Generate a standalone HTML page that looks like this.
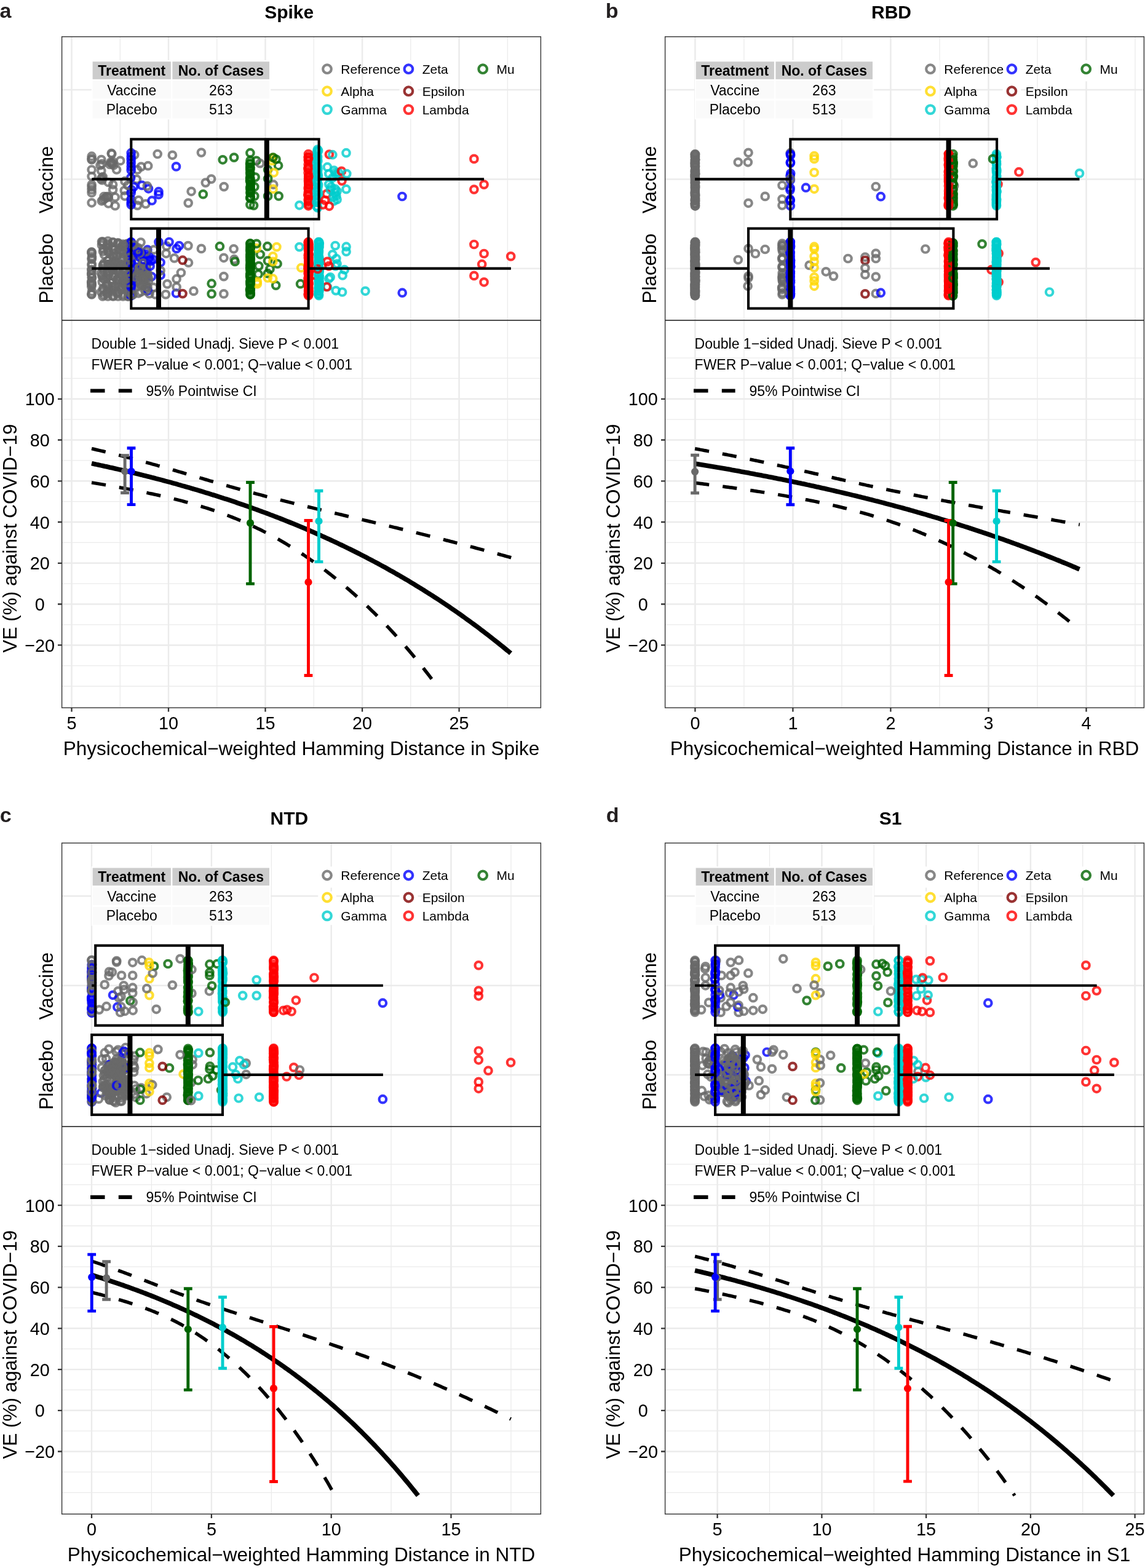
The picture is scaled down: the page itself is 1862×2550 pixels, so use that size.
<!DOCTYPE html>
<html lang="en">
<head>
<meta charset="utf-8">
<title>Sieve analysis: VE by physicochemical-weighted Hamming distance</title>
<style>
html,body{margin:0;padding:0;background:#fff}
body{width:1862px;height:2550px;overflow:hidden}
svg{display:block;font-family:'Liberation Sans', Arial, Helvetica, sans-serif}
</style>
</head>
<body>
<svg width="1862" height="2550" viewBox="0 0 1862 2550">
<rect width="1862" height="2550" fill="#fff"/>
<g transform="translate(0,0)">
<rect x="100.6" y="59.7" width="778.8" height="1091.3" fill="#fff"/>
<g stroke="#ebebeb" fill="none"><path d="M195.3 59.7V1151" stroke-width="1.3"/><path d="M352.8 59.7V1151" stroke-width="1.3"/><path d="M510.3 59.7V1151" stroke-width="1.3"/><path d="M667.8 59.7V1151" stroke-width="1.3"/><path d="M825.4 59.7V1151" stroke-width="1.3"/><path d="M116.5 59.7V1151" stroke-width="2.45"/><path d="M274 59.7V1151" stroke-width="2.45"/><path d="M431.5 59.7V1151" stroke-width="2.45"/><path d="M589.1 59.7V1151" stroke-width="2.45"/><path d="M746.6 59.7V1151" stroke-width="2.45"/><path d="M100.6 146H879.4" stroke-width="2.45"/><path d="M100.6 291.4H879.4" stroke-width="2.45"/><path d="M100.6 436.6H879.4" stroke-width="2.45"/><path d="M100.6 1116H879.4" stroke-width="1.3"/><path d="M100.6 1082.6H879.4" stroke-width="1.3"/><path d="M100.6 1049.2H879.4" stroke-width="2.45"/><path d="M100.6 1015.9H879.4" stroke-width="1.3"/><path d="M100.6 982.5H879.4" stroke-width="2.45"/><path d="M100.6 949.1H879.4" stroke-width="1.3"/><path d="M100.6 915.8H879.4" stroke-width="2.45"/><path d="M100.6 882.4H879.4" stroke-width="1.3"/><path d="M100.6 849H879.4" stroke-width="2.45"/><path d="M100.6 815.6H879.4" stroke-width="1.3"/><path d="M100.6 782.3H879.4" stroke-width="2.45"/><path d="M100.6 748.9H879.4" stroke-width="1.3"/><path d="M100.6 715.5H879.4" stroke-width="2.45"/><path d="M100.6 682.2H879.4" stroke-width="1.3"/><path d="M100.6 648.8H879.4" stroke-width="2.45"/><path d="M100.6 615.4H879.4" stroke-width="1.3"/><path d="M100.6 582.1H879.4" stroke-width="1.3"/></g>
<rect x="148.8" y="97.9" width="291.4" height="96.3" fill="#fff"/><rect x="150.6" y="100.2" width="127.3" height="28.7" fill="#ccc"/><rect x="280.4" y="100.2" width="157.6" height="28.7" fill="#ccc"/><rect x="150.6" y="131.4" width="127.3" height="29" fill="#fafafa"/><rect x="280.4" y="131.4" width="157.6" height="29" fill="#fafafa"/><rect x="150.6" y="163.6" width="127.3" height="29" fill="#fafafa"/><rect x="280.4" y="163.6" width="157.6" height="29" fill="#fafafa"/><g font-size="23" fill="#000" text-anchor="middle"><text x="214.2" y="123.2" font-weight="bold">Treatment</text><text x="359.3" y="123.2" font-weight="bold">No. of Cases</text><text x="214.2" y="154.7">Vaccine</text><text x="359.3" y="154.7">263</text><text x="214.2" y="185.7">Placebo</text><text x="359.3" y="185.7">513</text></g>
<rect x="517.2" y="98" width="29.8" height="34.3" fill="#fff"/><rect x="649.6" y="98" width="29.8" height="34.3" fill="#fff"/><rect x="770.3" y="98" width="29.8" height="34.3" fill="#fff"/><rect x="517.2" y="138.3" width="29.8" height="54.7" fill="#fff"/><rect x="649.6" y="138.3" width="29.8" height="54.7" fill="#fff"/><g fill="none" stroke-width="4.2" stroke-opacity="0.8"><circle cx="532" cy="112.2" r="6.8" stroke="#696969"/><circle cx="532" cy="148.2" r="6.8" stroke="#ffd700"/><circle cx="532" cy="178.1" r="6.8" stroke="#00cdcd"/><circle cx="664.4" cy="112.2" r="6.8" stroke="#0000ff"/><circle cx="664.4" cy="148.2" r="6.8" stroke="#800000"/><circle cx="664.4" cy="178.1" r="6.8" stroke="#ff0000"/><circle cx="785.2" cy="112.2" r="6.8" stroke="#006400"/></g><g font-size="21" fill="#000"><text x="554.3" y="119.6">Reference</text><text x="554.3" y="155.6">Alpha</text><text x="554.3" y="185.5">Gamma</text><text x="686.7" y="119.6">Zeta</text><text x="686.7" y="155.6">Epsilon</text><text x="686.7" y="185.5">Lambda</text><text x="807.5" y="119.6">Mu</text></g>
<g fill="none" stroke-width="4.2" stroke-opacity="0.8"><circle cx="501.3" cy="462.9" r="5.75" stroke="#ff0000"/><circle cx="177" cy="468.4" r="5.75" stroke="#696969"/><circle cx="502" cy="397.2" r="5.75" stroke="#ff0000"/><circle cx="501.5" cy="407.2" r="5.75" stroke="#ff0000"/><circle cx="243" cy="477.6" r="5.75" stroke="#696969"/><circle cx="548.1" cy="429" r="5.75" stroke="#00cdcd"/><circle cx="240.7" cy="269.7" r="5.75" stroke="#696969"/><circle cx="149.1" cy="276" r="5.75" stroke="#696969"/><circle cx="246.5" cy="449.8" r="5.75" stroke="#0000ff"/><circle cx="192" cy="395" r="5.75" stroke="#696969"/><circle cx="223.5" cy="455.5" r="5.75" stroke="#696969"/><circle cx="501.8" cy="271.2" r="5.75" stroke="#ff0000"/><circle cx="406.6" cy="288.4" r="5.75" stroke="#006400"/><circle cx="502" cy="460.6" r="5.75" stroke="#ff0000"/><circle cx="229" cy="394.1" r="5.75" stroke="#696969"/><circle cx="444.7" cy="300.2" r="5.75" stroke="#696969"/><circle cx="236.9" cy="331.6" r="5.75" stroke="#696969"/><circle cx="183.4" cy="394" r="5.75" stroke="#696969"/><circle cx="213.5" cy="403.4" r="5.75" stroke="#0000ff"/><circle cx="190.4" cy="436" r="5.75" stroke="#696969"/><circle cx="501.5" cy="293.4" r="5.75" stroke="#ff0000"/><circle cx="423.2" cy="413.8" r="5.75" stroke="#006400"/><circle cx="518.5" cy="458.3" r="5.75" stroke="#00cdcd"/><circle cx="218.3" cy="402.1" r="5.75" stroke="#696969"/><circle cx="223.5" cy="334.1" r="5.75" stroke="#696969"/><circle cx="518" cy="437.5" r="5.75" stroke="#00cdcd"/><circle cx="225.1" cy="439.8" r="5.75" stroke="#696969"/><circle cx="213.4" cy="464.5" r="5.75" stroke="#0000ff"/><circle cx="444.1" cy="307.4" r="5.75" stroke="#ffd700"/><circle cx="516.9" cy="305.5" r="5.75" stroke="#00cdcd"/><circle cx="534.8" cy="453.2" r="5.75" stroke="#00cdcd"/><circle cx="239.9" cy="406.2" r="5.75" stroke="#0000ff"/><circle cx="538.4" cy="303.8" r="5.75" stroke="#00cdcd"/><circle cx="416.9" cy="261.4" r="5.75" stroke="#006400"/><circle cx="502.1" cy="453.6" r="5.75" stroke="#ff0000"/><circle cx="213.6" cy="447.5" r="5.75" stroke="#0000ff"/><circle cx="406.9" cy="396" r="5.75" stroke="#006400"/><circle cx="192" cy="428.7" r="5.75" stroke="#696969"/><circle cx="208.3" cy="415.2" r="5.75" stroke="#696969"/><circle cx="519.1" cy="437.4" r="5.75" stroke="#00cdcd"/><circle cx="501.2" cy="454" r="5.75" stroke="#ff0000"/><circle cx="261.1" cy="447.4" r="5.75" stroke="#0000ff"/><circle cx="148.7" cy="445.4" r="5.75" stroke="#696969"/><circle cx="183" cy="433.4" r="5.75" stroke="#696969"/><circle cx="189.6" cy="276" r="5.75" stroke="#696969"/><circle cx="213.5" cy="444.9" r="5.75" stroke="#0000ff"/><circle cx="176.7" cy="410.7" r="5.75" stroke="#696969"/><circle cx="200.4" cy="438.1" r="5.75" stroke="#696969"/><circle cx="280.4" cy="252.3" r="5.75" stroke="#696969"/><circle cx="192" cy="482" r="5.75" stroke="#696969"/><circle cx="543.3" cy="277.2" r="5.75" stroke="#00cdcd"/><circle cx="176.2" cy="423.5" r="5.75" stroke="#696969"/><circle cx="546.9" cy="284.4" r="5.75" stroke="#00cdcd"/><circle cx="190.1" cy="455.5" r="5.75" stroke="#696969"/><circle cx="407.4" cy="467.6" r="5.75" stroke="#006400"/><circle cx="501.5" cy="334.8" r="5.75" stroke="#ff0000"/><circle cx="213.4" cy="421.7" r="5.75" stroke="#0000ff"/><circle cx="206" cy="464.6" r="5.75" stroke="#696969"/><circle cx="518.8" cy="427.9" r="5.75" stroke="#00cdcd"/><circle cx="489.8" cy="435.5" r="5.75" stroke="#ffd700"/><circle cx="249.6" cy="467.4" r="5.75" stroke="#696969"/><circle cx="149.1" cy="286.8" r="5.75" stroke="#696969"/><circle cx="516.2" cy="293.1" r="5.75" stroke="#00cdcd"/><circle cx="170.3" cy="323.2" r="5.75" stroke="#696969"/><circle cx="305.9" cy="399.6" r="5.75" stroke="#696969"/><circle cx="175" cy="396.6" r="5.75" stroke="#696969"/><circle cx="518.7" cy="401.8" r="5.75" stroke="#00cdcd"/><circle cx="183" cy="473.4" r="5.75" stroke="#696969"/><circle cx="488.6" cy="461.7" r="5.75" stroke="#006400"/><circle cx="501.8" cy="287.6" r="5.75" stroke="#ff0000"/><circle cx="545.7" cy="280.8" r="5.75" stroke="#00cdcd"/><circle cx="406.8" cy="446.5" r="5.75" stroke="#006400"/><circle cx="518.3" cy="439.4" r="5.75" stroke="#00cdcd"/><circle cx="502" cy="447.9" r="5.75" stroke="#ff0000"/><circle cx="214.7" cy="438.1" r="5.75" stroke="#696969"/><circle cx="165.4" cy="326.8" r="5.75" stroke="#696969"/><circle cx="406.9" cy="291" r="5.75" stroke="#006400"/><circle cx="556" cy="294.1" r="5.75" stroke="#ff0000"/><circle cx="149.2" cy="429.5" r="5.75" stroke="#696969"/><circle cx="221" cy="445.4" r="5.75" stroke="#696969"/><circle cx="189.5" cy="416.2" r="5.75" stroke="#696969"/><circle cx="182.2" cy="458.8" r="5.75" stroke="#696969"/><circle cx="406.9" cy="274.8" r="5.75" stroke="#006400"/><circle cx="515" cy="309.8" r="5.75" stroke="#00cdcd"/><circle cx="169.5" cy="454.2" r="5.75" stroke="#696969"/><circle cx="183.6" cy="308.6" r="5.75" stroke="#696969"/><circle cx="517.8" cy="413.9" r="5.75" stroke="#00cdcd"/><circle cx="486.9" cy="333.8" r="5.75" stroke="#00cdcd"/><circle cx="407.2" cy="303.8" r="5.75" stroke="#006400"/><circle cx="163" cy="268.7" r="5.75" stroke="#696969"/><circle cx="518.2" cy="473.4" r="5.75" stroke="#00cdcd"/><circle cx="184" cy="417.5" r="5.75" stroke="#696969"/><circle cx="501.1" cy="435.1" r="5.75" stroke="#ff0000"/><circle cx="167.3" cy="452" r="5.75" stroke="#696969"/><circle cx="269.5" cy="478.9" r="5.75" stroke="#696969"/><circle cx="519.1" cy="422.6" r="5.75" stroke="#00cdcd"/><circle cx="182.2" cy="454.6" r="5.75" stroke="#696969"/><circle cx="501" cy="274.7" r="5.75" stroke="#ff0000"/><circle cx="249" cy="422" r="5.75" stroke="#0000ff"/><circle cx="283.5" cy="419.9" r="5.75" stroke="#696969"/><circle cx="306.2" cy="330.1" r="5.75" stroke="#696969"/><circle cx="213.2" cy="480.6" r="5.75" stroke="#0000ff"/><circle cx="443.5" cy="256.6" r="5.75" stroke="#ffd700"/><circle cx="226" cy="415" r="5.75" stroke="#696969"/><circle cx="516.5" cy="329" r="5.75" stroke="#00cdcd"/><circle cx="519.3" cy="449.8" r="5.75" stroke="#00cdcd"/><circle cx="200" cy="409.1" r="5.75" stroke="#696969"/><circle cx="222.3" cy="291.7" r="5.75" stroke="#696969"/><circle cx="407" cy="266" r="5.75" stroke="#006400"/><circle cx="176.2" cy="430.2" r="5.75" stroke="#696969"/><circle cx="517.9" cy="431.7" r="5.75" stroke="#00cdcd"/><circle cx="232.4" cy="433.3" r="5.75" stroke="#696969"/><circle cx="213.5" cy="471.9" r="5.75" stroke="#0000ff"/><circle cx="501.2" cy="255.2" r="5.75" stroke="#ff0000"/><circle cx="250.2" cy="406.2" r="5.75" stroke="#696969"/><circle cx="517.9" cy="417.8" r="5.75" stroke="#00cdcd"/><circle cx="406.7" cy="407.9" r="5.75" stroke="#006400"/><circle cx="486.9" cy="401.6" r="5.75" stroke="#00cdcd"/><circle cx="420.1" cy="446" r="5.75" stroke="#006400"/><circle cx="516.5" cy="338" r="5.75" stroke="#00cdcd"/><circle cx="407.3" cy="419" r="5.75" stroke="#006400"/><circle cx="407.5" cy="296.7" r="5.75" stroke="#006400"/><circle cx="261.1" cy="426.8" r="5.75" stroke="#0000ff"/><circle cx="214.4" cy="461.4" r="5.75" stroke="#696969"/><circle cx="407.4" cy="428.8" r="5.75" stroke="#006400"/><circle cx="184.8" cy="268.7" r="5.75" stroke="#696969"/><circle cx="560.2" cy="438.7" r="5.75" stroke="#00cdcd"/><circle cx="517" cy="275.6" r="5.75" stroke="#00cdcd"/><circle cx="258" cy="316.5" r="5.75" stroke="#0000ff"/><circle cx="502.1" cy="444.5" r="5.75" stroke="#ff0000"/><circle cx="501.6" cy="255.5" r="5.75" stroke="#ff0000"/><circle cx="517.9" cy="425.2" r="5.75" stroke="#00cdcd"/><circle cx="517.7" cy="245" r="5.75" stroke="#00cdcd"/><circle cx="545.1" cy="307.4" r="5.75" stroke="#00cdcd"/><circle cx="214.4" cy="449.2" r="5.75" stroke="#696969"/><circle cx="218.7" cy="251.7" r="5.75" stroke="#696969"/><circle cx="270.8" cy="400.2" r="5.75" stroke="#696969"/><circle cx="223.5" cy="423.2" r="5.75" stroke="#0000ff"/><circle cx="407.4" cy="299.4" r="5.75" stroke="#006400"/><circle cx="200" cy="482" r="5.75" stroke="#696969"/><circle cx="184" cy="394" r="5.75" stroke="#696969"/><circle cx="344.1" cy="461.2" r="5.75" stroke="#006400"/><circle cx="501.6" cy="290.5" r="5.75" stroke="#ff0000"/><circle cx="148.8" cy="466.1" r="5.75" stroke="#696969"/><circle cx="406.7" cy="280.4" r="5.75" stroke="#006400"/><circle cx="149.1" cy="431.6" r="5.75" stroke="#696969"/><circle cx="223.5" cy="276" r="5.75" stroke="#696969"/><circle cx="176.3" cy="296.5" r="5.75" stroke="#696969"/><circle cx="518.6" cy="393.6" r="5.75" stroke="#00cdcd"/><circle cx="535.4" cy="251.1" r="5.75" stroke="#ff0000"/><circle cx="519.1" cy="395.4" r="5.75" stroke="#00cdcd"/><circle cx="213.2" cy="265.1" r="5.75" stroke="#0000ff"/><circle cx="516" cy="245.9" r="5.75" stroke="#00cdcd"/><circle cx="407.5" cy="402.5" r="5.75" stroke="#006400"/><circle cx="406.9" cy="440.6" r="5.75" stroke="#006400"/><circle cx="515" cy="335.5" r="5.75" stroke="#00cdcd"/><circle cx="531.2" cy="315.3" r="5.75" stroke="#ff0000"/><circle cx="770.9" cy="397.5" r="5.75" stroke="#ff0000"/><circle cx="546.2" cy="472.6" r="5.75" stroke="#00cdcd"/><circle cx="191" cy="477.4" r="5.75" stroke="#696969"/><circle cx="435.4" cy="444.7" r="5.75" stroke="#006400"/><circle cx="240.4" cy="445.1" r="5.75" stroke="#696969"/><circle cx="501.9" cy="286.3" r="5.75" stroke="#ff0000"/><circle cx="201.3" cy="458.5" r="5.75" stroke="#696969"/><circle cx="519.2" cy="458.5" r="5.75" stroke="#00cdcd"/><circle cx="518" cy="405.9" r="5.75" stroke="#00cdcd"/><circle cx="185.2" cy="449.6" r="5.75" stroke="#696969"/><circle cx="149.4" cy="451.7" r="5.75" stroke="#696969"/><circle cx="435.6" cy="276" r="5.75" stroke="#006400"/><circle cx="167.5" cy="408.8" r="5.75" stroke="#696969"/><circle cx="516.7" cy="281.9" r="5.75" stroke="#00cdcd"/><circle cx="226.4" cy="445.9" r="5.75" stroke="#696969"/><circle cx="231.1" cy="423.8" r="5.75" stroke="#696969"/><circle cx="226.2" cy="448.6" r="5.75" stroke="#696969"/><circle cx="537.2" cy="308.6" r="5.75" stroke="#00cdcd"/><circle cx="443.8" cy="416.9" r="5.75" stroke="#ffd700"/><circle cx="502.1" cy="420.4" r="5.75" stroke="#ff0000"/><circle cx="236.9" cy="413.5" r="5.75" stroke="#0000ff"/><circle cx="407.2" cy="471.2" r="5.75" stroke="#006400"/><circle cx="206.4" cy="450.2" r="5.75" stroke="#696969"/><circle cx="311.1" cy="311.3" r="5.75" stroke="#696969"/><circle cx="501.5" cy="473.2" r="5.75" stroke="#ff0000"/><circle cx="452.6" cy="269.3" r="5.75" stroke="#006400"/><circle cx="187.2" cy="320.7" r="5.75" stroke="#696969"/><circle cx="195.7" cy="261.4" r="5.75" stroke="#696969"/><circle cx="435.4" cy="452" r="5.75" stroke="#ffd700"/><circle cx="445.3" cy="280.8" r="5.75" stroke="#ffd700"/><circle cx="182.4" cy="266.3" r="5.75" stroke="#696969"/><circle cx="406.5" cy="294.1" r="5.75" stroke="#006400"/><circle cx="453.2" cy="318.9" r="5.75" stroke="#006400"/><circle cx="206.1" cy="413.3" r="5.75" stroke="#696969"/><circle cx="275" cy="393.5" r="5.75" stroke="#0000ff"/><circle cx="234.4" cy="417.1" r="5.75" stroke="#0000ff"/><circle cx="501.1" cy="394.2" r="5.75" stroke="#ff0000"/><circle cx="407.4" cy="421.7" r="5.75" stroke="#006400"/><circle cx="517.8" cy="478" r="5.75" stroke="#00cdcd"/><circle cx="406.5" cy="266.7" r="5.75" stroke="#006400"/><circle cx="213.2" cy="407.8" r="5.75" stroke="#0000ff"/><circle cx="190.1" cy="416.1" r="5.75" stroke="#696969"/><circle cx="167.8" cy="325" r="5.75" stroke="#696969"/><circle cx="184.4" cy="411.5" r="5.75" stroke="#696969"/><circle cx="451.1" cy="429" r="5.75" stroke="#006400"/><circle cx="501.7" cy="432.8" r="5.75" stroke="#ff0000"/><circle cx="406.6" cy="435.2" r="5.75" stroke="#006400"/><circle cx="185.1" cy="427.1" r="5.75" stroke="#696969"/><circle cx="501.2" cy="260.3" r="5.75" stroke="#ff0000"/><circle cx="363.9" cy="449.6" r="5.75" stroke="#696969"/><circle cx="242.9" cy="418.3" r="5.75" stroke="#0000ff"/><circle cx="149.1" cy="308.6" r="5.75" stroke="#696969"/><circle cx="209.1" cy="419" r="5.75" stroke="#696969"/><circle cx="230.2" cy="464.4" r="5.75" stroke="#696969"/><circle cx="208" cy="396" r="5.75" stroke="#696969"/><circle cx="175.8" cy="448.1" r="5.75" stroke="#696969"/><circle cx="407" cy="479" r="5.75" stroke="#006400"/><circle cx="149.4" cy="451.2" r="5.75" stroke="#696969"/><circle cx="502" cy="261.3" r="5.75" stroke="#ff0000"/><circle cx="501.2" cy="316.2" r="5.75" stroke="#ff0000"/><circle cx="213" cy="450.3" r="5.75" stroke="#0000ff"/><circle cx="407.5" cy="430.6" r="5.75" stroke="#006400"/><circle cx="406.8" cy="414.2" r="5.75" stroke="#006400"/><circle cx="172.7" cy="320.7" r="5.75" stroke="#696969"/><circle cx="227.8" cy="461.4" r="5.75" stroke="#696969"/><circle cx="442.3" cy="261.4" r="5.75" stroke="#ffd700"/><circle cx="214.3" cy="422.4" r="5.75" stroke="#696969"/><circle cx="168.3" cy="405.1" r="5.75" stroke="#696969"/><circle cx="233.2" cy="459.9" r="5.75" stroke="#696969"/><circle cx="532.4" cy="466.5" r="5.75" stroke="#00cdcd"/><circle cx="203" cy="318.9" r="5.75" stroke="#696969"/><circle cx="191.1" cy="440.7" r="5.75" stroke="#696969"/><circle cx="198.4" cy="407.1" r="5.75" stroke="#696969"/><circle cx="167.2" cy="287.5" r="5.75" stroke="#696969"/><circle cx="407.2" cy="404" r="5.75" stroke="#006400"/><circle cx="197.6" cy="424.1" r="5.75" stroke="#696969"/><circle cx="515" cy="323.7" r="5.75" stroke="#00cdcd"/><circle cx="501.7" cy="398.2" r="5.75" stroke="#ff0000"/><circle cx="501.6" cy="307.9" r="5.75" stroke="#ff0000"/><circle cx="208" cy="482" r="5.75" stroke="#696969"/><circle cx="149.1" cy="421.6" r="5.75" stroke="#696969"/><circle cx="206.5" cy="430.5" r="5.75" stroke="#696969"/><circle cx="557.1" cy="447.9" r="5.75" stroke="#00cdcd"/><circle cx="197.9" cy="451.6" r="5.75" stroke="#696969"/><circle cx="233.9" cy="449.9" r="5.75" stroke="#696969"/><circle cx="518.2" cy="451.7" r="5.75" stroke="#00cdcd"/><circle cx="542.1" cy="320.7" r="5.75" stroke="#00cdcd"/><circle cx="517.3" cy="286" r="5.75" stroke="#00cdcd"/><circle cx="544.5" cy="313.5" r="5.75" stroke="#00cdcd"/><circle cx="175.1" cy="404.3" r="5.75" stroke="#696969"/><circle cx="225.7" cy="448.2" r="5.75" stroke="#696969"/><circle cx="515.6" cy="329" r="5.75" stroke="#00cdcd"/><circle cx="306.5" cy="427.2" r="5.75" stroke="#696969"/><circle cx="164.5" cy="444.1" r="5.75" stroke="#696969"/><circle cx="515.9" cy="260.6" r="5.75" stroke="#00cdcd"/><circle cx="229.2" cy="474.6" r="5.75" stroke="#696969"/><circle cx="518.3" cy="457.8" r="5.75" stroke="#00cdcd"/><circle cx="167" cy="393" r="5.75" stroke="#696969"/><circle cx="148.8" cy="445.5" r="5.75" stroke="#696969"/><circle cx="444.1" cy="256" r="5.75" stroke="#006400"/><circle cx="213.2" cy="393.6" r="5.75" stroke="#0000ff"/><circle cx="787.1" cy="412.5" r="5.75" stroke="#ff0000"/><circle cx="518" cy="453.7" r="5.75" stroke="#00cdcd"/><circle cx="406.9" cy="282.9" r="5.75" stroke="#006400"/><circle cx="406.7" cy="275.4" r="5.75" stroke="#006400"/><circle cx="149.4" cy="420" r="5.75" stroke="#696969"/><circle cx="149.1" cy="329.8" r="5.75" stroke="#696969"/><circle cx="501.8" cy="300.7" r="5.75" stroke="#ff0000"/><circle cx="448.7" cy="464.1" r="5.75" stroke="#006400"/><circle cx="213.2" cy="445.9" r="5.75" stroke="#0000ff"/><circle cx="407.2" cy="406.5" r="5.75" stroke="#006400"/><circle cx="417.2" cy="403.6" r="5.75" stroke="#ffd700"/><circle cx="435.6" cy="290.5" r="5.75" stroke="#006400"/><circle cx="501.8" cy="427.8" r="5.75" stroke="#ff0000"/><circle cx="550.5" cy="280.8" r="5.75" stroke="#00cdcd"/><circle cx="185.2" cy="405.6" r="5.75" stroke="#696969"/><circle cx="517.8" cy="300.7" r="5.75" stroke="#00cdcd"/><circle cx="413.8" cy="318.9" r="5.75" stroke="#006400"/><circle cx="240.5" cy="472.8" r="5.75" stroke="#0000ff"/><circle cx="515.1" cy="285.2" r="5.75" stroke="#00cdcd"/><circle cx="502.1" cy="430.3" r="5.75" stroke="#ff0000"/><circle cx="261.1" cy="440.1" r="5.75" stroke="#696969"/><circle cx="787.1" cy="300.1" r="5.75" stroke="#ff0000"/><circle cx="515" cy="297.6" r="5.75" stroke="#00cdcd"/><circle cx="540.8" cy="289.3" r="5.75" stroke="#00cdcd"/><circle cx="501.6" cy="478.8" r="5.75" stroke="#ff0000"/><circle cx="519.3" cy="396.5" r="5.75" stroke="#00cdcd"/><circle cx="364.2" cy="303.6" r="5.75" stroke="#696969"/><circle cx="540.8" cy="413.8" r="5.75" stroke="#00cdcd"/><circle cx="545.2" cy="399.5" r="5.75" stroke="#00cdcd"/><circle cx="149.1" cy="410" r="5.75" stroke="#696969"/><circle cx="501.4" cy="431.9" r="5.75" stroke="#ff0000"/><circle cx="219.9" cy="437.2" r="5.75" stroke="#696969"/><circle cx="407.2" cy="313.6" r="5.75" stroke="#006400"/><circle cx="198.5" cy="466" r="5.75" stroke="#696969"/><circle cx="200.3" cy="479.7" r="5.75" stroke="#696969"/><circle cx="213" cy="410.3" r="5.75" stroke="#0000ff"/><circle cx="201.8" cy="412.6" r="5.75" stroke="#696969"/><circle cx="501.4" cy="397.9" r="5.75" stroke="#ff0000"/><circle cx="241.5" cy="306.8" r="5.75" stroke="#0000ff"/><circle cx="515.7" cy="278.8" r="5.75" stroke="#00cdcd"/><circle cx="501.4" cy="437.1" r="5.75" stroke="#ff0000"/><circle cx="501.8" cy="328.2" r="5.75" stroke="#ff0000"/><circle cx="190.6" cy="429.9" r="5.75" stroke="#696969"/><circle cx="501.8" cy="423.8" r="5.75" stroke="#ff0000"/><circle cx="175.8" cy="408.2" r="5.75" stroke="#696969"/><circle cx="174.5" cy="319.5" r="5.75" stroke="#696969"/><circle cx="407.4" cy="309.9" r="5.75" stroke="#006400"/><circle cx="502" cy="299.6" r="5.75" stroke="#ff0000"/><circle cx="357.4" cy="400.7" r="5.75" stroke="#006400"/><circle cx="174.6" cy="475" r="5.75" stroke="#696969"/><circle cx="168.2" cy="431" r="5.75" stroke="#696969"/><circle cx="543.3" cy="326.8" r="5.75" stroke="#00cdcd"/><circle cx="198.6" cy="400.6" r="5.75" stroke="#696969"/><circle cx="291.3" cy="399.6" r="5.75" stroke="#0000ff"/><circle cx="517.8" cy="414.7" r="5.75" stroke="#00cdcd"/><circle cx="187.2" cy="334.7" r="5.75" stroke="#696969"/><circle cx="406.6" cy="431.2" r="5.75" stroke="#006400"/><circle cx="449.9" cy="401.6" r="5.75" stroke="#ffd700"/><circle cx="213.8" cy="308.6" r="5.75" stroke="#0000ff"/><circle cx="165.8" cy="448.4" r="5.75" stroke="#696969"/><circle cx="519" cy="401.6" r="5.75" stroke="#00cdcd"/><circle cx="435.4" cy="424.2" r="5.75" stroke="#006400"/><circle cx="501.8" cy="442.8" r="5.75" stroke="#ff0000"/><circle cx="418.4" cy="458.1" r="5.75" stroke="#ffd700"/><circle cx="241.7" cy="422" r="5.75" stroke="#0000ff"/><circle cx="166" cy="289.3" r="5.75" stroke="#696969"/><circle cx="165.5" cy="398.6" r="5.75" stroke="#696969"/><circle cx="502" cy="461.9" r="5.75" stroke="#ff0000"/><circle cx="406.6" cy="449.3" r="5.75" stroke="#006400"/><circle cx="238" cy="446.9" r="5.75" stroke="#696969"/><circle cx="167.7" cy="436.2" r="5.75" stroke="#696969"/><circle cx="518.5" cy="407.8" r="5.75" stroke="#00cdcd"/><circle cx="518.3" cy="478.4" r="5.75" stroke="#00cdcd"/><circle cx="209.1" cy="466.6" r="5.75" stroke="#696969"/><circle cx="517.9" cy="429.6" r="5.75" stroke="#00cdcd"/><circle cx="546.9" cy="420.5" r="5.75" stroke="#00cdcd"/><circle cx="212.6" cy="289.3" r="5.75" stroke="#0000ff"/><circle cx="406.7" cy="418.5" r="5.75" stroke="#006400"/><circle cx="178.7" cy="267.5" r="5.75" stroke="#696969"/><circle cx="213.2" cy="271.1" r="5.75" stroke="#0000ff"/><circle cx="287.1" cy="404.4" r="5.75" stroke="#0000ff"/><circle cx="256.2" cy="250.5" r="5.75" stroke="#696969"/><circle cx="516.9" cy="262.1" r="5.75" stroke="#00cdcd"/><circle cx="198.6" cy="430.7" r="5.75" stroke="#696969"/><circle cx="169.2" cy="479.9" r="5.75" stroke="#696969"/><circle cx="231.6" cy="443.2" r="5.75" stroke="#696969"/><circle cx="194.1" cy="409.6" r="5.75" stroke="#696969"/><circle cx="407.3" cy="463.3" r="5.75" stroke="#006400"/><circle cx="501.2" cy="267.2" r="5.75" stroke="#ff0000"/><circle cx="515.5" cy="310" r="5.75" stroke="#00cdcd"/><circle cx="175.5" cy="482" r="5.75" stroke="#696969"/><circle cx="518.2" cy="468.9" r="5.75" stroke="#00cdcd"/><circle cx="224.2" cy="457.4" r="5.75" stroke="#696969"/><circle cx="200" cy="397" r="5.75" stroke="#696969"/><circle cx="344.1" cy="477.9" r="5.75" stroke="#006400"/><circle cx="327.4" cy="248.1" r="5.75" stroke="#696969"/><circle cx="183" cy="466.7" r="5.75" stroke="#696969"/><circle cx="149.2" cy="412.3" r="5.75" stroke="#696969"/><circle cx="516" cy="336.3" r="5.75" stroke="#00cdcd"/><circle cx="380.6" cy="256.1" r="5.75" stroke="#006400"/><circle cx="294.4" cy="443.5" r="5.75" stroke="#696969"/><circle cx="406.9" cy="332.9" r="5.75" stroke="#006400"/><circle cx="184" cy="482" r="5.75" stroke="#696969"/><circle cx="217.8" cy="464.1" r="5.75" stroke="#696969"/><circle cx="501.3" cy="414.9" r="5.75" stroke="#ff0000"/><circle cx="380.9" cy="421.7" r="5.75" stroke="#696969"/><circle cx="518.9" cy="441.9" r="5.75" stroke="#00cdcd"/><circle cx="534.8" cy="282.6" r="5.75" stroke="#00cdcd"/><circle cx="518.4" cy="403.5" r="5.75" stroke="#00cdcd"/><circle cx="176.5" cy="443.6" r="5.75" stroke="#696969"/><circle cx="149.1" cy="259.6" r="5.75" stroke="#696969"/><circle cx="258" cy="311.7" r="5.75" stroke="#0000ff"/><circle cx="501.3" cy="465.4" r="5.75" stroke="#ff0000"/><circle cx="230.8" cy="301.4" r="5.75" stroke="#0000ff"/><circle cx="212.8" cy="480.6" r="5.75" stroke="#0000ff"/><circle cx="183.4" cy="439.4" r="5.75" stroke="#696969"/><circle cx="287.1" cy="453.7" r="5.75" stroke="#696969"/><circle cx="219.5" cy="452.4" r="5.75" stroke="#696969"/><circle cx="546.9" cy="318.3" r="5.75" stroke="#00cdcd"/><circle cx="420.8" cy="432.6" r="5.75" stroke="#006400"/><circle cx="184.8" cy="416.4" r="5.75" stroke="#696969"/><circle cx="407.2" cy="479" r="5.75" stroke="#006400"/><circle cx="164.8" cy="277.8" r="5.75" stroke="#696969"/><circle cx="654.2" cy="476.2" r="5.75" stroke="#0000ff"/><circle cx="501.3" cy="312.4" r="5.75" stroke="#ff0000"/><circle cx="406.9" cy="261.4" r="5.75" stroke="#006400"/><circle cx="518.1" cy="417.7" r="5.75" stroke="#00cdcd"/><circle cx="148.7" cy="459.7" r="5.75" stroke="#696969"/><circle cx="501" cy="317.1" r="5.75" stroke="#ff0000"/><circle cx="213" cy="438.4" r="5.75" stroke="#0000ff"/><circle cx="563.1" cy="409.2" r="5.75" stroke="#00cdcd"/><circle cx="407.3" cy="469.9" r="5.75" stroke="#006400"/><circle cx="406.7" cy="423.8" r="5.75" stroke="#006400"/><circle cx="531.2" cy="466.5" r="5.75" stroke="#ff0000"/><circle cx="148.8" cy="438.6" r="5.75" stroke="#696969"/><circle cx="501.5" cy="326.9" r="5.75" stroke="#ff0000"/><circle cx="166" cy="266.3" r="5.75" stroke="#696969"/><circle cx="519.1" cy="419.4" r="5.75" stroke="#00cdcd"/><circle cx="225.9" cy="439.2" r="5.75" stroke="#696969"/><circle cx="518.2" cy="474.2" r="5.75" stroke="#00cdcd"/><circle cx="563" cy="248.7" r="5.75" stroke="#00cdcd"/><circle cx="407.2" cy="427.3" r="5.75" stroke="#006400"/><circle cx="787.1" cy="458.8" r="5.75" stroke="#ff0000"/><circle cx="382.1" cy="425.4" r="5.75" stroke="#006400"/><circle cx="149.1" cy="254.2" r="5.75" stroke="#696969"/><circle cx="175" cy="441.8" r="5.75" stroke="#696969"/><circle cx="193.3" cy="450.4" r="5.75" stroke="#696969"/><circle cx="515.2" cy="322.1" r="5.75" stroke="#00cdcd"/><circle cx="229.6" cy="271.1" r="5.75" stroke="#696969"/><circle cx="435.6" cy="318.9" r="5.75" stroke="#006400"/><circle cx="511.8" cy="447.2" r="5.75" stroke="#ff0000"/><circle cx="501.2" cy="324.2" r="5.75" stroke="#ff0000"/><circle cx="830.7" cy="416.9" r="5.75" stroke="#ff0000"/><circle cx="501.2" cy="458.1" r="5.75" stroke="#ff0000"/><circle cx="206.1" cy="399.2" r="5.75" stroke="#696969"/><circle cx="193" cy="403.5" r="5.75" stroke="#696969"/><circle cx="206.2" cy="396.8" r="5.75" stroke="#696969"/><circle cx="518" cy="400" r="5.75" stroke="#00cdcd"/><circle cx="181.2" cy="265.1" r="5.75" stroke="#696969"/><circle cx="501.4" cy="437.8" r="5.75" stroke="#ff0000"/><circle cx="191.2" cy="454.7" r="5.75" stroke="#696969"/><circle cx="174.4" cy="477.7" r="5.75" stroke="#696969"/><circle cx="183.8" cy="481.1" r="5.75" stroke="#696969"/><circle cx="407.4" cy="411.5" r="5.75" stroke="#006400"/><circle cx="502" cy="412.8" r="5.75" stroke="#ff0000"/><circle cx="407.1" cy="452.5" r="5.75" stroke="#006400"/><circle cx="406.9" cy="447" r="5.75" stroke="#006400"/><circle cx="149.2" cy="463.3" r="5.75" stroke="#696969"/><circle cx="501.8" cy="332.5" r="5.75" stroke="#ff0000"/><circle cx="501.3" cy="443.5" r="5.75" stroke="#ff0000"/><circle cx="213.3" cy="401.1" r="5.75" stroke="#0000ff"/><circle cx="199.1" cy="468.4" r="5.75" stroke="#696969"/><circle cx="202.3" cy="309.8" r="5.75" stroke="#696969"/><circle cx="518.1" cy="393.6" r="5.75" stroke="#00cdcd"/><circle cx="406.7" cy="294.3" r="5.75" stroke="#006400"/><circle cx="213.5" cy="412.4" r="5.75" stroke="#0000ff"/><circle cx="149.5" cy="474.1" r="5.75" stroke="#696969"/><circle cx="210.2" cy="431.3" r="5.75" stroke="#696969"/><circle cx="237.6" cy="409.1" r="5.75" stroke="#696969"/><circle cx="213.2" cy="332.9" r="5.75" stroke="#0000ff"/><circle cx="407.1" cy="403.1" r="5.75" stroke="#006400"/><circle cx="501.8" cy="470.6" r="5.75" stroke="#ff0000"/><circle cx="149.1" cy="300.2" r="5.75" stroke="#696969"/><circle cx="149.5" cy="417.3" r="5.75" stroke="#696969"/><circle cx="169.6" cy="414.3" r="5.75" stroke="#696969"/><circle cx="563.1" cy="401.2" r="5.75" stroke="#00cdcd"/><circle cx="517.6" cy="318.3" r="5.75" stroke="#00cdcd"/><circle cx="545.7" cy="432.6" r="5.75" stroke="#00cdcd"/><circle cx="182.7" cy="470.8" r="5.75" stroke="#696969"/><circle cx="149.2" cy="439.6" r="5.75" stroke="#696969"/><circle cx="501.8" cy="477.9" r="5.75" stroke="#ff0000"/><circle cx="770.9" cy="308.1" r="5.75" stroke="#ff0000"/><circle cx="228.1" cy="437.3" r="5.75" stroke="#696969"/><circle cx="192.8" cy="465.2" r="5.75" stroke="#696969"/><circle cx="206.1" cy="466.8" r="5.75" stroke="#696969"/><circle cx="202.4" cy="438.2" r="5.75" stroke="#696969"/><circle cx="518.8" cy="444.5" r="5.75" stroke="#00cdcd"/><circle cx="213.2" cy="324.4" r="5.75" stroke="#0000ff"/><circle cx="148.7" cy="458.1" r="5.75" stroke="#696969"/><circle cx="168.5" cy="440.4" r="5.75" stroke="#696969"/><circle cx="501.8" cy="405.7" r="5.75" stroke="#ff0000"/><circle cx="182.2" cy="428.7" r="5.75" stroke="#696969"/><circle cx="169.1" cy="319.5" r="5.75" stroke="#696969"/><circle cx="148.8" cy="478.2" r="5.75" stroke="#696969"/><circle cx="238.4" cy="432.6" r="5.75" stroke="#696969"/><circle cx="213.2" cy="248.7" r="5.75" stroke="#0000ff"/><circle cx="518.2" cy="462.5" r="5.75" stroke="#00cdcd"/><circle cx="233.1" cy="463.7" r="5.75" stroke="#696969"/><circle cx="185.7" cy="434.6" r="5.75" stroke="#696969"/><circle cx="517.8" cy="424.1" r="5.75" stroke="#00cdcd"/><circle cx="518.4" cy="434" r="5.75" stroke="#00cdcd"/><circle cx="327.4" cy="404.4" r="5.75" stroke="#696969"/><circle cx="224.6" cy="403.1" r="5.75" stroke="#696969"/><circle cx="515.5" cy="311" r="5.75" stroke="#00cdcd"/><circle cx="654" cy="319.5" r="5.75" stroke="#0000ff"/><circle cx="532.4" cy="271.7" r="5.75" stroke="#00cdcd"/><circle cx="412.6" cy="334.1" r="5.75" stroke="#006400"/><circle cx="217.5" cy="303.8" r="5.75" stroke="#0000ff"/><circle cx="517.8" cy="313.2" r="5.75" stroke="#00cdcd"/><circle cx="502" cy="428.8" r="5.75" stroke="#ff0000"/><circle cx="501.9" cy="475.1" r="5.75" stroke="#ff0000"/><circle cx="537.2" cy="450.8" r="5.75" stroke="#00cdcd"/><circle cx="516.6" cy="255.5" r="5.75" stroke="#00cdcd"/><circle cx="501.3" cy="445.2" r="5.75" stroke="#ff0000"/><circle cx="176.3" cy="331" r="5.75" stroke="#696969"/><circle cx="238" cy="437.1" r="5.75" stroke="#696969"/><circle cx="501.9" cy="402.2" r="5.75" stroke="#ff0000"/><circle cx="532.4" cy="425.4" r="5.75" stroke="#ff0000"/><circle cx="516.2" cy="255" r="5.75" stroke="#00cdcd"/><circle cx="363.9" cy="419.3" r="5.75" stroke="#696969"/><circle cx="240.1" cy="467.6" r="5.75" stroke="#696969"/><circle cx="517.2" cy="285.8" r="5.75" stroke="#00cdcd"/><circle cx="516.6" cy="270.3" r="5.75" stroke="#00cdcd"/><circle cx="555.4" cy="278.4" r="5.75" stroke="#ff0000"/><circle cx="213.7" cy="456.2" r="5.75" stroke="#0000ff"/><circle cx="200.1" cy="449.6" r="5.75" stroke="#696969"/><circle cx="207.3" cy="427.3" r="5.75" stroke="#696969"/><circle cx="501.6" cy="295.7" r="5.75" stroke="#ff0000"/><circle cx="501.2" cy="273.5" r="5.75" stroke="#ff0000"/><circle cx="418.4" cy="461.7" r="5.75" stroke="#ffd700"/><circle cx="191.4" cy="395.3" r="5.75" stroke="#696969"/><circle cx="343.6" cy="291.1" r="5.75" stroke="#696969"/><circle cx="594.1" cy="473.3" r="5.75" stroke="#00cdcd"/><circle cx="167.3" cy="431.4" r="5.75" stroke="#696969"/><circle cx="183.6" cy="300.2" r="5.75" stroke="#696969"/><circle cx="209.6" cy="475.1" r="5.75" stroke="#696969"/><circle cx="149.1" cy="479" r="5.75" stroke="#696969"/><circle cx="548.1" cy="324.4" r="5.75" stroke="#00cdcd"/><circle cx="197.6" cy="431.4" r="5.75" stroke="#696969"/><circle cx="167.8" cy="468.8" r="5.75" stroke="#696969"/><circle cx="406.9" cy="400.1" r="5.75" stroke="#006400"/><circle cx="770.9" cy="258.4" r="5.75" stroke="#ff0000"/><circle cx="231.6" cy="435.8" r="5.75" stroke="#696969"/><circle cx="297" cy="423.2" r="5.75" stroke="#800000"/><circle cx="241.1" cy="451.5" r="5.75" stroke="#696969"/><circle cx="535.4" cy="335.3" r="5.75" stroke="#ff0000"/><circle cx="164.6" cy="474.9" r="5.75" stroke="#696969"/><circle cx="149.1" cy="313.5" r="5.75" stroke="#696969"/><circle cx="201.6" cy="436.7" r="5.75" stroke="#696969"/><circle cx="232" cy="434.1" r="5.75" stroke="#0000ff"/><circle cx="272" cy="461.9" r="5.75" stroke="#696969"/><circle cx="213.2" cy="313.5" r="5.75" stroke="#0000ff"/><circle cx="237" cy="472.6" r="5.75" stroke="#696969"/><circle cx="519.1" cy="468.9" r="5.75" stroke="#00cdcd"/><circle cx="232.8" cy="437" r="5.75" stroke="#696969"/><circle cx="258" cy="393.5" r="5.75" stroke="#0000ff"/><circle cx="515.5" cy="251" r="5.75" stroke="#00cdcd"/><circle cx="149.3" cy="461.7" r="5.75" stroke="#696969"/><circle cx="181.8" cy="250.5" r="5.75" stroke="#696969"/><circle cx="166" cy="292.9" r="5.75" stroke="#696969"/><circle cx="406.6" cy="472.5" r="5.75" stroke="#006400"/><circle cx="563.8" cy="282.6" r="5.75" stroke="#00cdcd"/><circle cx="518.4" cy="410.3" r="5.75" stroke="#00cdcd"/><circle cx="176.1" cy="471.6" r="5.75" stroke="#696969"/><circle cx="223" cy="446.6" r="5.75" stroke="#696969"/><circle cx="229.6" cy="412.3" r="5.75" stroke="#0000ff"/><circle cx="167" cy="394.6" r="5.75" stroke="#696969"/><circle cx="208.7" cy="482" r="5.75" stroke="#696969"/><circle cx="407" cy="462.5" r="5.75" stroke="#006400"/><circle cx="207.8" cy="301.4" r="5.75" stroke="#696969"/><circle cx="534.8" cy="299.6" r="5.75" stroke="#00cdcd"/><circle cx="501.6" cy="480.6" r="5.75" stroke="#ff0000"/><circle cx="167" cy="482" r="5.75" stroke="#696969"/><circle cx="213" cy="394.4" r="5.75" stroke="#0000ff"/><circle cx="548.1" cy="311.1" r="5.75" stroke="#00cdcd"/><circle cx="192.5" cy="436.2" r="5.75" stroke="#696969"/><circle cx="334.3" cy="297.1" r="5.75" stroke="#696969"/><circle cx="501.2" cy="478.8" r="5.75" stroke="#ff0000"/><circle cx="177.8" cy="429.5" r="5.75" stroke="#696969"/><circle cx="514.9" cy="328.7" r="5.75" stroke="#00cdcd"/><circle cx="184.6" cy="449" r="5.75" stroke="#696969"/><circle cx="227.2" cy="418.3" r="5.75" stroke="#0000ff"/><circle cx="516.4" cy="298.4" r="5.75" stroke="#00cdcd"/><circle cx="415.1" cy="288.1" r="5.75" stroke="#006400"/><circle cx="213.2" cy="329.2" r="5.75" stroke="#0000ff"/><circle cx="501.5" cy="250.6" r="5.75" stroke="#ff0000"/><circle cx="176.3" cy="320.7" r="5.75" stroke="#696969"/><circle cx="407" cy="396" r="5.75" stroke="#006400"/><circle cx="174.9" cy="424" r="5.75" stroke="#696969"/><circle cx="213.2" cy="254.2" r="5.75" stroke="#0000ff"/><circle cx="193.1" cy="439.4" r="5.75" stroke="#696969"/><circle cx="519.4" cy="427.1" r="5.75" stroke="#00cdcd"/><circle cx="165.5" cy="393" r="5.75" stroke="#696969"/><circle cx="213.3" cy="463.9" r="5.75" stroke="#0000ff"/><circle cx="237.9" cy="450.4" r="5.75" stroke="#696969"/><circle cx="213.2" cy="259.6" r="5.75" stroke="#0000ff"/><circle cx="177.6" cy="398.8" r="5.75" stroke="#696969"/><circle cx="198.2" cy="471.1" r="5.75" stroke="#696969"/><circle cx="517.8" cy="446.9" r="5.75" stroke="#00cdcd"/><circle cx="232.5" cy="427.8" r="5.75" stroke="#696969"/><circle cx="516.4" cy="258.7" r="5.75" stroke="#00cdcd"/><circle cx="501.7" cy="287.1" r="5.75" stroke="#ff0000"/><circle cx="519.3" cy="463.7" r="5.75" stroke="#00cdcd"/><circle cx="525.1" cy="332.9" r="5.75" stroke="#ff0000"/><circle cx="519" cy="439.3" r="5.75" stroke="#00cdcd"/><circle cx="164.2" cy="291.1" r="5.75" stroke="#696969"/><circle cx="208.5" cy="453.1" r="5.75" stroke="#696969"/><circle cx="407.2" cy="437.4" r="5.75" stroke="#006400"/><circle cx="227.5" cy="411.3" r="5.75" stroke="#696969"/><circle cx="518.6" cy="434.3" r="5.75" stroke="#00cdcd"/><circle cx="213" cy="427.8" r="5.75" stroke="#0000ff"/><circle cx="183.5" cy="402" r="5.75" stroke="#696969"/><circle cx="406.8" cy="272.1" r="5.75" stroke="#006400"/><circle cx="501.6" cy="257.7" r="5.75" stroke="#ff0000"/><circle cx="528.7" cy="325.6" r="5.75" stroke="#ff0000"/><circle cx="221.6" cy="450.7" r="5.75" stroke="#696969"/><circle cx="449" cy="259" r="5.75" stroke="#006400"/><circle cx="191.7" cy="475.8" r="5.75" stroke="#696969"/><circle cx="286.5" cy="270.9" r="5.75" stroke="#0000ff"/><circle cx="212.8" cy="427.1" r="5.75" stroke="#0000ff"/><circle cx="362.2" cy="259.8" r="5.75" stroke="#006400"/><circle cx="515.3" cy="264.7" r="5.75" stroke="#00cdcd"/><circle cx="501.6" cy="393.6" r="5.75" stroke="#ff0000"/><circle cx="501.7" cy="471.4" r="5.75" stroke="#ff0000"/><circle cx="407.3" cy="476.5" r="5.75" stroke="#006400"/><circle cx="516.5" cy="243" r="5.75" stroke="#00cdcd"/><circle cx="224.1" cy="406" r="5.75" stroke="#696969"/><circle cx="185.1" cy="425.3" r="5.75" stroke="#696969"/><circle cx="556.6" cy="475" r="5.75" stroke="#00cdcd"/><circle cx="176.2" cy="439.7" r="5.75" stroke="#696969"/><circle cx="422.9" cy="265.7" r="5.75" stroke="#696969"/><circle cx="190.6" cy="423.5" r="5.75" stroke="#696969"/><circle cx="501.1" cy="281" r="5.75" stroke="#ff0000"/><circle cx="516.2" cy="247.4" r="5.75" stroke="#00cdcd"/><circle cx="245.3" cy="424.4" r="5.75" stroke="#0000ff"/><circle cx="439" cy="437.5" r="5.75" stroke="#006400"/><circle cx="202.3" cy="462.1" r="5.75" stroke="#696969"/><circle cx="286.5" cy="477" r="5.75" stroke="#0000ff"/><circle cx="176.6" cy="431.1" r="5.75" stroke="#696969"/><circle cx="180" cy="263.8" r="5.75" stroke="#696969"/><circle cx="237.3" cy="442.4" r="5.75" stroke="#696969"/><circle cx="224.7" cy="409.8" r="5.75" stroke="#0000ff"/><circle cx="534.8" cy="432.6" r="5.75" stroke="#ff0000"/><circle cx="501.5" cy="318.6" r="5.75" stroke="#ff0000"/><circle cx="217.4" cy="398.4" r="5.75" stroke="#696969"/><circle cx="434.9" cy="400.7" r="5.75" stroke="#006400"/><circle cx="501.6" cy="416.5" r="5.75" stroke="#ff0000"/><circle cx="173.4" cy="452.6" r="5.75" stroke="#696969"/><circle cx="206.3" cy="443.3" r="5.75" stroke="#696969"/><circle cx="225.4" cy="325.6" r="5.75" stroke="#696969"/><circle cx="239.3" cy="302.6" r="5.75" stroke="#696969"/><circle cx="417.2" cy="396.3" r="5.75" stroke="#006400"/><circle cx="501.5" cy="458.3" r="5.75" stroke="#ff0000"/><circle cx="406.8" cy="446.3" r="5.75" stroke="#006400"/><circle cx="201.6" cy="454.3" r="5.75" stroke="#696969"/><circle cx="407.1" cy="459.8" r="5.75" stroke="#006400"/><circle cx="502" cy="428.6" r="5.75" stroke="#ff0000"/><circle cx="201" cy="398.5" r="5.75" stroke="#696969"/><circle cx="287.1" cy="466.7" r="5.75" stroke="#696969"/><circle cx="214.4" cy="479.3" r="5.75" stroke="#696969"/><circle cx="225.1" cy="477" r="5.75" stroke="#696969"/><circle cx="226.9" cy="435.5" r="5.75" stroke="#696969"/><circle cx="518.6" cy="480.6" r="5.75" stroke="#00cdcd"/><circle cx="407.3" cy="319.7" r="5.75" stroke="#006400"/><circle cx="236.9" cy="461.4" r="5.75" stroke="#696969"/><circle cx="380.1" cy="404.8" r="5.75" stroke="#696969"/><circle cx="407.3" cy="308.1" r="5.75" stroke="#006400"/><circle cx="519" cy="440.7" r="5.75" stroke="#00cdcd"/><circle cx="164.8" cy="259.6" r="5.75" stroke="#696969"/><circle cx="518.3" cy="478.9" r="5.75" stroke="#00cdcd"/><circle cx="166.3" cy="458.6" r="5.75" stroke="#696969"/><circle cx="519.1" cy="464.1" r="5.75" stroke="#00cdcd"/><circle cx="213.1" cy="466.6" r="5.75" stroke="#0000ff"/><circle cx="149.1" cy="303.8" r="5.75" stroke="#696969"/><circle cx="519.4" cy="463.9" r="5.75" stroke="#00cdcd"/><circle cx="502" cy="414.6" r="5.75" stroke="#ff0000"/><circle cx="406.5" cy="470.8" r="5.75" stroke="#006400"/><circle cx="407" cy="313.7" r="5.75" stroke="#006400"/><circle cx="516.1" cy="278.7" r="5.75" stroke="#00cdcd"/><circle cx="518.8" cy="448.3" r="5.75" stroke="#00cdcd"/><circle cx="515.9" cy="316.3" r="5.75" stroke="#00cdcd"/><circle cx="183.4" cy="439" r="5.75" stroke="#696969"/><circle cx="193.4" cy="396.9" r="5.75" stroke="#696969"/><circle cx="443.8" cy="425.4" r="5.75" stroke="#ffd700"/><circle cx="216.2" cy="479.3" r="5.75" stroke="#696969"/><circle cx="407.4" cy="433.5" r="5.75" stroke="#006400"/><circle cx="213.2" cy="276.6" r="5.75" stroke="#0000ff"/><circle cx="244.1" cy="432.8" r="5.75" stroke="#0000ff"/><circle cx="515.7" cy="293.9" r="5.75" stroke="#00cdcd"/><circle cx="207.5" cy="459.7" r="5.75" stroke="#696969"/><circle cx="406.9" cy="248.7" r="5.75" stroke="#006400"/><circle cx="237.3" cy="465.6" r="5.75" stroke="#696969"/><circle cx="443.8" cy="453.2" r="5.75" stroke="#ffd700"/><circle cx="563" cy="307.7" r="5.75" stroke="#00cdcd"/><circle cx="169.2" cy="428" r="5.75" stroke="#696969"/><circle cx="270.1" cy="412.3" r="5.75" stroke="#696969"/><circle cx="181.2" cy="249.3" r="5.75" stroke="#696969"/><circle cx="516" cy="272" r="5.75" stroke="#00cdcd"/><circle cx="252.6" cy="478.9" r="5.75" stroke="#696969"/><circle cx="407.3" cy="456.8" r="5.75" stroke="#006400"/><circle cx="413.8" cy="303.8" r="5.75" stroke="#006400"/><circle cx="297" cy="477.6" r="5.75" stroke="#800000"/><circle cx="174.2" cy="401.9" r="5.75" stroke="#696969"/><circle cx="519.1" cy="453.3" r="5.75" stroke="#00cdcd"/><circle cx="407.5" cy="451.5" r="5.75" stroke="#006400"/><circle cx="247.1" cy="326.2" r="5.75" stroke="#0000ff"/><circle cx="407.1" cy="414" r="5.75" stroke="#006400"/><circle cx="516.6" cy="437.5" r="5.75" stroke="#ff0000"/><circle cx="501.2" cy="305.7" r="5.75" stroke="#ff0000"/><circle cx="501.8" cy="467" r="5.75" stroke="#ff0000"/><circle cx="202.1" cy="428.3" r="5.75" stroke="#696969"/><circle cx="203" cy="294.7" r="5.75" stroke="#696969"/><circle cx="501.8" cy="425.7" r="5.75" stroke="#ff0000"/><circle cx="241.8" cy="455.9" r="5.75" stroke="#696969"/><circle cx="406.7" cy="322" r="5.75" stroke="#006400"/><circle cx="363.9" cy="477.9" r="5.75" stroke="#696969"/><circle cx="186.1" cy="466" r="5.75" stroke="#696969"/><circle cx="540.8" cy="251.7" r="5.75" stroke="#00cdcd"/><circle cx="518.2" cy="468" r="5.75" stroke="#00cdcd"/><circle cx="518.3" cy="409.6" r="5.75" stroke="#00cdcd"/><circle cx="406.7" cy="271.4" r="5.75" stroke="#006400"/><circle cx="167.8" cy="471.6" r="5.75" stroke="#696969"/><circle cx="501.3" cy="419.2" r="5.75" stroke="#ff0000"/><circle cx="174.2" cy="462.9" r="5.75" stroke="#696969"/><circle cx="189.5" cy="474" r="5.75" stroke="#696969"/><circle cx="501.7" cy="405.8" r="5.75" stroke="#ff0000"/><circle cx="518.2" cy="430.5" r="5.75" stroke="#00cdcd"/><circle cx="149.1" cy="258.4" r="5.75" stroke="#696969"/><circle cx="407" cy="322" r="5.75" stroke="#006400"/><circle cx="192.8" cy="451.5" r="5.75" stroke="#696969"/><circle cx="330.3" cy="315.9" r="5.75" stroke="#006400"/><circle cx="406.6" cy="290.2" r="5.75" stroke="#006400"/><circle cx="406.6" cy="305.7" r="5.75" stroke="#006400"/><circle cx="173" cy="464.3" r="5.75" stroke="#696969"/><circle cx="501.2" cy="452.6" r="5.75" stroke="#ff0000"/><circle cx="231.8" cy="454.5" r="5.75" stroke="#696969"/><circle cx="406.8" cy="458.5" r="5.75" stroke="#006400"/><circle cx="518.5" cy="396.9" r="5.75" stroke="#00cdcd"/><circle cx="519.1" cy="472.9" r="5.75" stroke="#00cdcd"/><circle cx="783.7" cy="429.7" r="5.75" stroke="#ff0000"/><circle cx="183.6" cy="263.2" r="5.75" stroke="#696969"/><circle cx="406.8" cy="436.1" r="5.75" stroke="#006400"/><circle cx="194.3" cy="469.4" r="5.75" stroke="#696969"/><circle cx="175.5" cy="392" r="5.75" stroke="#696969"/><circle cx="501.9" cy="402.7" r="5.75" stroke="#ff0000"/><circle cx="210.3" cy="418.8" r="5.75" stroke="#696969"/><circle cx="770.9" cy="448.4" r="5.75" stroke="#ff0000"/><circle cx="314.9" cy="473.4" r="5.75" stroke="#696969"/><circle cx="148.8" cy="410" r="5.75" stroke="#696969"/></g>
<g fill="none" stroke="#000"><path d="M149.2 291.4H213.3 M518.6 291.4H787.1" stroke-width="4.1"/><rect x="213.3" y="226.4" width="305.3" height="130" stroke-width="4.1"/><path d="M433.8 226.4V356.4" stroke-width="8"/></g>
<g fill="none" stroke="#000"><path d="M149.2 436.6H213.3 M501.6 436.6H830.9" stroke-width="4.1"/><rect x="213.3" y="371.6" width="288.3" height="130" stroke-width="4.1"/><path d="M258 371.6V501.6" stroke-width="8"/></g>
<g font-size="23" fill="#000">
<text x="148.6" y="567">Double 1−sided Unadj. Sieve P &lt; 0.001</text>
<text x="148.6" y="600.8">FWER P−value &lt; 0.001; Q−value &lt; 0.001</text>
<text x="237.4" y="643.8">95% Pointwise CI</text>
</g>
<path d="M147 635.5H214.6" stroke="#000" stroke-width="6.2" stroke-dasharray="23.5 22.3" fill="none"/>
<path d="M149.0 729.6L152.0 730.3L155.0 731.0L158.0 731.7L161.0 732.4L164.0 733.1L167.0 733.8L170.0 734.5L173.0 735.2L176.0 735.9L179.0 736.7L182.0 737.4L185.0 738.1L188.0 738.9L191.0 739.6L194.0 740.4L197.0 741.2L200.0 741.9L203.0 742.7L206.0 743.5L209.0 744.2L212.0 745.0L215.0 745.8L218.0 746.6L221.0 747.4L224.0 748.2L227.0 749.0L230.0 749.8L233.0 750.6L236.0 751.5L239.0 752.3L242.0 753.1L245.0 753.9L248.0 754.8L251.0 755.6L254.0 756.4L257.0 757.3L260.0 758.1L263.0 759.0L266.0 759.8L269.0 760.7L272.0 761.6L275.0 762.4L278.0 763.3L281.0 764.2L284.0 765.0L287.0 765.9L290.0 766.8L293.0 767.7L296.0 768.5L299.0 769.4L302.0 770.3L305.0 771.2L308.0 772.1L311.0 772.9L314.0 773.8L317.0 774.7L320.0 775.6L323.0 776.5L326.0 777.4L329.0 778.2L332.0 779.1L335.0 780.0L338.0 780.9L341.0 781.8L344.0 782.6L347.0 783.5L350.0 784.4L353.0 785.3L356.0 786.1L359.0 787.0L362.0 787.9L365.0 788.7L368.0 789.6L371.0 790.4L374.0 791.3L377.0 792.1L380.0 793.0L383.0 793.8L386.0 794.7L389.0 795.5L392.0 796.3L395.0 797.2L398.0 798.0L401.0 798.8L404.0 799.6L407.0 800.4L410.0 801.2L413.0 802.0L416.0 802.8L419.0 803.6L422.0 804.4L425.0 805.2L428.0 806.0L431.0 806.8L434.0 807.6L437.0 808.3L440.0 809.1L443.0 809.9L446.0 810.7L449.0 811.4L452.0 812.2L455.0 812.9L458.0 813.7L461.0 814.4L464.0 815.2L467.0 815.9L470.0 816.7L473.0 817.4L476.0 818.1L479.0 818.9L482.0 819.6L485.0 820.4L488.0 821.1L491.0 821.8L494.0 822.5L497.0 823.3L500.0 824.0L503.0 824.7L506.0 825.4L509.0 826.1L512.0 826.9L515.0 827.6L518.0 828.3L521.0 829.0L524.0 829.7L527.0 830.4L530.0 831.2L533.0 831.9L536.0 832.6L539.0 833.3L542.0 834.0L545.0 834.7L548.0 835.4L551.0 836.1L554.0 836.8L557.0 837.5L560.0 838.3L563.0 839.0L566.0 839.7L569.0 840.4L572.0 841.1L575.0 841.8L578.0 842.5L581.0 843.2L584.0 843.9L587.0 844.6L590.0 845.4L593.0 846.1L596.0 846.8L599.0 847.5L602.0 848.2L605.0 848.9L608.0 849.6L611.0 850.4L614.0 851.1L617.0 851.8L620.0 852.5L623.0 853.2L626.0 854.0L629.0 854.7L632.0 855.4L635.0 856.1L638.0 856.8L641.0 857.6L644.0 858.3L647.0 859.0L650.0 859.8L653.0 860.5L656.0 861.2L659.0 862.0L662.0 862.7L665.0 863.4L668.0 864.2L671.0 864.9L674.0 865.6L677.0 866.4L680.0 867.1L683.0 867.9L686.0 868.6L689.0 869.4L692.0 870.1L695.0 870.9L698.0 871.6L701.0 872.4L704.0 873.1L707.0 873.9L710.0 874.6L713.0 875.4L716.0 876.2L719.0 876.9L722.0 877.7L725.0 878.5L728.0 879.2L731.0 880.0L734.0 880.8L737.0 881.5L740.0 882.3L743.0 883.1L746.0 883.9L749.0 884.7L752.0 885.4L755.0 886.2L758.0 887.0L761.0 887.8L764.0 888.6L767.0 889.4L770.0 890.2L773.0 891.0L776.0 891.8L779.0 892.6L782.0 893.4L785.0 894.2L788.0 895.0L791.0 895.8L794.0 896.6L797.0 897.4L800.0 898.3L803.0 899.1L806.0 899.9L809.0 900.7L812.0 901.5L815.0 902.4L818.0 903.2L821.0 904.0L824.0 904.9L827.0 905.7L830.0 906.5L831.3 906.9" fill="none" stroke="#000" stroke-width="5.5" stroke-dasharray="23.3 22.15"/>
<path d="M149.0 784.9L152.0 785.4L155.0 785.9L158.0 786.4L161.0 786.9L164.0 787.4L167.0 787.9L170.0 788.4L173.0 788.9L176.0 789.4L179.0 790.0L182.0 790.5L185.0 791.0L188.0 791.6L191.0 792.1L194.0 792.6L197.0 793.2L200.0 793.7L203.0 794.3L206.0 794.9L209.0 795.4L212.0 796.0L215.0 796.6L218.0 797.2L221.0 797.8L224.0 798.4L227.0 799.0L230.0 799.6L233.0 800.2L236.0 800.8L239.0 801.4L242.0 802.1L245.0 802.7L248.0 803.3L251.0 804.0L254.0 804.6L257.0 805.3L260.0 806.0L263.0 806.7L266.0 807.4L269.0 808.1L272.0 808.8L275.0 809.5L278.0 810.2L281.0 810.9L284.0 811.7L287.0 812.4L290.0 813.2L293.0 813.9L296.0 814.7L299.0 815.5L302.0 816.3L305.0 817.1L308.0 818.0L311.0 818.8L314.0 819.7L317.0 820.5L320.0 821.4L323.0 822.3L326.0 823.2L329.0 824.1L332.0 825.0L335.0 826.0L338.0 826.9L341.0 827.9L344.0 828.9L347.0 829.9L350.0 830.9L353.0 832.0L356.0 833.0L359.0 834.1L362.0 835.2L365.0 836.3L368.0 837.4L371.0 838.5L374.0 839.7L377.0 840.9L380.0 842.1L383.0 843.3L386.0 844.5L389.0 845.8L392.0 847.0L395.0 848.3L398.0 849.6L401.0 851.0L404.0 852.3L407.0 853.7L410.0 855.1L413.0 856.5L416.0 857.9L419.0 859.4L422.0 860.8L425.0 862.3L428.0 863.9L431.0 865.4L434.0 866.9L437.0 868.5L440.0 870.1L443.0 871.7L446.0 873.4L449.0 875.1L452.0 876.7L455.0 878.4L458.0 880.2L461.0 881.9L464.0 883.7L467.0 885.5L470.0 887.3L473.0 889.1L476.0 891.0L479.0 892.9L482.0 894.8L485.0 896.7L488.0 898.7L491.0 900.6L494.0 902.6L497.0 904.7L500.0 906.7L503.0 908.8L506.0 910.9L509.0 913.0L512.0 915.1L515.0 917.3L518.0 919.4L521.0 921.6L524.0 923.9L527.0 926.1L530.0 928.4L533.0 930.7L536.0 933.0L539.0 935.4L542.0 937.7L545.0 940.1L548.0 942.5L551.0 945.0L554.0 947.4L557.0 949.9L560.0 952.5L563.0 955.0L566.0 957.6L569.0 960.2L572.0 962.8L575.0 965.4L578.0 968.1L581.0 970.8L584.0 973.5L587.0 976.3L590.0 979.1L593.0 981.9L596.0 984.7L599.0 987.6L602.0 990.5L605.0 993.4L608.0 996.3L611.0 999.3L614.0 1002.3L617.0 1005.3L620.0 1008.4L623.0 1011.5L626.0 1014.6L629.0 1017.8L632.0 1020.9L635.0 1024.1L638.0 1027.4L641.0 1030.7L644.0 1034.0L647.0 1037.3L650.0 1040.6L653.0 1044.0L656.0 1047.5L659.0 1050.9L662.0 1054.4L665.0 1057.9L668.0 1061.5L671.0 1065.1L674.0 1068.7L677.0 1072.4L680.0 1076.1L683.0 1079.8L686.0 1083.5L689.0 1087.3L692.0 1091.2L695.0 1095.0L698.0 1098.9L701.0 1102.9L702.0 1104.2" fill="none" stroke="#000" stroke-width="5.5" stroke-dasharray="23.3 22.15"/>
<path d="M149.0 753.6L152.0 754.3L155.0 754.9L158.0 755.6L161.0 756.2L164.0 756.9L167.0 757.5L170.0 758.2L173.0 758.8L176.0 759.5L179.0 760.2L182.0 760.8L185.0 761.5L188.0 762.2L191.0 762.9L194.0 763.6L197.0 764.3L200.0 765.0L203.0 765.7L206.0 766.4L209.0 767.1L212.0 767.8L215.0 768.5L218.0 769.3L221.0 770.0L224.0 770.7L227.0 771.5L230.0 772.2L233.0 773.0L236.0 773.7L239.0 774.5L242.0 775.2L245.0 776.0L248.0 776.8L251.0 777.5L254.0 778.3L257.0 779.1L260.0 779.9L263.0 780.7L266.0 781.5L269.0 782.3L272.0 783.1L275.0 783.9L278.0 784.7L281.0 785.6L284.0 786.4L287.0 787.2L290.0 788.1L293.0 788.9L296.0 789.8L299.0 790.6L302.0 791.5L305.0 792.3L308.0 793.2L311.0 794.1L314.0 795.0L317.0 795.8L320.0 796.7L323.0 797.6L326.0 798.5L329.0 799.4L332.0 800.4L335.0 801.3L338.0 802.2L341.0 803.1L344.0 804.1L347.0 805.0L350.0 805.9L353.0 806.9L356.0 807.9L359.0 808.8L362.0 809.8L365.0 810.8L368.0 811.7L371.0 812.7L374.0 813.7L377.0 814.7L380.0 815.7L383.0 816.7L386.0 817.8L389.0 818.8L392.0 819.8L395.0 820.8L398.0 821.9L401.0 822.9L404.0 824.0L407.0 825.1L410.0 826.1L413.0 827.2L416.0 828.3L419.0 829.4L422.0 830.5L425.0 831.6L428.0 832.7L431.0 833.8L434.0 834.9L437.0 836.0L440.0 837.2L443.0 838.3L446.0 839.5L449.0 840.6L452.0 841.8L455.0 842.9L458.0 844.1L461.0 845.3L464.0 846.5L467.0 847.7L470.0 848.9L473.0 850.1L476.0 851.3L479.0 852.6L482.0 853.8L485.0 855.0L488.0 856.3L491.0 857.5L494.0 858.8L497.0 860.1L500.0 861.4L503.0 862.6L506.0 863.9L509.0 865.2L512.0 866.6L515.0 867.9L518.0 869.2L521.0 870.5L524.0 871.9L527.0 873.2L530.0 874.6L533.0 876.0L536.0 877.3L539.0 878.7L542.0 880.1L545.0 881.5L548.0 882.9L551.0 884.3L554.0 885.8L557.0 887.2L560.0 888.7L563.0 890.1L566.0 891.6L569.0 893.0L572.0 894.5L575.0 896.0L578.0 897.5L581.0 899.0L584.0 900.5L587.0 902.1L590.0 903.6L593.0 905.1L596.0 906.7L599.0 908.3L602.0 909.8L605.0 911.4L608.0 913.0L611.0 914.6L614.0 916.2L617.0 917.8L620.0 919.5L623.0 921.1L626.0 922.7L629.0 924.4L632.0 926.1L635.0 927.8L638.0 929.4L641.0 931.1L644.0 932.9L647.0 934.6L650.0 936.3L653.0 938.1L656.0 939.8L659.0 941.6L662.0 943.3L665.0 945.1L668.0 946.9L671.0 948.7L674.0 950.5L677.0 952.4L680.0 954.2L683.0 956.1L686.0 957.9L689.0 959.8L692.0 961.7L695.0 963.6L698.0 965.5L701.0 967.4L704.0 969.3L707.0 971.3L710.0 973.2L713.0 975.2L716.0 977.2L719.0 979.2L722.0 981.2L725.0 983.2L728.0 985.2L731.0 987.2L734.0 989.3L737.0 991.4L740.0 993.4L743.0 995.5L746.0 997.6L749.0 999.7L752.0 1001.9L755.0 1004.0L758.0 1006.2L761.0 1008.3L764.0 1010.5L767.0 1012.7L770.0 1014.9L773.0 1017.1L776.0 1019.3L779.0 1021.6L782.0 1023.9L785.0 1026.1L788.0 1028.4L791.0 1030.7L794.0 1033.0L797.0 1035.4L800.0 1037.7L803.0 1040.1L806.0 1042.4L809.0 1044.8L812.0 1047.2L815.0 1049.6L818.0 1052.0L821.0 1054.5L824.0 1057.0L827.0 1059.4L830.0 1061.9L830.6 1062.4" fill="none" stroke="#000" stroke-width="7.6"/>
<path d="M203.1 740.6V801.5 M196.2 740.6h13.8 M196.2 801.5h13.8" stroke="#696969" stroke-width="4.9" fill="none"/>
<path d="M213.5 728.7V820.6 M206.6 728.7h13.8 M206.6 820.6h13.8" stroke="#0000ff" stroke-width="4.9" fill="none"/>
<path d="M407 784.5V949.4 M400.1 784.5h13.8 M400.1 949.4h13.8" stroke="#006400" stroke-width="4.9" fill="none"/>
<path d="M501.5 846.5V1098.5 M494.6 846.5h13.8 M494.6 1098.5h13.8" stroke="#ff0000" stroke-width="4.9" fill="none"/>
<path d="M518.5 798.3V913.6 M511.6 798.3h13.8 M511.6 913.6h13.8" stroke="#00cdcd" stroke-width="4.9" fill="none"/>
<circle cx="203.1" cy="766.5" r="6.1" fill="#696969"/>
<circle cx="213.5" cy="766.5" r="6.1" fill="#0000ff"/>
<circle cx="407" cy="850.6" r="6.1" fill="#006400"/>
<circle cx="501.5" cy="946.7" r="6.1" fill="#ff0000"/>
<circle cx="518.5" cy="847.5" r="6.1" fill="#00cdcd"/>
<g fill="none" stroke="#333" stroke-width="1.4">
<rect x="100.6" y="59.7" width="778.8" height="1091.3"/>
<path d="M100.6 520.8H879.4" stroke-width="1.75"/>
<path d="M100.6 1049.2h-6.6 M100.6 982.5h-6.6 M100.6 915.8h-6.6 M100.6 849h-6.6 M100.6 782.3h-6.6 M100.6 715.5h-6.6 M100.6 648.8h-6.6 M116.5 1151v6.6 M274 1151v6.6 M431.5 1151v6.6 M589.1 1151v6.6 M746.6 1151v6.6" stroke-width="2.3"/>
</g>
<g font-size="28.8" fill="#000">
<text transform="translate(64.7,1059.8) scale(1,1.05)" text-anchor="middle">−20</text>
<text transform="translate(64.7,993.1) scale(1,1.05)" text-anchor="middle">0</text>
<text transform="translate(64.7,926.4) scale(1,1.05)" text-anchor="middle">20</text>
<text transform="translate(64.7,859.6) scale(1,1.05)" text-anchor="middle">40</text>
<text transform="translate(64.7,792.9) scale(1,1.05)" text-anchor="middle">60</text>
<text transform="translate(64.7,726.1) scale(1,1.05)" text-anchor="middle">80</text>
<text transform="translate(64.7,659.4) scale(1,1.05)" text-anchor="middle">100</text>
<text transform="translate(116.5,1186.1) scale(1,1.05)" text-anchor="middle">5</text>
<text transform="translate(274,1186.1) scale(1,1.05)" text-anchor="middle">10</text>
<text transform="translate(431.5,1186.1) scale(1,1.05)" text-anchor="middle">15</text>
<text transform="translate(589.1,1186.1) scale(1,1.05)" text-anchor="middle">20</text>
<text transform="translate(746.6,1186.1) scale(1,1.05)" text-anchor="middle">25</text>
</g>
<g font-size="31.5" fill="#000">
<text x="490" y="1228" text-anchor="middle">Physicochemical−weighted Hamming Distance in Spike</text>
<text transform="translate(26.9,875.5) rotate(-90)" text-anchor="middle">VE (%) against COVID−19</text>
</g>
<g font-size="31.5" fill="#000">
<text transform="translate(85.8,292.3) rotate(-90)" text-anchor="middle">Vaccine</text>
<text transform="translate(85.8,436.6) rotate(-90)" text-anchor="middle">Placebo</text>
</g>
<text x="470.2" y="29.9" font-size="30" font-weight="bold" text-anchor="middle" fill="#000">Spike</text>
<text x="-0.6" y="29.1" font-size="34" font-weight="bold" fill="#231f20">a</text>
</g>
<g transform="translate(981,0)">
<rect x="100.6" y="59.7" width="778.8" height="1091.3" fill="#fff"/>
<g stroke="#ebebeb" fill="none"><path d="M228.9 59.7V1151" stroke-width="1.3"/><path d="M387.9 59.7V1151" stroke-width="1.3"/><path d="M547 59.7V1151" stroke-width="1.3"/><path d="M706 59.7V1151" stroke-width="1.3"/><path d="M865 59.7V1151" stroke-width="1.3"/><path d="M149.4 59.7V1151" stroke-width="2.45"/><path d="M308.4 59.7V1151" stroke-width="2.45"/><path d="M467.4 59.7V1151" stroke-width="2.45"/><path d="M626.5 59.7V1151" stroke-width="2.45"/><path d="M785.5 59.7V1151" stroke-width="2.45"/><path d="M100.6 146H879.4" stroke-width="2.45"/><path d="M100.6 291.4H879.4" stroke-width="2.45"/><path d="M100.6 436.6H879.4" stroke-width="2.45"/><path d="M100.6 1116H879.4" stroke-width="1.3"/><path d="M100.6 1082.6H879.4" stroke-width="1.3"/><path d="M100.6 1049.2H879.4" stroke-width="2.45"/><path d="M100.6 1015.9H879.4" stroke-width="1.3"/><path d="M100.6 982.5H879.4" stroke-width="2.45"/><path d="M100.6 949.1H879.4" stroke-width="1.3"/><path d="M100.6 915.8H879.4" stroke-width="2.45"/><path d="M100.6 882.4H879.4" stroke-width="1.3"/><path d="M100.6 849H879.4" stroke-width="2.45"/><path d="M100.6 815.6H879.4" stroke-width="1.3"/><path d="M100.6 782.3H879.4" stroke-width="2.45"/><path d="M100.6 748.9H879.4" stroke-width="1.3"/><path d="M100.6 715.5H879.4" stroke-width="2.45"/><path d="M100.6 682.2H879.4" stroke-width="1.3"/><path d="M100.6 648.8H879.4" stroke-width="2.45"/><path d="M100.6 615.4H879.4" stroke-width="1.3"/><path d="M100.6 582.1H879.4" stroke-width="1.3"/></g>
<rect x="148.8" y="97.9" width="291.4" height="96.3" fill="#fff"/><rect x="150.6" y="100.2" width="127.3" height="28.7" fill="#ccc"/><rect x="280.4" y="100.2" width="157.6" height="28.7" fill="#ccc"/><rect x="150.6" y="131.4" width="127.3" height="29" fill="#fafafa"/><rect x="280.4" y="131.4" width="157.6" height="29" fill="#fafafa"/><rect x="150.6" y="163.6" width="127.3" height="29" fill="#fafafa"/><rect x="280.4" y="163.6" width="157.6" height="29" fill="#fafafa"/><g font-size="23" fill="#000" text-anchor="middle"><text x="214.2" y="123.2" font-weight="bold">Treatment</text><text x="359.3" y="123.2" font-weight="bold">No. of Cases</text><text x="214.2" y="154.7">Vaccine</text><text x="359.3" y="154.7">263</text><text x="214.2" y="185.7">Placebo</text><text x="359.3" y="185.7">513</text></g>
<rect x="517.2" y="98" width="29.8" height="34.3" fill="#fff"/><rect x="649.6" y="98" width="29.8" height="34.3" fill="#fff"/><rect x="770.3" y="98" width="29.8" height="34.3" fill="#fff"/><rect x="517.2" y="138.3" width="29.8" height="54.7" fill="#fff"/><rect x="649.6" y="138.3" width="29.8" height="54.7" fill="#fff"/><g fill="none" stroke-width="4.2" stroke-opacity="0.8"><circle cx="532" cy="112.2" r="6.8" stroke="#696969"/><circle cx="532" cy="148.2" r="6.8" stroke="#ffd700"/><circle cx="532" cy="178.1" r="6.8" stroke="#00cdcd"/><circle cx="664.4" cy="112.2" r="6.8" stroke="#0000ff"/><circle cx="664.4" cy="148.2" r="6.8" stroke="#800000"/><circle cx="664.4" cy="178.1" r="6.8" stroke="#ff0000"/><circle cx="785.2" cy="112.2" r="6.8" stroke="#006400"/></g><g font-size="21" fill="#000"><text x="554.3" y="119.6">Reference</text><text x="554.3" y="155.6">Alpha</text><text x="554.3" y="185.5">Gamma</text><text x="686.7" y="119.6">Zeta</text><text x="686.7" y="155.6">Epsilon</text><text x="686.7" y="185.5">Lambda</text><text x="807.5" y="119.6">Mu</text></g>
<g fill="none" stroke-width="4.2" stroke-opacity="0.8"><circle cx="149.1" cy="404.7" r="5.75" stroke="#696969"/><circle cx="304.3" cy="248.7" r="5.75" stroke="#696969"/><circle cx="149.5" cy="450.6" r="5.75" stroke="#696969"/><circle cx="149.6" cy="406" r="5.75" stroke="#696969"/><circle cx="639.1" cy="426.8" r="5.75" stroke="#00cdcd"/><circle cx="443.3" cy="477.4" r="5.75" stroke="#696969"/><circle cx="569" cy="422.3" r="5.75" stroke="#006400"/><circle cx="561.4" cy="425.5" r="5.75" stroke="#ff0000"/><circle cx="639.6" cy="480.6" r="5.75" stroke="#00cdcd"/><circle cx="149.4" cy="410.6" r="5.75" stroke="#696969"/><circle cx="640" cy="296.6" r="5.75" stroke="#00cdcd"/><circle cx="642" cy="299.6" r="5.75" stroke="#ff0000"/><circle cx="149.3" cy="420.2" r="5.75" stroke="#696969"/><circle cx="149.2" cy="331.3" r="5.75" stroke="#696969"/><circle cx="561.3" cy="285.5" r="5.75" stroke="#ff0000"/><circle cx="219.3" cy="263.8" r="5.75" stroke="#696969"/><circle cx="561.6" cy="464.8" r="5.75" stroke="#ff0000"/><circle cx="568.7" cy="417.9" r="5.75" stroke="#006400"/><circle cx="149.2" cy="462.9" r="5.75" stroke="#696969"/><circle cx="561.3" cy="396.6" r="5.75" stroke="#ff0000"/><circle cx="443.3" cy="303.5" r="5.75" stroke="#696969"/><circle cx="639.4" cy="408.4" r="5.75" stroke="#00cdcd"/><circle cx="335.1" cy="431.4" r="5.75" stroke="#696969"/><circle cx="639.7" cy="466.1" r="5.75" stroke="#00cdcd"/><circle cx="149.2" cy="425.3" r="5.75" stroke="#696969"/><circle cx="149.2" cy="293.4" r="5.75" stroke="#696969"/><circle cx="561.8" cy="439.7" r="5.75" stroke="#ff0000"/><circle cx="568.7" cy="255.4" r="5.75" stroke="#006400"/><circle cx="568.9" cy="250.6" r="5.75" stroke="#006400"/><circle cx="639.7" cy="255.2" r="5.75" stroke="#00cdcd"/><circle cx="149.1" cy="475.9" r="5.75" stroke="#696969"/><circle cx="149.3" cy="425.9" r="5.75" stroke="#696969"/><circle cx="561.2" cy="413.7" r="5.75" stroke="#ff0000"/><circle cx="643.2" cy="458.8" r="5.75" stroke="#ff0000"/><circle cx="639.2" cy="274.5" r="5.75" stroke="#00cdcd"/><circle cx="149.4" cy="270.8" r="5.75" stroke="#696969"/><circle cx="236" cy="330.3" r="5.75" stroke="#696969"/><circle cx="561.6" cy="436.8" r="5.75" stroke="#ff0000"/><circle cx="639.3" cy="316.3" r="5.75" stroke="#00cdcd"/><circle cx="149.4" cy="469.2" r="5.75" stroke="#696969"/><circle cx="569" cy="459.9" r="5.75" stroke="#006400"/><circle cx="291.3" cy="452.6" r="5.75" stroke="#696969"/><circle cx="561.3" cy="415.7" r="5.75" stroke="#ff0000"/><circle cx="149.5" cy="463.2" r="5.75" stroke="#696969"/><circle cx="639.3" cy="471.4" r="5.75" stroke="#00cdcd"/><circle cx="149.6" cy="437.5" r="5.75" stroke="#696969"/><circle cx="149.6" cy="456.3" r="5.75" stroke="#696969"/><circle cx="425.9" cy="418.1" r="5.75" stroke="#696969"/><circle cx="149.2" cy="266.7" r="5.75" stroke="#696969"/><circle cx="149.5" cy="259.2" r="5.75" stroke="#696969"/><circle cx="561.6" cy="450.5" r="5.75" stroke="#ff0000"/><circle cx="639.4" cy="407.5" r="5.75" stroke="#00cdcd"/><circle cx="523.9" cy="405" r="5.75" stroke="#696969"/><circle cx="149.5" cy="459.4" r="5.75" stroke="#696969"/><circle cx="639.8" cy="454.8" r="5.75" stroke="#00cdcd"/><circle cx="304.1" cy="305.8" r="5.75" stroke="#0000ff"/><circle cx="561.7" cy="294" r="5.75" stroke="#ff0000"/><circle cx="569" cy="444.4" r="5.75" stroke="#006400"/><circle cx="149.2" cy="316.9" r="5.75" stroke="#696969"/><circle cx="561.3" cy="279" r="5.75" stroke="#ff0000"/><circle cx="568.3" cy="480.9" r="5.75" stroke="#006400"/><circle cx="561.6" cy="250.6" r="5.75" stroke="#ff0000"/><circle cx="639.4" cy="328.5" r="5.75" stroke="#00cdcd"/><circle cx="639.4" cy="454.8" r="5.75" stroke="#00cdcd"/><circle cx="149.1" cy="445.8" r="5.75" stroke="#696969"/><circle cx="561.5" cy="415.7" r="5.75" stroke="#ff0000"/><circle cx="149.6" cy="445.7" r="5.75" stroke="#696969"/><circle cx="149.3" cy="289.6" r="5.75" stroke="#696969"/><circle cx="640" cy="475.3" r="5.75" stroke="#00cdcd"/><circle cx="568.5" cy="291.4" r="5.75" stroke="#006400"/><circle cx="149.4" cy="459.2" r="5.75" stroke="#696969"/><circle cx="639.5" cy="464.8" r="5.75" stroke="#00cdcd"/><circle cx="639.4" cy="289" r="5.75" stroke="#00cdcd"/><circle cx="290.6" cy="468.1" r="5.75" stroke="#696969"/><circle cx="149.5" cy="435.7" r="5.75" stroke="#696969"/><circle cx="639.3" cy="447.5" r="5.75" stroke="#00cdcd"/><circle cx="149.5" cy="270.8" r="5.75" stroke="#696969"/><circle cx="639.6" cy="425.3" r="5.75" stroke="#00cdcd"/><circle cx="149.4" cy="466.9" r="5.75" stroke="#696969"/><circle cx="149.2" cy="331.3" r="5.75" stroke="#696969"/><circle cx="569.3" cy="286.6" r="5.75" stroke="#006400"/><circle cx="639.9" cy="411.6" r="5.75" stroke="#00cdcd"/><circle cx="149.7" cy="282.2" r="5.75" stroke="#696969"/><circle cx="639.5" cy="250.6" r="5.75" stroke="#00cdcd"/><circle cx="149.1" cy="412.9" r="5.75" stroke="#696969"/><circle cx="343.1" cy="307.3" r="5.75" stroke="#ffd700"/><circle cx="149.6" cy="418.7" r="5.75" stroke="#696969"/><circle cx="639.2" cy="449.2" r="5.75" stroke="#00cdcd"/><circle cx="304" cy="286.1" r="5.75" stroke="#0000ff"/><circle cx="561.4" cy="250.6" r="5.75" stroke="#ff0000"/><circle cx="149.4" cy="480.1" r="5.75" stroke="#696969"/><circle cx="639.1" cy="436.2" r="5.75" stroke="#00cdcd"/><circle cx="561.6" cy="253.3" r="5.75" stroke="#ff0000"/><circle cx="561.9" cy="323.5" r="5.75" stroke="#ff0000"/><circle cx="291.3" cy="455.6" r="5.75" stroke="#696969"/><circle cx="561.9" cy="439.9" r="5.75" stroke="#ff0000"/><circle cx="343.1" cy="404.8" r="5.75" stroke="#ffd700"/><circle cx="568.7" cy="424.7" r="5.75" stroke="#006400"/><circle cx="291" cy="301.5" r="5.75" stroke="#696969"/><circle cx="374.5" cy="449.1" r="5.75" stroke="#696969"/><circle cx="219.3" cy="422.5" r="5.75" stroke="#696969"/><circle cx="149.5" cy="318.4" r="5.75" stroke="#696969"/><circle cx="149.3" cy="462.5" r="5.75" stroke="#696969"/><circle cx="236" cy="404.3" r="5.75" stroke="#696969"/><circle cx="640.1" cy="424.7" r="5.75" stroke="#00cdcd"/><circle cx="568.4" cy="259.4" r="5.75" stroke="#006400"/><circle cx="561.7" cy="315.9" r="5.75" stroke="#ff0000"/><circle cx="639.3" cy="433" r="5.75" stroke="#00cdcd"/><circle cx="725.6" cy="475" r="5.75" stroke="#00cdcd"/><circle cx="639.8" cy="405.2" r="5.75" stroke="#00cdcd"/><circle cx="561.2" cy="257.9" r="5.75" stroke="#ff0000"/><circle cx="343.1" cy="450.8" r="5.75" stroke="#ffd700"/><circle cx="343.1" cy="425.4" r="5.75" stroke="#ffd700"/><circle cx="639.3" cy="435.9" r="5.75" stroke="#00cdcd"/><circle cx="291.1" cy="451.8" r="5.75" stroke="#696969"/><circle cx="639.5" cy="265.4" r="5.75" stroke="#00cdcd"/><circle cx="639" cy="324.2" r="5.75" stroke="#00cdcd"/><circle cx="640" cy="458.5" r="5.75" stroke="#00cdcd"/><circle cx="425.9" cy="423.4" r="5.75" stroke="#800000"/><circle cx="304.6" cy="252.5" r="5.75" stroke="#0000ff"/><circle cx="639.4" cy="304.6" r="5.75" stroke="#00cdcd"/><circle cx="304.4" cy="470.3" r="5.75" stroke="#0000ff"/><circle cx="303.9" cy="309.1" r="5.75" stroke="#0000ff"/><circle cx="643.2" cy="412.1" r="5.75" stroke="#ff0000"/><circle cx="235.3" cy="263.8" r="5.75" stroke="#696969"/><circle cx="290.8" cy="421.4" r="5.75" stroke="#696969"/><circle cx="561.7" cy="477.8" r="5.75" stroke="#ff0000"/><circle cx="568.8" cy="471.7" r="5.75" stroke="#006400"/><circle cx="568.7" cy="467.4" r="5.75" stroke="#006400"/><circle cx="149.6" cy="276.2" r="5.75" stroke="#696969"/><circle cx="568.8" cy="315.8" r="5.75" stroke="#006400"/><circle cx="304.6" cy="477.4" r="5.75" stroke="#0000ff"/><circle cx="639.6" cy="453.6" r="5.75" stroke="#00cdcd"/><circle cx="149.6" cy="393.6" r="5.75" stroke="#696969"/><circle cx="561.7" cy="459.4" r="5.75" stroke="#ff0000"/><circle cx="149.1" cy="408.1" r="5.75" stroke="#696969"/><circle cx="149.6" cy="265.2" r="5.75" stroke="#696969"/><circle cx="568.8" cy="277" r="5.75" stroke="#006400"/><circle cx="561.7" cy="450.4" r="5.75" stroke="#ff0000"/><circle cx="149.2" cy="455.7" r="5.75" stroke="#696969"/><circle cx="343.1" cy="465.3" r="5.75" stroke="#ffd700"/><circle cx="568.5" cy="285.3" r="5.75" stroke="#006400"/><circle cx="149.1" cy="400.6" r="5.75" stroke="#696969"/><circle cx="425.9" cy="477.9" r="5.75" stroke="#800000"/><circle cx="343.1" cy="401.2" r="5.75" stroke="#ffd700"/><circle cx="569" cy="448.6" r="5.75" stroke="#006400"/><circle cx="149.5" cy="436.5" r="5.75" stroke="#696969"/><circle cx="149.7" cy="302.2" r="5.75" stroke="#696969"/><circle cx="561.9" cy="470.1" r="5.75" stroke="#ff0000"/><circle cx="149.4" cy="480.6" r="5.75" stroke="#696969"/><circle cx="149.6" cy="422.2" r="5.75" stroke="#696969"/><circle cx="569.2" cy="463.2" r="5.75" stroke="#006400"/><circle cx="561.3" cy="402.9" r="5.75" stroke="#ff0000"/><circle cx="149.4" cy="453.8" r="5.75" stroke="#696969"/><circle cx="291" cy="479" r="5.75" stroke="#696969"/><circle cx="304.3" cy="444.8" r="5.75" stroke="#0000ff"/><circle cx="304.4" cy="265.1" r="5.75" stroke="#0000ff"/><circle cx="561.3" cy="268.6" r="5.75" stroke="#ff0000"/><circle cx="568.9" cy="307.7" r="5.75" stroke="#006400"/><circle cx="639.6" cy="418.2" r="5.75" stroke="#00cdcd"/><circle cx="568.9" cy="452.4" r="5.75" stroke="#006400"/><circle cx="568.9" cy="437.7" r="5.75" stroke="#006400"/><circle cx="149.1" cy="285.1" r="5.75" stroke="#696969"/><circle cx="639.8" cy="278" r="5.75" stroke="#00cdcd"/><circle cx="149.5" cy="410.8" r="5.75" stroke="#696969"/><circle cx="561.6" cy="280.7" r="5.75" stroke="#ff0000"/><circle cx="568.5" cy="437.1" r="5.75" stroke="#006400"/><circle cx="149.3" cy="400.2" r="5.75" stroke="#696969"/><circle cx="640" cy="255.3" r="5.75" stroke="#00cdcd"/><circle cx="561.6" cy="452.3" r="5.75" stroke="#ff0000"/><circle cx="561.8" cy="421.1" r="5.75" stroke="#ff0000"/><circle cx="639.7" cy="475.6" r="5.75" stroke="#00cdcd"/><circle cx="561.8" cy="307.3" r="5.75" stroke="#ff0000"/><circle cx="568.9" cy="456.2" r="5.75" stroke="#006400"/><circle cx="149.4" cy="472.9" r="5.75" stroke="#696969"/><circle cx="639.4" cy="460.8" r="5.75" stroke="#00cdcd"/><circle cx="149.4" cy="308.9" r="5.75" stroke="#696969"/><circle cx="149.5" cy="306" r="5.75" stroke="#696969"/><circle cx="561.3" cy="404.6" r="5.75" stroke="#ff0000"/><circle cx="639.8" cy="275.4" r="5.75" stroke="#00cdcd"/><circle cx="675.9" cy="279.7" r="5.75" stroke="#ff0000"/><circle cx="561.9" cy="443.4" r="5.75" stroke="#ff0000"/><circle cx="561.7" cy="319.8" r="5.75" stroke="#ff0000"/><circle cx="149.4" cy="413.4" r="5.75" stroke="#696969"/><circle cx="639.2" cy="264.1" r="5.75" stroke="#00cdcd"/><circle cx="561.5" cy="407.5" r="5.75" stroke="#ff0000"/><circle cx="149.1" cy="262.8" r="5.75" stroke="#696969"/><circle cx="639.8" cy="311.9" r="5.75" stroke="#00cdcd"/><circle cx="304" cy="324.2" r="5.75" stroke="#0000ff"/><circle cx="304.3" cy="393.6" r="5.75" stroke="#0000ff"/><circle cx="568.5" cy="472" r="5.75" stroke="#006400"/><circle cx="291.1" cy="448.9" r="5.75" stroke="#696969"/><circle cx="569.1" cy="430.6" r="5.75" stroke="#006400"/><circle cx="149.4" cy="324" r="5.75" stroke="#696969"/><circle cx="640" cy="311.3" r="5.75" stroke="#00cdcd"/><circle cx="568.7" cy="462.7" r="5.75" stroke="#006400"/><circle cx="443.3" cy="412.1" r="5.75" stroke="#696969"/><circle cx="639.3" cy="404.2" r="5.75" stroke="#00cdcd"/><circle cx="568.9" cy="334.8" r="5.75" stroke="#006400"/><circle cx="149.7" cy="432.7" r="5.75" stroke="#696969"/><circle cx="149.5" cy="260.5" r="5.75" stroke="#696969"/><circle cx="569.2" cy="475.2" r="5.75" stroke="#006400"/><circle cx="149.3" cy="427.3" r="5.75" stroke="#696969"/><circle cx="568.8" cy="412.3" r="5.75" stroke="#006400"/><circle cx="561.9" cy="298.9" r="5.75" stroke="#ff0000"/><circle cx="561.2" cy="322.1" r="5.75" stroke="#ff0000"/><circle cx="561.3" cy="332.6" r="5.75" stroke="#ff0000"/><circle cx="291.1" cy="400.1" r="5.75" stroke="#696969"/><circle cx="149.4" cy="250.6" r="5.75" stroke="#696969"/><circle cx="562" cy="423.2" r="5.75" stroke="#ff0000"/><circle cx="149.3" cy="437.4" r="5.75" stroke="#696969"/><circle cx="561.9" cy="272.1" r="5.75" stroke="#ff0000"/><circle cx="149.6" cy="283.1" r="5.75" stroke="#696969"/><circle cx="149.6" cy="331" r="5.75" stroke="#696969"/><circle cx="561.2" cy="479.4" r="5.75" stroke="#ff0000"/><circle cx="329.5" cy="305.2" r="5.75" stroke="#0000ff"/><circle cx="149.7" cy="395.9" r="5.75" stroke="#696969"/><circle cx="561.3" cy="473.2" r="5.75" stroke="#ff0000"/><circle cx="149.4" cy="394.7" r="5.75" stroke="#696969"/><circle cx="639.1" cy="295.1" r="5.75" stroke="#00cdcd"/><circle cx="149.4" cy="395" r="5.75" stroke="#696969"/><circle cx="149.2" cy="452.9" r="5.75" stroke="#696969"/><circle cx="149.2" cy="280.3" r="5.75" stroke="#696969"/><circle cx="639.3" cy="412.2" r="5.75" stroke="#00cdcd"/><circle cx="639.3" cy="309.5" r="5.75" stroke="#00cdcd"/><circle cx="290.8" cy="470.8" r="5.75" stroke="#696969"/><circle cx="443.3" cy="420.5" r="5.75" stroke="#696969"/><circle cx="236" cy="452" r="5.75" stroke="#696969"/><circle cx="568.2" cy="395" r="5.75" stroke="#006400"/><circle cx="304.2" cy="429.6" r="5.75" stroke="#0000ff"/><circle cx="303.9" cy="419.6" r="5.75" stroke="#0000ff"/><circle cx="569" cy="264.7" r="5.75" stroke="#006400"/><circle cx="639.2" cy="465.4" r="5.75" stroke="#00cdcd"/><circle cx="639.8" cy="430.3" r="5.75" stroke="#00cdcd"/><circle cx="149.3" cy="413.7" r="5.75" stroke="#696969"/><circle cx="304.5" cy="459.2" r="5.75" stroke="#0000ff"/><circle cx="568.4" cy="458.1" r="5.75" stroke="#006400"/><circle cx="568.2" cy="435.8" r="5.75" stroke="#006400"/><circle cx="263.2" cy="319.4" r="5.75" stroke="#696969"/><circle cx="568.6" cy="476.5" r="5.75" stroke="#006400"/><circle cx="561.4" cy="432.2" r="5.75" stroke="#ff0000"/><circle cx="568.8" cy="265.3" r="5.75" stroke="#006400"/><circle cx="639.8" cy="434.4" r="5.75" stroke="#00cdcd"/><circle cx="149.3" cy="444.2" r="5.75" stroke="#696969"/><circle cx="561.3" cy="401.7" r="5.75" stroke="#ff0000"/><circle cx="304.6" cy="400.8" r="5.75" stroke="#0000ff"/><circle cx="568.8" cy="408" r="5.75" stroke="#006400"/><circle cx="149.2" cy="251.8" r="5.75" stroke="#696969"/><circle cx="561.2" cy="334.8" r="5.75" stroke="#ff0000"/><circle cx="343.1" cy="456.9" r="5.75" stroke="#ffd700"/><circle cx="569.4" cy="278.9" r="5.75" stroke="#006400"/><circle cx="149.6" cy="334.8" r="5.75" stroke="#696969"/><circle cx="561.7" cy="268.4" r="5.75" stroke="#ff0000"/><circle cx="304.3" cy="480.6" r="5.75" stroke="#0000ff"/><circle cx="639.6" cy="280.7" r="5.75" stroke="#00cdcd"/><circle cx="149.5" cy="441.3" r="5.75" stroke="#696969"/><circle cx="149.7" cy="431.2" r="5.75" stroke="#696969"/><circle cx="561.8" cy="409.6" r="5.75" stroke="#ff0000"/><circle cx="561.8" cy="425.7" r="5.75" stroke="#ff0000"/><circle cx="568.4" cy="401.6" r="5.75" stroke="#006400"/><circle cx="304.6" cy="423.3" r="5.75" stroke="#0000ff"/><circle cx="149.4" cy="449.9" r="5.75" stroke="#696969"/><circle cx="291" cy="323.8" r="5.75" stroke="#696969"/><circle cx="561.6" cy="480.6" r="5.75" stroke="#ff0000"/><circle cx="149.5" cy="398.1" r="5.75" stroke="#696969"/><circle cx="149.6" cy="428.8" r="5.75" stroke="#696969"/><circle cx="568.3" cy="414.4" r="5.75" stroke="#006400"/><circle cx="561.8" cy="266.5" r="5.75" stroke="#ff0000"/><circle cx="304.4" cy="263.9" r="5.75" stroke="#0000ff"/><circle cx="149.5" cy="398.3" r="5.75" stroke="#696969"/><circle cx="343.1" cy="416.9" r="5.75" stroke="#ffd700"/><circle cx="561.7" cy="426.1" r="5.75" stroke="#ff0000"/><circle cx="639.4" cy="476.7" r="5.75" stroke="#00cdcd"/><circle cx="568.9" cy="469" r="5.75" stroke="#006400"/><circle cx="291.2" cy="435.3" r="5.75" stroke="#696969"/><circle cx="398" cy="420.5" r="5.75" stroke="#696969"/><circle cx="640" cy="459.2" r="5.75" stroke="#00cdcd"/><circle cx="561.2" cy="396.4" r="5.75" stroke="#ff0000"/><circle cx="639.6" cy="393.6" r="5.75" stroke="#00cdcd"/><circle cx="561.6" cy="454.8" r="5.75" stroke="#ff0000"/><circle cx="263.2" cy="405.5" r="5.75" stroke="#696969"/><circle cx="561.3" cy="416.1" r="5.75" stroke="#ff0000"/><circle cx="149.5" cy="457.1" r="5.75" stroke="#696969"/><circle cx="149.3" cy="285.9" r="5.75" stroke="#696969"/><circle cx="569" cy="395.8" r="5.75" stroke="#006400"/><circle cx="149.5" cy="416.7" r="5.75" stroke="#696969"/><circle cx="149.4" cy="465" r="5.75" stroke="#696969"/><circle cx="149.1" cy="430.1" r="5.75" stroke="#696969"/><circle cx="149.4" cy="450.9" r="5.75" stroke="#696969"/><circle cx="149.2" cy="414.7" r="5.75" stroke="#696969"/><circle cx="149.3" cy="477.8" r="5.75" stroke="#696969"/><circle cx="304" cy="480.2" r="5.75" stroke="#0000ff"/><circle cx="568.8" cy="298.9" r="5.75" stroke="#006400"/><circle cx="149.3" cy="255.8" r="5.75" stroke="#696969"/><circle cx="639.3" cy="330.8" r="5.75" stroke="#00cdcd"/><circle cx="639.4" cy="395.7" r="5.75" stroke="#00cdcd"/><circle cx="561.4" cy="406.9" r="5.75" stroke="#ff0000"/><circle cx="149.3" cy="301" r="5.75" stroke="#696969"/><circle cx="561.5" cy="445.9" r="5.75" stroke="#ff0000"/><circle cx="149.5" cy="453.4" r="5.75" stroke="#696969"/><circle cx="568.9" cy="414.1" r="5.75" stroke="#006400"/><circle cx="149.4" cy="444.8" r="5.75" stroke="#696969"/><circle cx="343.1" cy="280.5" r="5.75" stroke="#ffd700"/><circle cx="149.2" cy="463.6" r="5.75" stroke="#696969"/><circle cx="569.2" cy="264.7" r="5.75" stroke="#006400"/><circle cx="561.5" cy="441.1" r="5.75" stroke="#ff0000"/><circle cx="149.2" cy="265.9" r="5.75" stroke="#696969"/><circle cx="561.8" cy="461.1" r="5.75" stroke="#ff0000"/><circle cx="236" cy="449.1" r="5.75" stroke="#696969"/><circle cx="304.4" cy="466.3" r="5.75" stroke="#0000ff"/><circle cx="639.5" cy="334.8" r="5.75" stroke="#00cdcd"/><circle cx="149.3" cy="404" r="5.75" stroke="#696969"/><circle cx="149.6" cy="442.4" r="5.75" stroke="#696969"/><circle cx="304.6" cy="433.2" r="5.75" stroke="#0000ff"/><circle cx="149.2" cy="403.3" r="5.75" stroke="#696969"/><circle cx="304.1" cy="449.8" r="5.75" stroke="#0000ff"/><circle cx="149.6" cy="279.2" r="5.75" stroke="#696969"/><circle cx="561.8" cy="314.5" r="5.75" stroke="#ff0000"/><circle cx="639.8" cy="478.8" r="5.75" stroke="#00cdcd"/><circle cx="639.2" cy="399.4" r="5.75" stroke="#00cdcd"/><circle cx="568.8" cy="267.8" r="5.75" stroke="#006400"/><circle cx="149.3" cy="433.3" r="5.75" stroke="#696969"/><circle cx="561.4" cy="295.3" r="5.75" stroke="#ff0000"/><circle cx="639.2" cy="297.3" r="5.75" stroke="#00cdcd"/><circle cx="640.1" cy="419.1" r="5.75" stroke="#00cdcd"/><circle cx="149.5" cy="296.6" r="5.75" stroke="#696969"/><circle cx="639.5" cy="422.4" r="5.75" stroke="#00cdcd"/><circle cx="569.1" cy="320.7" r="5.75" stroke="#006400"/><circle cx="561.7" cy="278" r="5.75" stroke="#ff0000"/><circle cx="639.4" cy="278.1" r="5.75" stroke="#00cdcd"/><circle cx="149.2" cy="447.3" r="5.75" stroke="#696969"/><circle cx="343.1" cy="435.1" r="5.75" stroke="#ffd700"/><circle cx="639.3" cy="398.4" r="5.75" stroke="#00cdcd"/><circle cx="291.4" cy="408.4" r="5.75" stroke="#696969"/><circle cx="149.2" cy="326.2" r="5.75" stroke="#696969"/><circle cx="149.3" cy="304.6" r="5.75" stroke="#696969"/><circle cx="631.1" cy="438.7" r="5.75" stroke="#ff0000"/><circle cx="304.3" cy="250.6" r="5.75" stroke="#0000ff"/><circle cx="149.3" cy="269.9" r="5.75" stroke="#696969"/><circle cx="561.7" cy="433.4" r="5.75" stroke="#ff0000"/><circle cx="569.2" cy="315.7" r="5.75" stroke="#006400"/><circle cx="639.9" cy="472.5" r="5.75" stroke="#00cdcd"/><circle cx="149.6" cy="297" r="5.75" stroke="#696969"/><circle cx="639.4" cy="303.8" r="5.75" stroke="#00cdcd"/><circle cx="639.2" cy="393.6" r="5.75" stroke="#00cdcd"/><circle cx="639.4" cy="453.4" r="5.75" stroke="#00cdcd"/><circle cx="149.5" cy="438.3" r="5.75" stroke="#696969"/><circle cx="639.7" cy="445.7" r="5.75" stroke="#00cdcd"/><circle cx="304.1" cy="403.4" r="5.75" stroke="#0000ff"/><circle cx="149.3" cy="297.9" r="5.75" stroke="#696969"/><circle cx="568.7" cy="395" r="5.75" stroke="#006400"/><circle cx="568.4" cy="311.4" r="5.75" stroke="#006400"/><circle cx="149.4" cy="480.6" r="5.75" stroke="#696969"/><circle cx="568.5" cy="418.7" r="5.75" stroke="#006400"/><circle cx="149.3" cy="422.8" r="5.75" stroke="#696969"/><circle cx="601.3" cy="265.7" r="5.75" stroke="#696969"/><circle cx="304.3" cy="293" r="5.75" stroke="#0000ff"/><circle cx="639.8" cy="439.4" r="5.75" stroke="#00cdcd"/><circle cx="561.4" cy="289.2" r="5.75" stroke="#ff0000"/><circle cx="568.5" cy="438.8" r="5.75" stroke="#006400"/><circle cx="149.4" cy="283.3" r="5.75" stroke="#696969"/><circle cx="639.3" cy="402.9" r="5.75" stroke="#00cdcd"/><circle cx="304.4" cy="441.3" r="5.75" stroke="#0000ff"/><circle cx="639.8" cy="478.3" r="5.75" stroke="#00cdcd"/><circle cx="149.3" cy="424" r="5.75" stroke="#696969"/><circle cx="639.3" cy="406.7" r="5.75" stroke="#00cdcd"/><circle cx="568.8" cy="421.3" r="5.75" stroke="#006400"/><circle cx="639.9" cy="397.2" r="5.75" stroke="#00cdcd"/><circle cx="639.2" cy="253.3" r="5.75" stroke="#00cdcd"/><circle cx="561.6" cy="393.6" r="5.75" stroke="#ff0000"/><circle cx="236" cy="248.3" r="5.75" stroke="#696969"/><circle cx="443.3" cy="450.1" r="5.75" stroke="#696969"/><circle cx="304.3" cy="334.8" r="5.75" stroke="#0000ff"/><circle cx="247.4" cy="412.5" r="5.75" stroke="#696969"/><circle cx="561.5" cy="292.7" r="5.75" stroke="#ff0000"/><circle cx="291.5" cy="457.5" r="5.75" stroke="#696969"/><circle cx="640" cy="465.4" r="5.75" stroke="#00cdcd"/><circle cx="568.3" cy="425.7" r="5.75" stroke="#006400"/><circle cx="149.5" cy="325.5" r="5.75" stroke="#696969"/><circle cx="639.2" cy="319.8" r="5.75" stroke="#00cdcd"/><circle cx="149.6" cy="304.4" r="5.75" stroke="#696969"/><circle cx="149.4" cy="436.7" r="5.75" stroke="#696969"/><circle cx="149.7" cy="317.5" r="5.75" stroke="#696969"/><circle cx="570.6" cy="302" r="5.75" stroke="#696969"/><circle cx="291" cy="396" r="5.75" stroke="#696969"/><circle cx="569" cy="407.7" r="5.75" stroke="#006400"/><circle cx="291.2" cy="444.1" r="5.75" stroke="#696969"/><circle cx="149.6" cy="475.6" r="5.75" stroke="#696969"/><circle cx="343.1" cy="253.6" r="5.75" stroke="#ffd700"/><circle cx="149.6" cy="421.2" r="5.75" stroke="#696969"/><circle cx="639.5" cy="262.8" r="5.75" stroke="#00cdcd"/><circle cx="569.1" cy="451.1" r="5.75" stroke="#006400"/><circle cx="569.1" cy="327.9" r="5.75" stroke="#006400"/><circle cx="149.4" cy="315.1" r="5.75" stroke="#696969"/><circle cx="639.4" cy="295.3" r="5.75" stroke="#00cdcd"/><circle cx="304.7" cy="282.1" r="5.75" stroke="#0000ff"/><circle cx="343.1" cy="258.4" r="5.75" stroke="#ffd700"/><circle cx="149.6" cy="442.9" r="5.75" stroke="#696969"/><circle cx="568.5" cy="401.6" r="5.75" stroke="#006400"/><circle cx="149.6" cy="457.7" r="5.75" stroke="#696969"/><circle cx="149.4" cy="393.6" r="5.75" stroke="#696969"/><circle cx="561.5" cy="448" r="5.75" stroke="#ff0000"/><circle cx="569" cy="323.8" r="5.75" stroke="#006400"/><circle cx="149.6" cy="259.8" r="5.75" stroke="#696969"/><circle cx="149.4" cy="407.7" r="5.75" stroke="#696969"/><circle cx="304.2" cy="450.3" r="5.75" stroke="#0000ff"/><circle cx="149.2" cy="448.2" r="5.75" stroke="#696969"/><circle cx="639.8" cy="429.6" r="5.75" stroke="#00cdcd"/><circle cx="451.3" cy="476.2" r="5.75" stroke="#0000ff"/><circle cx="569.2" cy="332.2" r="5.75" stroke="#006400"/><circle cx="569.1" cy="399.3" r="5.75" stroke="#006400"/><circle cx="304.2" cy="326.1" r="5.75" stroke="#0000ff"/><circle cx="149.2" cy="424.2" r="5.75" stroke="#696969"/><circle cx="304.2" cy="469" r="5.75" stroke="#0000ff"/><circle cx="149.6" cy="456.3" r="5.75" stroke="#696969"/><circle cx="291.5" cy="420.1" r="5.75" stroke="#696969"/><circle cx="569" cy="332.2" r="5.75" stroke="#006400"/><circle cx="149.3" cy="398" r="5.75" stroke="#696969"/><circle cx="149.6" cy="291.7" r="5.75" stroke="#696969"/><circle cx="561.5" cy="457.6" r="5.75" stroke="#ff0000"/><circle cx="639.7" cy="438.2" r="5.75" stroke="#00cdcd"/><circle cx="149.3" cy="288.6" r="5.75" stroke="#696969"/><circle cx="149.6" cy="455.6" r="5.75" stroke="#696969"/><circle cx="290.7" cy="467.2" r="5.75" stroke="#696969"/><circle cx="149.1" cy="469.1" r="5.75" stroke="#696969"/><circle cx="640.1" cy="460.7" r="5.75" stroke="#00cdcd"/><circle cx="774.5" cy="281.9" r="5.75" stroke="#00cdcd"/><circle cx="149.6" cy="472.7" r="5.75" stroke="#696969"/><circle cx="362.2" cy="441.8" r="5.75" stroke="#696969"/><circle cx="425.9" cy="435.8" r="5.75" stroke="#696969"/><circle cx="304.1" cy="443.4" r="5.75" stroke="#0000ff"/><circle cx="291" cy="434.6" r="5.75" stroke="#696969"/><circle cx="639.8" cy="324.8" r="5.75" stroke="#00cdcd"/><circle cx="149.6" cy="429.5" r="5.75" stroke="#696969"/><circle cx="149.7" cy="409.2" r="5.75" stroke="#696969"/><circle cx="149.4" cy="418.9" r="5.75" stroke="#696969"/><circle cx="149.5" cy="411.3" r="5.75" stroke="#696969"/><circle cx="561.6" cy="467.3" r="5.75" stroke="#ff0000"/><circle cx="568.7" cy="430.6" r="5.75" stroke="#006400"/><circle cx="304.2" cy="416" r="5.75" stroke="#0000ff"/><circle cx="304" cy="397.9" r="5.75" stroke="#0000ff"/><circle cx="569" cy="463.4" r="5.75" stroke="#006400"/><circle cx="149.4" cy="403.8" r="5.75" stroke="#696969"/><circle cx="639.8" cy="422.7" r="5.75" stroke="#00cdcd"/><circle cx="425.9" cy="446.7" r="5.75" stroke="#696969"/><circle cx="639.6" cy="441.8" r="5.75" stroke="#00cdcd"/><circle cx="291" cy="334" r="5.75" stroke="#696969"/><circle cx="304.4" cy="473.3" r="5.75" stroke="#0000ff"/><circle cx="639.7" cy="416.7" r="5.75" stroke="#00cdcd"/><circle cx="639.9" cy="411.8" r="5.75" stroke="#00cdcd"/><circle cx="561.6" cy="477.1" r="5.75" stroke="#ff0000"/><circle cx="568.8" cy="299.5" r="5.75" stroke="#006400"/><circle cx="304.3" cy="393.6" r="5.75" stroke="#0000ff"/><circle cx="568.6" cy="299.8" r="5.75" stroke="#006400"/><circle cx="568.9" cy="445.9" r="5.75" stroke="#006400"/><circle cx="639.3" cy="443.3" r="5.75" stroke="#00cdcd"/><circle cx="149.2" cy="439.1" r="5.75" stroke="#696969"/><circle cx="149.6" cy="251.5" r="5.75" stroke="#696969"/><circle cx="639.6" cy="441" r="5.75" stroke="#00cdcd"/><circle cx="290.8" cy="419.3" r="5.75" stroke="#696969"/><circle cx="568.7" cy="481" r="5.75" stroke="#006400"/><circle cx="149.3" cy="475.4" r="5.75" stroke="#696969"/><circle cx="304.3" cy="291.1" r="5.75" stroke="#696969"/><circle cx="561.6" cy="334.8" r="5.75" stroke="#ff0000"/><circle cx="639.6" cy="419.4" r="5.75" stroke="#00cdcd"/><circle cx="561.8" cy="271.9" r="5.75" stroke="#ff0000"/><circle cx="639.6" cy="267.8" r="5.75" stroke="#00cdcd"/><circle cx="639.9" cy="286.4" r="5.75" stroke="#00cdcd"/><circle cx="149.3" cy="477.5" r="5.75" stroke="#696969"/><circle cx="568.5" cy="449.4" r="5.75" stroke="#006400"/><circle cx="149.4" cy="406.5" r="5.75" stroke="#696969"/><circle cx="149.3" cy="466.2" r="5.75" stroke="#696969"/><circle cx="149.5" cy="298" r="5.75" stroke="#696969"/><circle cx="561.5" cy="401.1" r="5.75" stroke="#ff0000"/><circle cx="149.4" cy="442.8" r="5.75" stroke="#696969"/><circle cx="639.8" cy="449.2" r="5.75" stroke="#00cdcd"/><circle cx="561.4" cy="261.2" r="5.75" stroke="#ff0000"/><circle cx="149.6" cy="400.6" r="5.75" stroke="#696969"/><circle cx="149.6" cy="322.6" r="5.75" stroke="#696969"/><circle cx="149.2" cy="403.7" r="5.75" stroke="#696969"/><circle cx="149.3" cy="477.8" r="5.75" stroke="#696969"/><circle cx="303.9" cy="410.5" r="5.75" stroke="#0000ff"/><circle cx="562" cy="315.8" r="5.75" stroke="#ff0000"/><circle cx="569.4" cy="287.3" r="5.75" stroke="#006400"/><circle cx="149.3" cy="425" r="5.75" stroke="#696969"/><circle cx="149.5" cy="255.1" r="5.75" stroke="#696969"/><circle cx="633.5" cy="258.4" r="5.75" stroke="#006400"/><circle cx="149.2" cy="430.9" r="5.75" stroke="#696969"/><circle cx="149.2" cy="472.1" r="5.75" stroke="#696969"/><circle cx="149.7" cy="327" r="5.75" stroke="#696969"/><circle cx="149.6" cy="449.8" r="5.75" stroke="#696969"/><circle cx="304.5" cy="456.1" r="5.75" stroke="#0000ff"/><circle cx="561.7" cy="431" r="5.75" stroke="#ff0000"/><circle cx="568.4" cy="428.1" r="5.75" stroke="#006400"/><circle cx="568.8" cy="308" r="5.75" stroke="#006400"/><circle cx="304.2" cy="410.9" r="5.75" stroke="#0000ff"/><circle cx="639.5" cy="432.5" r="5.75" stroke="#00cdcd"/><circle cx="149.2" cy="471.6" r="5.75" stroke="#696969"/><circle cx="149.2" cy="312.9" r="5.75" stroke="#696969"/><circle cx="149.5" cy="461.9" r="5.75" stroke="#696969"/><circle cx="639.5" cy="471" r="5.75" stroke="#00cdcd"/><circle cx="303.9" cy="326.1" r="5.75" stroke="#0000ff"/><circle cx="291.4" cy="476.2" r="5.75" stroke="#696969"/><circle cx="639.4" cy="333" r="5.75" stroke="#00cdcd"/><circle cx="149.1" cy="277.7" r="5.75" stroke="#696969"/><circle cx="562" cy="455.1" r="5.75" stroke="#ff0000"/><circle cx="291.4" cy="432.5" r="5.75" stroke="#696969"/><circle cx="149.4" cy="416.6" r="5.75" stroke="#696969"/><circle cx="561.6" cy="470.3" r="5.75" stroke="#ff0000"/><circle cx="561.7" cy="465.6" r="5.75" stroke="#ff0000"/><circle cx="561.9" cy="464.1" r="5.75" stroke="#ff0000"/><circle cx="569" cy="270.8" r="5.75" stroke="#006400"/><circle cx="235.1" cy="465.3" r="5.75" stroke="#696969"/><circle cx="149.3" cy="418.7" r="5.75" stroke="#696969"/><circle cx="561.5" cy="310.4" r="5.75" stroke="#ff0000"/><circle cx="149.2" cy="465.6" r="5.75" stroke="#696969"/><circle cx="291" cy="398.9" r="5.75" stroke="#696969"/><circle cx="304.6" cy="433.9" r="5.75" stroke="#0000ff"/><circle cx="149.4" cy="334.8" r="5.75" stroke="#696969"/><circle cx="561.4" cy="302.3" r="5.75" stroke="#ff0000"/><circle cx="304.4" cy="424.7" r="5.75" stroke="#0000ff"/><circle cx="451.3" cy="319.7" r="5.75" stroke="#0000ff"/><circle cx="561.9" cy="328.8" r="5.75" stroke="#ff0000"/><circle cx="568.5" cy="260.5" r="5.75" stroke="#006400"/><circle cx="290.7" cy="404.6" r="5.75" stroke="#696969"/><circle cx="561.5" cy="434.3" r="5.75" stroke="#ff0000"/><circle cx="616.1" cy="396.8" r="5.75" stroke="#006400"/><circle cx="149.3" cy="313" r="5.75" stroke="#696969"/><circle cx="304.4" cy="427" r="5.75" stroke="#0000ff"/><circle cx="149.4" cy="467.6" r="5.75" stroke="#696969"/><circle cx="561.4" cy="395.5" r="5.75" stroke="#ff0000"/><circle cx="703.3" cy="426.6" r="5.75" stroke="#ff0000"/><circle cx="568.7" cy="452.2" r="5.75" stroke="#006400"/><circle cx="149.2" cy="433.6" r="5.75" stroke="#696969"/></g>
<g fill="none" stroke="#000"><path d="M149.1 291.4H304.3 M640.1 291.4H774.5" stroke-width="4.1"/><rect x="304.3" y="226.4" width="335.8" height="130" stroke-width="4.1"/><path d="M561.6 226.4V356.4" stroke-width="8"/></g>
<g fill="none" stroke="#000"><path d="M149.1 436.6H236 M569.4 436.6H726" stroke-width="4.1"/><rect x="236" y="371.6" width="333.4" height="130" stroke-width="4.1"/><path d="M304.3 371.6V501.6" stroke-width="8"/></g>
<g font-size="23" fill="#000">
<text x="148.6" y="567">Double 1−sided Unadj. Sieve P &lt; 0.001</text>
<text x="148.6" y="600.8">FWER P−value &lt; 0.001; Q−value &lt; 0.001</text>
<text x="237.4" y="643.8">95% Pointwise CI</text>
</g>
<path d="M147 635.5H214.6" stroke="#000" stroke-width="6.2" stroke-dasharray="23.5 22.3" fill="none"/>
<path d="M149.1 729.8L152.1 730.3L155.1 730.8L158.1 731.4L161.1 731.9L164.1 732.5L167.1 733.0L170.1 733.6L173.1 734.1L176.1 734.7L179.1 735.2L182.1 735.8L185.1 736.4L188.1 737.0L191.1 737.5L194.1 738.1L197.1 738.7L200.1 739.3L203.1 739.9L206.1 740.4L209.1 741.0L212.1 741.6L215.1 742.2L218.1 742.8L221.1 743.4L224.1 744.0L227.1 744.6L230.1 745.3L233.1 745.9L236.1 746.5L239.1 747.1L242.1 747.7L245.1 748.4L248.1 749.0L251.1 749.6L254.1 750.3L257.1 750.9L260.1 751.5L263.1 752.2L266.1 752.8L269.1 753.5L272.1 754.1L275.1 754.8L278.1 755.4L281.1 756.1L284.1 756.7L287.1 757.4L290.1 758.0L293.1 758.7L296.1 759.4L299.1 760.0L302.1 760.7L305.1 761.4L308.1 762.0L311.1 762.7L314.1 763.4L317.1 764.0L320.1 764.7L323.1 765.4L326.1 766.1L329.1 766.8L332.1 767.4L335.1 768.1L338.1 768.8L341.1 769.5L344.1 770.2L347.1 770.8L350.1 771.5L353.1 772.2L356.1 772.9L359.1 773.6L362.1 774.3L365.1 774.9L368.1 775.6L371.1 776.3L374.1 777.0L377.1 777.7L380.1 778.4L383.1 779.0L386.1 779.7L389.1 780.4L392.1 781.1L395.1 781.7L398.1 782.4L401.1 783.1L404.1 783.8L407.1 784.4L410.1 785.1L413.1 785.8L416.1 786.4L419.1 787.1L422.1 787.8L425.1 788.4L428.1 789.1L431.1 789.7L434.1 790.4L437.1 791.0L440.1 791.7L443.1 792.3L446.1 793.0L449.1 793.6L452.1 794.2L455.1 794.9L458.1 795.5L461.1 796.1L464.1 796.7L467.1 797.4L470.1 798.0L473.1 798.6L476.1 799.2L479.1 799.8L482.1 800.4L485.1 801.1L488.1 801.7L491.1 802.3L494.1 802.9L497.1 803.5L500.1 804.1L503.1 804.6L506.1 805.2L509.1 805.8L512.1 806.4L515.1 807.0L518.1 807.6L521.1 808.1L524.1 808.7L527.1 809.3L530.1 809.9L533.1 810.4L536.1 811.0L539.1 811.6L542.1 812.1L545.1 812.7L548.1 813.2L551.1 813.8L554.1 814.4L557.1 814.9L560.1 815.5L563.1 816.0L566.1 816.6L569.1 817.1L572.1 817.6L575.1 818.2L578.1 818.7L581.1 819.3L584.1 819.8L587.1 820.4L590.1 820.9L593.1 821.4L596.1 822.0L599.1 822.5L602.1 823.0L605.1 823.6L608.1 824.1L611.1 824.6L614.1 825.2L617.1 825.7L620.1 826.2L623.1 826.7L626.1 827.3L629.1 827.8L632.1 828.3L635.1 828.8L638.1 829.4L641.1 829.9L644.1 830.4L647.1 830.9L650.1 831.5L653.1 832.0L656.1 832.5L659.1 833.0L662.1 833.5L665.1 834.1L668.1 834.6L671.1 835.1L674.1 835.6L677.1 836.2L680.1 836.7L683.1 837.2L686.1 837.7L689.1 838.2L692.1 838.8L695.1 839.3L698.1 839.8L701.1 840.3L704.1 840.8L707.1 841.4L710.1 841.9L713.1 842.4L716.1 842.9L719.1 843.4L722.1 844.0L725.1 844.5L728.1 845.0L731.1 845.5L734.1 846.1L737.1 846.6L740.1 847.1L743.1 847.6L746.1 848.2L749.1 848.7L752.1 849.2L755.1 849.7L758.1 850.3L761.1 850.8L764.1 851.3L767.1 851.8L770.1 852.4L773.1 852.9L774.8 853.2" fill="none" stroke="#000" stroke-width="5.5" stroke-dasharray="23.3 22.15"/>
<path d="M149.1 785.3L152.1 785.7L155.1 786.1L158.1 786.4L161.1 786.8L164.1 787.2L167.1 787.6L170.1 788.0L173.1 788.3L176.1 788.7L179.1 789.1L182.1 789.5L185.1 789.9L188.1 790.3L191.1 790.7L194.1 791.1L197.1 791.5L200.1 791.9L203.1 792.3L206.1 792.7L209.1 793.1L212.1 793.5L215.1 793.9L218.1 794.4L221.1 794.8L224.1 795.2L227.1 795.6L230.1 796.1L233.1 796.5L236.1 796.9L239.1 797.4L242.1 797.8L245.1 798.3L248.1 798.7L251.1 799.2L254.1 799.6L257.1 800.1L260.1 800.6L263.1 801.0L266.1 801.5L269.1 802.0L272.1 802.5L275.1 802.9L278.1 803.4L281.1 803.9L284.1 804.4L287.1 804.9L290.1 805.4L293.1 805.9L296.1 806.4L299.1 807.0L302.1 807.5L305.1 808.0L308.1 808.6L311.1 809.1L314.1 809.6L317.1 810.2L320.1 810.7L323.1 811.3L326.1 811.9L329.1 812.5L332.1 813.0L335.1 813.6L338.1 814.2L341.1 814.8L344.1 815.4L347.1 816.0L350.1 816.7L353.1 817.3L356.1 817.9L359.1 818.6L362.1 819.2L365.1 819.9L368.1 820.6L371.1 821.2L374.1 821.9L377.1 822.6L380.1 823.3L383.1 824.0L386.1 824.7L389.1 825.5L392.1 826.2L395.1 826.9L398.1 827.7L401.1 828.5L404.1 829.2L407.1 830.0L410.1 830.8L413.1 831.6L416.1 832.4L419.1 833.3L422.1 834.1L425.1 835.0L428.1 835.8L431.1 836.7L434.1 837.6L437.1 838.5L440.1 839.4L443.1 840.3L446.1 841.2L449.1 842.2L452.1 843.1L455.1 844.1L458.1 845.0L461.1 846.0L464.1 847.0L467.1 848.0L470.1 849.1L473.1 850.1L476.1 851.2L479.1 852.2L482.1 853.3L485.1 854.4L488.1 855.5L491.1 856.6L494.1 857.7L497.1 858.8L500.1 860.0L503.1 861.2L506.1 862.3L509.1 863.5L512.1 864.7L515.1 865.9L518.1 867.2L521.1 868.4L524.1 869.7L527.1 870.9L530.1 872.2L533.1 873.5L536.1 874.8L539.1 876.1L542.1 877.5L545.1 878.8L548.1 880.2L551.1 881.5L554.1 882.9L557.1 884.3L560.1 885.7L563.1 887.2L566.1 888.6L569.1 890.0L572.1 891.5L575.1 893.0L578.1 894.5L581.1 896.0L584.1 897.5L587.1 899.0L590.1 900.6L593.1 902.2L596.1 903.7L599.1 905.3L602.1 906.9L605.1 908.5L608.1 910.2L611.1 911.8L614.1 913.5L617.1 915.1L620.1 916.8L623.1 918.5L626.1 920.2L629.1 922.0L632.1 923.7L635.1 925.5L638.1 927.2L641.1 929.0L644.1 930.8L647.1 932.7L650.1 934.5L653.1 936.3L656.1 938.2L659.1 940.1L662.1 941.9L665.1 943.9L668.1 945.8L671.1 947.7L674.1 949.7L677.1 951.6L680.1 953.6L683.1 955.6L686.1 957.6L689.1 959.6L692.1 961.7L695.1 963.7L698.1 965.8L701.1 967.9L704.1 970.0L707.1 972.1L710.1 974.3L713.1 976.4L716.1 978.6L719.1 980.8L722.1 983.0L725.1 985.2L728.1 987.4L731.1 989.7L734.1 992.0L737.1 994.2L740.1 996.5L743.1 998.9L746.1 1001.2L749.1 1003.6L752.1 1005.9L755.1 1008.3L758.0 1010.6" fill="none" stroke="#000" stroke-width="5.5" stroke-dasharray="23.3 22.15"/>
<path d="M149.1 753.9L152.1 754.4L155.1 754.9L158.1 755.4L161.1 755.9L164.1 756.4L167.1 756.9L170.1 757.4L173.1 757.9L176.1 758.4L179.1 758.9L182.1 759.4L185.1 760.0L188.1 760.5L191.1 761.0L194.1 761.5L197.1 762.0L200.1 762.6L203.1 763.1L206.1 763.6L209.1 764.2L212.1 764.7L215.1 765.3L218.1 765.8L221.1 766.3L224.1 766.9L227.1 767.4L230.1 768.0L233.1 768.5L236.1 769.1L239.1 769.7L242.1 770.2L245.1 770.8L248.1 771.4L251.1 771.9L254.1 772.5L257.1 773.1L260.1 773.7L263.1 774.2L266.1 774.8L269.1 775.4L272.1 776.0L275.1 776.6L278.1 777.2L281.1 777.8L284.1 778.4L287.1 779.0L290.1 779.6L293.1 780.2L296.1 780.8L299.1 781.4L302.1 782.0L305.1 782.7L308.1 783.3L311.1 783.9L314.1 784.5L317.1 785.2L320.1 785.8L323.1 786.5L326.1 787.1L329.1 787.7L332.1 788.4L335.1 789.0L338.1 789.7L341.1 790.3L344.1 791.0L347.1 791.7L350.1 792.3L353.1 793.0L356.1 793.7L359.1 794.3L362.1 795.0L365.1 795.7L368.1 796.4L371.1 797.1L374.1 797.8L377.1 798.5L380.1 799.2L383.1 799.9L386.1 800.6L389.1 801.3L392.1 802.0L395.1 802.7L398.1 803.4L401.1 804.1L404.1 804.9L407.1 805.6L410.1 806.3L413.1 807.0L416.1 807.8L419.1 808.5L422.1 809.3L425.1 810.0L428.1 810.8L431.1 811.5L434.1 812.3L437.1 813.0L440.1 813.8L443.1 814.6L446.1 815.3L449.1 816.1L452.1 816.9L455.1 817.7L458.1 818.5L461.1 819.3L464.1 820.1L467.1 820.9L470.1 821.7L473.1 822.5L476.1 823.3L479.1 824.1L482.1 824.9L485.1 825.7L488.1 826.5L491.1 827.4L494.1 828.2L497.1 829.0L500.1 829.9L503.1 830.7L506.1 831.6L509.1 832.4L512.1 833.3L515.1 834.1L518.1 835.0L521.1 835.9L524.1 836.7L527.1 837.6L530.1 838.5L533.1 839.4L536.1 840.3L539.1 841.2L542.1 842.0L545.1 842.9L548.1 843.9L551.1 844.8L554.1 845.7L557.1 846.6L560.1 847.5L563.1 848.4L566.1 849.4L569.1 850.3L572.1 851.2L575.1 852.2L578.1 853.1L581.1 854.1L584.1 855.0L587.1 856.0L590.1 857.0L593.1 857.9L596.1 858.9L599.1 859.9L602.1 860.9L605.1 861.9L608.1 862.8L611.1 863.8L614.1 864.8L617.1 865.9L620.1 866.9L623.1 867.9L626.1 868.9L629.1 869.9L632.1 871.0L635.1 872.0L638.1 873.0L641.1 874.1L644.1 875.1L647.1 876.2L650.1 877.2L653.1 878.3L656.1 879.4L659.1 880.4L662.1 881.5L665.1 882.6L668.1 883.7L671.1 884.8L674.1 885.9L677.1 887.0L680.1 888.1L683.1 889.2L686.1 890.3L689.1 891.5L692.1 892.6L695.1 893.7L698.1 894.9L701.1 896.0L704.1 897.2L707.1 898.3L710.1 899.5L713.1 900.6L716.1 901.8L719.1 903.0L722.1 904.2L725.1 905.4L728.1 906.6L731.1 907.8L734.1 909.0L737.1 910.2L740.1 911.4L743.1 912.6L746.1 913.9L749.1 915.1L752.1 916.3L755.1 917.6L758.1 918.8L761.1 920.1L764.1 921.4L767.1 922.6L770.1 923.9L773.1 925.2L774.5 925.8" fill="none" stroke="#000" stroke-width="7.6"/>
<path d="M149.1 740.2V801.7 M142.2 740.2h13.8 M142.2 801.7h13.8" stroke="#696969" stroke-width="4.9" fill="none"/>
<path d="M304.3 728.8V820.8 M297.4 728.8h13.8 M297.4 820.8h13.8" stroke="#0000ff" stroke-width="4.9" fill="none"/>
<path d="M561.6 846.5V1098.5 M554.7 846.5h13.8 M554.7 1098.5h13.8" stroke="#ff0000" stroke-width="4.9" fill="none"/>
<path d="M568.7 784.5V949.4 M561.8 784.5h13.8 M561.8 949.4h13.8" stroke="#006400" stroke-width="4.9" fill="none"/>
<path d="M639.6 798.3V913.6 M632.7 798.3h13.8 M632.7 913.6h13.8" stroke="#00cdcd" stroke-width="4.9" fill="none"/>
<circle cx="149.1" cy="767.1" r="6.1" fill="#696969"/>
<circle cx="304.3" cy="766.3" r="6.1" fill="#0000ff"/>
<circle cx="561.6" cy="946.7" r="6.1" fill="#ff0000"/>
<circle cx="568.7" cy="850.6" r="6.1" fill="#006400"/>
<circle cx="639.6" cy="847.5" r="6.1" fill="#00cdcd"/>
<g fill="none" stroke="#333" stroke-width="1.4">
<rect x="100.6" y="59.7" width="778.8" height="1091.3"/>
<path d="M100.6 520.8H879.4" stroke-width="1.75"/>
<path d="M100.6 1049.2h-6.6 M100.6 982.5h-6.6 M100.6 915.8h-6.6 M100.6 849h-6.6 M100.6 782.3h-6.6 M100.6 715.5h-6.6 M100.6 648.8h-6.6 M149.4 1151v6.6 M308.4 1151v6.6 M467.4 1151v6.6 M626.5 1151v6.6 M785.5 1151v6.6" stroke-width="2.3"/>
</g>
<g font-size="28.8" fill="#000">
<text transform="translate(64.7,1059.8) scale(1,1.05)" text-anchor="middle">−20</text>
<text transform="translate(64.7,993.1) scale(1,1.05)" text-anchor="middle">0</text>
<text transform="translate(64.7,926.4) scale(1,1.05)" text-anchor="middle">20</text>
<text transform="translate(64.7,859.6) scale(1,1.05)" text-anchor="middle">40</text>
<text transform="translate(64.7,792.9) scale(1,1.05)" text-anchor="middle">60</text>
<text transform="translate(64.7,726.1) scale(1,1.05)" text-anchor="middle">80</text>
<text transform="translate(64.7,659.4) scale(1,1.05)" text-anchor="middle">100</text>
<text transform="translate(149.4,1186.1) scale(1,1.05)" text-anchor="middle">0</text>
<text transform="translate(308.4,1186.1) scale(1,1.05)" text-anchor="middle">1</text>
<text transform="translate(467.4,1186.1) scale(1,1.05)" text-anchor="middle">2</text>
<text transform="translate(626.5,1186.1) scale(1,1.05)" text-anchor="middle">3</text>
<text transform="translate(785.5,1186.1) scale(1,1.05)" text-anchor="middle">4</text>
</g>
<g font-size="31.5" fill="#000">
<text x="490" y="1228" text-anchor="middle">Physicochemical−weighted Hamming Distance in RBD</text>
<text transform="translate(26.9,875.5) rotate(-90)" text-anchor="middle">VE (%) against COVID−19</text>
</g>
<g font-size="31.5" fill="#000">
<text transform="translate(85.8,292.3) rotate(-90)" text-anchor="middle">Vaccine</text>
<text transform="translate(85.8,436.6) rotate(-90)" text-anchor="middle">Placebo</text>
</g>
<text x="468.5" y="29.9" font-size="30" font-weight="bold" text-anchor="middle" fill="#000">RBD</text>
<text x="3.8" y="28.8" font-size="34" font-weight="bold" fill="#231f20">b</text>
</g>
<g transform="translate(0,1311.3)">
<rect x="100.6" y="59.7" width="778.8" height="1091.3" fill="#fff"/>
<g stroke="#ebebeb" fill="none"><path d="M246.4 59.7V1151" stroke-width="1.3"/><path d="M441.3 59.7V1151" stroke-width="1.3"/><path d="M636.1 59.7V1151" stroke-width="1.3"/><path d="M831 59.7V1151" stroke-width="1.3"/><path d="M149 59.7V1151" stroke-width="2.45"/><path d="M343.9 59.7V1151" stroke-width="2.45"/><path d="M538.7 59.7V1151" stroke-width="2.45"/><path d="M733.5 59.7V1151" stroke-width="2.45"/><path d="M100.6 146H879.4" stroke-width="2.45"/><path d="M100.6 291.4H879.4" stroke-width="2.45"/><path d="M100.6 436.6H879.4" stroke-width="2.45"/><path d="M100.6 1116H879.4" stroke-width="1.3"/><path d="M100.6 1082.6H879.4" stroke-width="1.3"/><path d="M100.6 1049.2H879.4" stroke-width="2.45"/><path d="M100.6 1015.9H879.4" stroke-width="1.3"/><path d="M100.6 982.5H879.4" stroke-width="2.45"/><path d="M100.6 949.1H879.4" stroke-width="1.3"/><path d="M100.6 915.8H879.4" stroke-width="2.45"/><path d="M100.6 882.4H879.4" stroke-width="1.3"/><path d="M100.6 849H879.4" stroke-width="2.45"/><path d="M100.6 815.6H879.4" stroke-width="1.3"/><path d="M100.6 782.3H879.4" stroke-width="2.45"/><path d="M100.6 748.9H879.4" stroke-width="1.3"/><path d="M100.6 715.5H879.4" stroke-width="2.45"/><path d="M100.6 682.2H879.4" stroke-width="1.3"/><path d="M100.6 648.8H879.4" stroke-width="2.45"/><path d="M100.6 615.4H879.4" stroke-width="1.3"/><path d="M100.6 582.1H879.4" stroke-width="1.3"/></g>
<rect x="148.8" y="97.9" width="291.4" height="96.3" fill="#fff"/><rect x="150.6" y="100.2" width="127.3" height="28.7" fill="#ccc"/><rect x="280.4" y="100.2" width="157.6" height="28.7" fill="#ccc"/><rect x="150.6" y="131.4" width="127.3" height="29" fill="#fafafa"/><rect x="280.4" y="131.4" width="157.6" height="29" fill="#fafafa"/><rect x="150.6" y="163.6" width="127.3" height="29" fill="#fafafa"/><rect x="280.4" y="163.6" width="157.6" height="29" fill="#fafafa"/><g font-size="23" fill="#000" text-anchor="middle"><text x="214.2" y="123.2" font-weight="bold">Treatment</text><text x="359.3" y="123.2" font-weight="bold">No. of Cases</text><text x="214.2" y="154.7">Vaccine</text><text x="359.3" y="154.7">263</text><text x="214.2" y="185.7">Placebo</text><text x="359.3" y="185.7">513</text></g>
<rect x="517.2" y="98" width="29.8" height="34.3" fill="#fff"/><rect x="649.6" y="98" width="29.8" height="34.3" fill="#fff"/><rect x="770.3" y="98" width="29.8" height="34.3" fill="#fff"/><rect x="517.2" y="138.3" width="29.8" height="54.7" fill="#fff"/><rect x="649.6" y="138.3" width="29.8" height="54.7" fill="#fff"/><g fill="none" stroke-width="4.2" stroke-opacity="0.8"><circle cx="532" cy="112.2" r="6.8" stroke="#696969"/><circle cx="532" cy="148.2" r="6.8" stroke="#ffd700"/><circle cx="532" cy="178.1" r="6.8" stroke="#00cdcd"/><circle cx="664.4" cy="112.2" r="6.8" stroke="#0000ff"/><circle cx="664.4" cy="148.2" r="6.8" stroke="#800000"/><circle cx="664.4" cy="178.1" r="6.8" stroke="#ff0000"/><circle cx="785.2" cy="112.2" r="6.8" stroke="#006400"/></g><g font-size="21" fill="#000"><text x="554.3" y="119.6">Reference</text><text x="554.3" y="155.6">Alpha</text><text x="554.3" y="185.5">Gamma</text><text x="686.7" y="119.6">Zeta</text><text x="686.7" y="155.6">Epsilon</text><text x="686.7" y="185.5">Lambda</text><text x="807.5" y="119.6">Mu</text></g>
<g fill="none" stroke-width="4.2" stroke-opacity="0.8"><circle cx="149.4" cy="475.5" r="5.75" stroke="#0000ff"/><circle cx="172.5" cy="454.6" r="5.75" stroke="#696969"/><circle cx="444.9" cy="468.3" r="5.75" stroke="#ff0000"/><circle cx="172.6" cy="410.5" r="5.75" stroke="#696969"/><circle cx="306.2" cy="276.6" r="5.75" stroke="#006400"/><circle cx="169.7" cy="444" r="5.75" stroke="#696969"/><circle cx="273.1" cy="256.2" r="5.75" stroke="#006400"/><circle cx="149.1" cy="417.6" r="5.75" stroke="#0000ff"/><circle cx="444.8" cy="475" r="5.75" stroke="#ff0000"/><circle cx="305.3" cy="317.1" r="5.75" stroke="#006400"/><circle cx="198.2" cy="411.2" r="5.75" stroke="#696969"/><circle cx="149.4" cy="473.2" r="5.75" stroke="#696969"/><circle cx="149.3" cy="296.1" r="5.75" stroke="#0000ff"/><circle cx="204.1" cy="392.4" r="5.75" stroke="#696969"/><circle cx="362.2" cy="404.4" r="5.75" stroke="#00cdcd"/><circle cx="199" cy="430.2" r="5.75" stroke="#696969"/><circle cx="165.4" cy="425.1" r="5.75" stroke="#696969"/><circle cx="179.2" cy="435.3" r="5.75" stroke="#696969"/><circle cx="189.2" cy="459.5" r="5.75" stroke="#696969"/><circle cx="188.2" cy="438.4" r="5.75" stroke="#696969"/><circle cx="305.5" cy="468" r="5.75" stroke="#006400"/><circle cx="306.1" cy="427.8" r="5.75" stroke="#006400"/><circle cx="345.8" cy="438.4" r="5.75" stroke="#006400"/><circle cx="190.8" cy="326.4" r="5.75" stroke="#0000ff"/><circle cx="242.9" cy="405.7" r="5.75" stroke="#ffd700"/><circle cx="197.6" cy="275.1" r="5.75" stroke="#696969"/><circle cx="466.8" cy="330.8" r="5.75" stroke="#ff0000"/><circle cx="149.2" cy="269.8" r="5.75" stroke="#0000ff"/><circle cx="149.6" cy="446.6" r="5.75" stroke="#0000ff"/><circle cx="164.2" cy="466.2" r="5.75" stroke="#0000ff"/><circle cx="305.8" cy="473.4" r="5.75" stroke="#006400"/><circle cx="199.1" cy="454.9" r="5.75" stroke="#696969"/><circle cx="361.6" cy="417.5" r="5.75" stroke="#00cdcd"/><circle cx="445.3" cy="261.2" r="5.75" stroke="#ff0000"/><circle cx="177.5" cy="420.2" r="5.75" stroke="#0000ff"/><circle cx="204.8" cy="467.5" r="5.75" stroke="#696969"/><circle cx="215.7" cy="254" r="5.75" stroke="#696969"/><circle cx="149" cy="281.1" r="5.75" stroke="#0000ff"/><circle cx="178.4" cy="477.3" r="5.75" stroke="#696969"/><circle cx="217.3" cy="421.3" r="5.75" stroke="#696969"/><circle cx="193.3" cy="457.3" r="5.75" stroke="#696969"/><circle cx="160.5" cy="475.9" r="5.75" stroke="#696969"/><circle cx="148.9" cy="418.3" r="5.75" stroke="#696969"/><circle cx="361.8" cy="447.1" r="5.75" stroke="#00cdcd"/><circle cx="362.4" cy="470.4" r="5.75" stroke="#00cdcd"/><circle cx="174.9" cy="469" r="5.75" stroke="#696969"/><circle cx="361.8" cy="282.2" r="5.75" stroke="#00cdcd"/><circle cx="362.2" cy="398.2" r="5.75" stroke="#00cdcd"/><circle cx="361.7" cy="274.1" r="5.75" stroke="#00cdcd"/><circle cx="353" cy="256.2" r="5.75" stroke="#006400"/><circle cx="208.8" cy="460.1" r="5.75" stroke="#696969"/><circle cx="149.2" cy="394" r="5.75" stroke="#696969"/><circle cx="190.9" cy="430.8" r="5.75" stroke="#696969"/><circle cx="177.8" cy="465.9" r="5.75" stroke="#696969"/><circle cx="215.7" cy="294.9" r="5.75" stroke="#696969"/><circle cx="306.1" cy="410.1" r="5.75" stroke="#006400"/><circle cx="305.6" cy="478" r="5.75" stroke="#006400"/><circle cx="149.1" cy="267.8" r="5.75" stroke="#0000ff"/><circle cx="185.2" cy="424.8" r="5.75" stroke="#696969"/><circle cx="305.7" cy="465.1" r="5.75" stroke="#006400"/><circle cx="190.7" cy="432.3" r="5.75" stroke="#696969"/><circle cx="191.6" cy="431.1" r="5.75" stroke="#696969"/><circle cx="305.3" cy="310" r="5.75" stroke="#006400"/><circle cx="149.3" cy="313.3" r="5.75" stroke="#696969"/><circle cx="201.3" cy="424" r="5.75" stroke="#696969"/><circle cx="622.4" cy="319.9" r="5.75" stroke="#0000ff"/><circle cx="361.6" cy="264.3" r="5.75" stroke="#00cdcd"/><circle cx="477.7" cy="424.6" r="5.75" stroke="#ff0000"/><circle cx="219" cy="406" r="5.75" stroke="#696969"/><circle cx="149.6" cy="415.9" r="5.75" stroke="#696969"/><circle cx="149.4" cy="420.8" r="5.75" stroke="#0000ff"/><circle cx="362" cy="313.6" r="5.75" stroke="#00cdcd"/><circle cx="198.4" cy="417.3" r="5.75" stroke="#696969"/><circle cx="362.4" cy="271.4" r="5.75" stroke="#00cdcd"/><circle cx="149.2" cy="480.6" r="5.75" stroke="#0000ff"/><circle cx="351.8" cy="428.7" r="5.75" stroke="#006400"/><circle cx="149.5" cy="287.1" r="5.75" stroke="#0000ff"/><circle cx="149.4" cy="283.2" r="5.75" stroke="#696969"/><circle cx="217.4" cy="411.8" r="5.75" stroke="#696969"/><circle cx="305.8" cy="448.8" r="5.75" stroke="#006400"/><circle cx="188.2" cy="481.8" r="5.75" stroke="#696969"/><circle cx="359.6" cy="461.4" r="5.75" stroke="#006400"/><circle cx="444.7" cy="394.8" r="5.75" stroke="#ff0000"/><circle cx="168.5" cy="437.9" r="5.75" stroke="#696969"/><circle cx="445.2" cy="270.9" r="5.75" stroke="#ff0000"/><circle cx="148.8" cy="276.8" r="5.75" stroke="#0000ff"/><circle cx="361.8" cy="398.1" r="5.75" stroke="#00cdcd"/><circle cx="305.6" cy="272.7" r="5.75" stroke="#006400"/><circle cx="362.4" cy="439.6" r="5.75" stroke="#00cdcd"/><circle cx="305.5" cy="470.6" r="5.75" stroke="#006400"/><circle cx="256.9" cy="395.3" r="5.75" stroke="#696969"/><circle cx="444.6" cy="412" r="5.75" stroke="#ff0000"/><circle cx="216.2" cy="332" r="5.75" stroke="#696969"/><circle cx="362" cy="393.6" r="5.75" stroke="#00cdcd"/><circle cx="169.4" cy="455.6" r="5.75" stroke="#696969"/><circle cx="340.4" cy="300.5" r="5.75" stroke="#696969"/><circle cx="149.2" cy="336" r="5.75" stroke="#0000ff"/><circle cx="191.7" cy="440.2" r="5.75" stroke="#696969"/><circle cx="306.1" cy="334.4" r="5.75" stroke="#006400"/><circle cx="184.4" cy="423.6" r="5.75" stroke="#696969"/><circle cx="445.1" cy="295.7" r="5.75" stroke="#ff0000"/><circle cx="189" cy="439.4" r="5.75" stroke="#696969"/><circle cx="306.1" cy="286.2" r="5.75" stroke="#006400"/><circle cx="445.3" cy="296.6" r="5.75" stroke="#ff0000"/><circle cx="362" cy="250.6" r="5.75" stroke="#00cdcd"/><circle cx="149.3" cy="457.2" r="5.75" stroke="#696969"/><circle cx="182.2" cy="459.8" r="5.75" stroke="#696969"/><circle cx="794" cy="429.9" r="5.75" stroke="#ff0000"/><circle cx="362.4" cy="467.4" r="5.75" stroke="#00cdcd"/><circle cx="242.9" cy="450.5" r="5.75" stroke="#ffd700"/><circle cx="444.9" cy="474.1" r="5.75" stroke="#ff0000"/><circle cx="486.2" cy="437.2" r="5.75" stroke="#ff0000"/><circle cx="202.9" cy="333.2" r="5.75" stroke="#696969"/><circle cx="305.9" cy="444.5" r="5.75" stroke="#006400"/><circle cx="305.4" cy="470.2" r="5.75" stroke="#006400"/><circle cx="182.3" cy="269.7" r="5.75" stroke="#696969"/><circle cx="305.4" cy="419" r="5.75" stroke="#006400"/><circle cx="306.2" cy="256.6" r="5.75" stroke="#006400"/><circle cx="149" cy="299" r="5.75" stroke="#696969"/><circle cx="148.8" cy="274.5" r="5.75" stroke="#696969"/><circle cx="362.2" cy="422.4" r="5.75" stroke="#00cdcd"/><circle cx="313.1" cy="420.2" r="5.75" stroke="#696969"/><circle cx="362.3" cy="318.3" r="5.75" stroke="#00cdcd"/><circle cx="362.1" cy="478" r="5.75" stroke="#00cdcd"/><circle cx="362.4" cy="271.8" r="5.75" stroke="#00cdcd"/><circle cx="445.1" cy="474.2" r="5.75" stroke="#ff0000"/><circle cx="305.5" cy="408.9" r="5.75" stroke="#006400"/><circle cx="444.9" cy="412.4" r="5.75" stroke="#ff0000"/><circle cx="178.1" cy="477.4" r="5.75" stroke="#696969"/><circle cx="362.2" cy="401.9" r="5.75" stroke="#00cdcd"/><circle cx="361.6" cy="305.4" r="5.75" stroke="#00cdcd"/><circle cx="362.2" cy="478.3" r="5.75" stroke="#00cdcd"/><circle cx="305.5" cy="295.3" r="5.75" stroke="#006400"/><circle cx="445.3" cy="265.8" r="5.75" stroke="#ff0000"/><circle cx="445" cy="415.9" r="5.75" stroke="#ff0000"/><circle cx="189.6" cy="251.3" r="5.75" stroke="#696969"/><circle cx="361.7" cy="430.5" r="5.75" stroke="#00cdcd"/><circle cx="149.4" cy="421" r="5.75" stroke="#0000ff"/><circle cx="149.3" cy="469.5" r="5.75" stroke="#0000ff"/><circle cx="362.1" cy="292.5" r="5.75" stroke="#00cdcd"/><circle cx="149.3" cy="264.7" r="5.75" stroke="#696969"/><circle cx="178.6" cy="435.6" r="5.75" stroke="#696969"/><circle cx="205.2" cy="465.2" r="5.75" stroke="#696969"/><circle cx="207.7" cy="467.3" r="5.75" stroke="#696969"/><circle cx="445.1" cy="445" r="5.75" stroke="#ff0000"/><circle cx="361.6" cy="284.6" r="5.75" stroke="#00cdcd"/><circle cx="149" cy="326.5" r="5.75" stroke="#696969"/><circle cx="362" cy="462.9" r="5.75" stroke="#00cdcd"/><circle cx="186.3" cy="424.6" r="5.75" stroke="#696969"/><circle cx="218.6" cy="425.1" r="5.75" stroke="#696969"/><circle cx="197.6" cy="442.4" r="5.75" stroke="#696969"/><circle cx="189.2" cy="399.1" r="5.75" stroke="#696969"/><circle cx="149.1" cy="330.2" r="5.75" stroke="#0000ff"/><circle cx="221.1" cy="473.5" r="5.75" stroke="#696969"/><circle cx="306" cy="405" r="5.75" stroke="#006400"/><circle cx="149.4" cy="321.5" r="5.75" stroke="#696969"/><circle cx="202.7" cy="452.6" r="5.75" stroke="#696969"/><circle cx="179.8" cy="427.4" r="5.75" stroke="#696969"/><circle cx="361.9" cy="404.5" r="5.75" stroke="#00cdcd"/><circle cx="149.1" cy="443.7" r="5.75" stroke="#696969"/><circle cx="177.1" cy="458.5" r="5.75" stroke="#696969"/><circle cx="445" cy="478.4" r="5.75" stroke="#ff0000"/><circle cx="444.8" cy="319.2" r="5.75" stroke="#ff0000"/><circle cx="306.1" cy="464.5" r="5.75" stroke="#006400"/><circle cx="181.7" cy="470.8" r="5.75" stroke="#696969"/><circle cx="306.2" cy="437.2" r="5.75" stroke="#006400"/><circle cx="149.1" cy="400.3" r="5.75" stroke="#0000ff"/><circle cx="207.2" cy="437" r="5.75" stroke="#696969"/><circle cx="149.5" cy="405.5" r="5.75" stroke="#696969"/><circle cx="362" cy="334.8" r="5.75" stroke="#00cdcd"/><circle cx="361.6" cy="428.4" r="5.75" stroke="#00cdcd"/><circle cx="193.9" cy="447.1" r="5.75" stroke="#696969"/><circle cx="340.9" cy="256.9" r="5.75" stroke="#006400"/><circle cx="148.9" cy="415.3" r="5.75" stroke="#696969"/><circle cx="201.2" cy="291.5" r="5.75" stroke="#696969"/><circle cx="170.2" cy="290.1" r="5.75" stroke="#696969"/><circle cx="305.5" cy="332" r="5.75" stroke="#006400"/><circle cx="199.3" cy="402.1" r="5.75" stroke="#0000ff"/><circle cx="185.7" cy="443.6" r="5.75" stroke="#696969"/><circle cx="192" cy="396" r="5.75" stroke="#696969"/><circle cx="445" cy="334.8" r="5.75" stroke="#ff0000"/><circle cx="322.8" cy="333.7" r="5.75" stroke="#00cdcd"/><circle cx="306" cy="421.8" r="5.75" stroke="#006400"/><circle cx="400.2" cy="417.8" r="5.75" stroke="#696969"/><circle cx="149" cy="454.3" r="5.75" stroke="#0000ff"/><circle cx="361.5" cy="426.4" r="5.75" stroke="#00cdcd"/><circle cx="174.9" cy="458.6" r="5.75" stroke="#696969"/><circle cx="177" cy="275.6" r="5.75" stroke="#696969"/><circle cx="242.9" cy="307.3" r="5.75" stroke="#ffd700"/><circle cx="238" cy="467.4" r="5.75" stroke="#696969"/><circle cx="149.1" cy="454.8" r="5.75" stroke="#696969"/><circle cx="305.4" cy="456.9" r="5.75" stroke="#006400"/><circle cx="361.8" cy="457.3" r="5.75" stroke="#00cdcd"/><circle cx="293" cy="248" r="5.75" stroke="#696969"/><circle cx="192.1" cy="438.4" r="5.75" stroke="#696969"/><circle cx="305.9" cy="400.9" r="5.75" stroke="#006400"/><circle cx="184.6" cy="432.5" r="5.75" stroke="#696969"/><circle cx="444.7" cy="428.2" r="5.75" stroke="#ff0000"/><circle cx="149.5" cy="257.3" r="5.75" stroke="#696969"/><circle cx="149" cy="294.4" r="5.75" stroke="#0000ff"/><circle cx="361.7" cy="439.6" r="5.75" stroke="#00cdcd"/><circle cx="305.6" cy="316.4" r="5.75" stroke="#006400"/><circle cx="778.3" cy="397.7" r="5.75" stroke="#ff0000"/><circle cx="305.4" cy="399.1" r="5.75" stroke="#006400"/><circle cx="341.4" cy="422.7" r="5.75" stroke="#006400"/><circle cx="444.7" cy="310.9" r="5.75" stroke="#ff0000"/><circle cx="193.2" cy="311.4" r="5.75" stroke="#696969"/><circle cx="362.1" cy="451.6" r="5.75" stroke="#00cdcd"/><circle cx="466.1" cy="439.6" r="5.75" stroke="#ff0000"/><circle cx="386.9" cy="443.2" r="5.75" stroke="#00cdcd"/><circle cx="305.8" cy="478" r="5.75" stroke="#006400"/><circle cx="444.7" cy="326.6" r="5.75" stroke="#ff0000"/><circle cx="195.9" cy="418" r="5.75" stroke="#696969"/><circle cx="207.7" cy="436" r="5.75" stroke="#696969"/><circle cx="201.6" cy="464.6" r="5.75" stroke="#696969"/><circle cx="361.7" cy="309.7" r="5.75" stroke="#00cdcd"/><circle cx="298.1" cy="435.5" r="5.75" stroke="#ffd700"/><circle cx="149.3" cy="472.3" r="5.75" stroke="#696969"/><circle cx="362.4" cy="332.6" r="5.75" stroke="#00cdcd"/><circle cx="444.9" cy="307.3" r="5.75" stroke="#ff0000"/><circle cx="148.8" cy="433" r="5.75" stroke="#0000ff"/><circle cx="198.8" cy="417.2" r="5.75" stroke="#696969"/><circle cx="778.3" cy="258.6" r="5.75" stroke="#ff0000"/><circle cx="149.3" cy="400.3" r="5.75" stroke="#696969"/><circle cx="444.7" cy="448.6" r="5.75" stroke="#ff0000"/><circle cx="170.7" cy="455.9" r="5.75" stroke="#696969"/><circle cx="306.3" cy="256.4" r="5.75" stroke="#006400"/><circle cx="305.9" cy="315.7" r="5.75" stroke="#006400"/><circle cx="445.2" cy="264.7" r="5.75" stroke="#ff0000"/><circle cx="149.4" cy="335.2" r="5.75" stroke="#0000ff"/><circle cx="340.9" cy="270.2" r="5.75" stroke="#006400"/><circle cx="444.6" cy="326.2" r="5.75" stroke="#ff0000"/><circle cx="305.7" cy="263.7" r="5.75" stroke="#006400"/><circle cx="361.9" cy="423.7" r="5.75" stroke="#00cdcd"/><circle cx="400.2" cy="436" r="5.75" stroke="#696969"/><circle cx="172.2" cy="427.9" r="5.75" stroke="#696969"/><circle cx="445.2" cy="436" r="5.75" stroke="#ff0000"/><circle cx="444.9" cy="443.2" r="5.75" stroke="#ff0000"/><circle cx="238.7" cy="296.4" r="5.75" stroke="#696969"/><circle cx="445.1" cy="402.6" r="5.75" stroke="#ff0000"/><circle cx="187.7" cy="437.7" r="5.75" stroke="#696969"/><circle cx="183.9" cy="432.5" r="5.75" stroke="#696969"/><circle cx="445.3" cy="423" r="5.75" stroke="#ff0000"/><circle cx="444.7" cy="457.6" r="5.75" stroke="#ff0000"/><circle cx="173.4" cy="441.3" r="5.75" stroke="#696969"/><circle cx="361.7" cy="394" r="5.75" stroke="#00cdcd"/><circle cx="445.1" cy="299.8" r="5.75" stroke="#ff0000"/><circle cx="445" cy="425.6" r="5.75" stroke="#ff0000"/><circle cx="362" cy="456.4" r="5.75" stroke="#00cdcd"/><circle cx="187.9" cy="425.9" r="5.75" stroke="#696969"/><circle cx="445.3" cy="278.6" r="5.75" stroke="#ff0000"/><circle cx="361.6" cy="328" r="5.75" stroke="#00cdcd"/><circle cx="362" cy="277.9" r="5.75" stroke="#00cdcd"/><circle cx="305.7" cy="309.5" r="5.75" stroke="#006400"/><circle cx="445" cy="437.4" r="5.75" stroke="#ff0000"/><circle cx="306.3" cy="423.6" r="5.75" stroke="#006400"/><circle cx="187.5" cy="421.8" r="5.75" stroke="#696969"/><circle cx="445" cy="393.6" r="5.75" stroke="#ff0000"/><circle cx="148.8" cy="313.4" r="5.75" stroke="#0000ff"/><circle cx="203.3" cy="452.8" r="5.75" stroke="#696969"/><circle cx="445" cy="447.1" r="5.75" stroke="#ff0000"/><circle cx="196.9" cy="325.9" r="5.75" stroke="#696969"/><circle cx="361.5" cy="416" r="5.75" stroke="#00cdcd"/><circle cx="189.1" cy="451.4" r="5.75" stroke="#696969"/><circle cx="361.9" cy="454.8" r="5.75" stroke="#00cdcd"/><circle cx="322.8" cy="471.1" r="5.75" stroke="#00cdcd"/><circle cx="177.5" cy="427.6" r="5.75" stroke="#696969"/><circle cx="149.3" cy="301.4" r="5.75" stroke="#0000ff"/><circle cx="201.7" cy="298.1" r="5.75" stroke="#696969"/><circle cx="201.4" cy="464.3" r="5.75" stroke="#696969"/><circle cx="362" cy="480.6" r="5.75" stroke="#00cdcd"/><circle cx="444.8" cy="453.6" r="5.75" stroke="#ff0000"/><circle cx="306" cy="440.7" r="5.75" stroke="#006400"/><circle cx="445.1" cy="407.9" r="5.75" stroke="#ff0000"/><circle cx="444.7" cy="471.5" r="5.75" stroke="#ff0000"/><circle cx="173.1" cy="325.4" r="5.75" stroke="#696969"/><circle cx="149.3" cy="334" r="5.75" stroke="#696969"/><circle cx="196.9" cy="309.5" r="5.75" stroke="#696969"/><circle cx="198" cy="418.1" r="5.75" stroke="#696969"/><circle cx="306.2" cy="430" r="5.75" stroke="#006400"/><circle cx="445.4" cy="284" r="5.75" stroke="#ff0000"/><circle cx="201.2" cy="418.7" r="5.75" stroke="#696969"/><circle cx="201.1" cy="452.5" r="5.75" stroke="#696969"/><circle cx="215.7" cy="303.6" r="5.75" stroke="#696969"/><circle cx="361.6" cy="298.9" r="5.75" stroke="#00cdcd"/><circle cx="444.7" cy="330.3" r="5.75" stroke="#ff0000"/><circle cx="176.6" cy="422.5" r="5.75" stroke="#696969"/><circle cx="305.9" cy="396.6" r="5.75" stroke="#006400"/><circle cx="227.8" cy="477.9" r="5.75" stroke="#006400"/><circle cx="190.1" cy="415" r="5.75" stroke="#696969"/><circle cx="177.5" cy="269" r="5.75" stroke="#696969"/><circle cx="149.4" cy="405.9" r="5.75" stroke="#0000ff"/><circle cx="487.4" cy="428.7" r="5.75" stroke="#696969"/><circle cx="344.6" cy="292" r="5.75" stroke="#006400"/><circle cx="305.8" cy="334.8" r="5.75" stroke="#006400"/><circle cx="189.8" cy="423.3" r="5.75" stroke="#696969"/><circle cx="217.6" cy="432.1" r="5.75" stroke="#696969"/><circle cx="185.9" cy="416.1" r="5.75" stroke="#696969"/><circle cx="149" cy="443.9" r="5.75" stroke="#696969"/><circle cx="310.7" cy="449.3" r="5.75" stroke="#696969"/><circle cx="188.4" cy="426.1" r="5.75" stroke="#696969"/><circle cx="148.8" cy="250.5" r="5.75" stroke="#696969"/><circle cx="183.5" cy="307" r="5.75" stroke="#0000ff"/><circle cx="311.9" cy="304.1" r="5.75" stroke="#696969"/><circle cx="361.6" cy="445.8" r="5.75" stroke="#00cdcd"/><circle cx="383.3" cy="436" r="5.75" stroke="#00cdcd"/><circle cx="149" cy="469.5" r="5.75" stroke="#696969"/><circle cx="208.4" cy="450" r="5.75" stroke="#696969"/><circle cx="149.2" cy="401.1" r="5.75" stroke="#696969"/><circle cx="275.5" cy="425.6" r="5.75" stroke="#006400"/><circle cx="394.7" cy="307.8" r="5.75" stroke="#00cdcd"/><circle cx="305.6" cy="425.9" r="5.75" stroke="#006400"/><circle cx="389.8" cy="413.5" r="5.75" stroke="#00cdcd"/><circle cx="149.1" cy="448.8" r="5.75" stroke="#0000ff"/><circle cx="417.2" cy="307.8" r="5.75" stroke="#00cdcd"/><circle cx="205.5" cy="458" r="5.75" stroke="#696969"/><circle cx="280.4" cy="290.8" r="5.75" stroke="#696969"/><circle cx="444.8" cy="408.5" r="5.75" stroke="#ff0000"/><circle cx="149.1" cy="431" r="5.75" stroke="#0000ff"/><circle cx="305.5" cy="420.9" r="5.75" stroke="#006400"/><circle cx="149.2" cy="258" r="5.75" stroke="#0000ff"/><circle cx="445.4" cy="455.1" r="5.75" stroke="#ff0000"/><circle cx="149.3" cy="436.2" r="5.75" stroke="#696969"/><circle cx="378.5" cy="423.9" r="5.75" stroke="#00cdcd"/><circle cx="622.4" cy="476.4" r="5.75" stroke="#0000ff"/><circle cx="149.5" cy="270.2" r="5.75" stroke="#696969"/><circle cx="149.2" cy="250" r="5.75" stroke="#696969"/><circle cx="183.7" cy="465.7" r="5.75" stroke="#696969"/><circle cx="474.1" cy="333.7" r="5.75" stroke="#ff0000"/><circle cx="189.6" cy="253.3" r="5.75" stroke="#696969"/><circle cx="305.6" cy="282.7" r="5.75" stroke="#006400"/><circle cx="445" cy="250.6" r="5.75" stroke="#ff0000"/><circle cx="361.9" cy="446.6" r="5.75" stroke="#00cdcd"/><circle cx="197.9" cy="470.4" r="5.75" stroke="#696969"/><circle cx="361.6" cy="424.3" r="5.75" stroke="#00cdcd"/><circle cx="149.3" cy="300" r="5.75" stroke="#696969"/><circle cx="361.7" cy="398.8" r="5.75" stroke="#00cdcd"/><circle cx="181.7" cy="431.4" r="5.75" stroke="#696969"/><circle cx="184.1" cy="478.9" r="5.75" stroke="#696969"/><circle cx="361.7" cy="411.3" r="5.75" stroke="#00cdcd"/><circle cx="179.1" cy="425.7" r="5.75" stroke="#696969"/><circle cx="203.7" cy="458.7" r="5.75" stroke="#696969"/><circle cx="149.5" cy="457.8" r="5.75" stroke="#0000ff"/><circle cx="445" cy="251.8" r="5.75" stroke="#ff0000"/><circle cx="362.4" cy="438.9" r="5.75" stroke="#00cdcd"/><circle cx="305.4" cy="432" r="5.75" stroke="#006400"/><circle cx="445.2" cy="480.6" r="5.75" stroke="#ff0000"/><circle cx="305.5" cy="329.1" r="5.75" stroke="#006400"/><circle cx="305.9" cy="448.4" r="5.75" stroke="#006400"/><circle cx="218.5" cy="454" r="5.75" stroke="#696969"/><circle cx="313.1" cy="411.8" r="5.75" stroke="#696969"/><circle cx="362.2" cy="436.6" r="5.75" stroke="#00cdcd"/><circle cx="149" cy="413.9" r="5.75" stroke="#0000ff"/><circle cx="198.4" cy="446.4" r="5.75" stroke="#696969"/><circle cx="444.9" cy="465.2" r="5.75" stroke="#ff0000"/><circle cx="481.4" cy="315.5" r="5.75" stroke="#ff0000"/><circle cx="445.1" cy="314.9" r="5.75" stroke="#ff0000"/><circle cx="198.1" cy="440.6" r="5.75" stroke="#696969"/><circle cx="149.6" cy="426.7" r="5.75" stroke="#0000ff"/><circle cx="149.1" cy="393.6" r="5.75" stroke="#0000ff"/><circle cx="206.7" cy="449.4" r="5.75" stroke="#696969"/><circle cx="197.2" cy="449.3" r="5.75" stroke="#696969"/><circle cx="204" cy="426.8" r="5.75" stroke="#696969"/><circle cx="195.6" cy="335.1" r="5.75" stroke="#696969"/><circle cx="247.7" cy="452.9" r="5.75" stroke="#696969"/><circle cx="188" cy="417.4" r="5.75" stroke="#696969"/><circle cx="171" cy="435.5" r="5.75" stroke="#696969"/><circle cx="305.9" cy="451.8" r="5.75" stroke="#006400"/><circle cx="149" cy="465.3" r="5.75" stroke="#0000ff"/><circle cx="192" cy="300.5" r="5.75" stroke="#696969"/><circle cx="305.4" cy="413.1" r="5.75" stroke="#006400"/><circle cx="179.2" cy="422.9" r="5.75" stroke="#696969"/><circle cx="444.8" cy="333.4" r="5.75" stroke="#ff0000"/><circle cx="149.1" cy="474.3" r="5.75" stroke="#696969"/><circle cx="149.2" cy="436.3" r="5.75" stroke="#696969"/><circle cx="305.8" cy="251.3" r="5.75" stroke="#006400"/><circle cx="161.3" cy="330.8" r="5.75" stroke="#696969"/><circle cx="445.1" cy="334.8" r="5.75" stroke="#ff0000"/><circle cx="444.6" cy="408.4" r="5.75" stroke="#ff0000"/><circle cx="362.2" cy="444.8" r="5.75" stroke="#00cdcd"/><circle cx="444.7" cy="273" r="5.75" stroke="#ff0000"/><circle cx="305.8" cy="459.5" r="5.75" stroke="#006400"/><circle cx="361.7" cy="408.4" r="5.75" stroke="#00cdcd"/><circle cx="229.5" cy="457.8" r="5.75" stroke="#696969"/><circle cx="242.9" cy="455.3" r="5.75" stroke="#ffd700"/><circle cx="177" cy="394.8" r="5.75" stroke="#696969"/><circle cx="444.9" cy="291.2" r="5.75" stroke="#ff0000"/><circle cx="149.2" cy="480" r="5.75" stroke="#696969"/><circle cx="174.3" cy="431.8" r="5.75" stroke="#696969"/><circle cx="396.6" cy="420.2" r="5.75" stroke="#00cdcd"/><circle cx="362.3" cy="318.7" r="5.75" stroke="#00cdcd"/><circle cx="445.2" cy="417" r="5.75" stroke="#ff0000"/><circle cx="204" cy="469.7" r="5.75" stroke="#696969"/><circle cx="242.9" cy="280.4" r="5.75" stroke="#ffd700"/><circle cx="445.2" cy="453.3" r="5.75" stroke="#ff0000"/><circle cx="206.6" cy="434.2" r="5.75" stroke="#696969"/><circle cx="149.1" cy="279.1" r="5.75" stroke="#0000ff"/><circle cx="195.5" cy="418.6" r="5.75" stroke="#696969"/><circle cx="361.9" cy="441.2" r="5.75" stroke="#00cdcd"/><circle cx="149.2" cy="433.9" r="5.75" stroke="#696969"/><circle cx="196.1" cy="425.7" r="5.75" stroke="#696969"/><circle cx="194.5" cy="454.5" r="5.75" stroke="#696969"/><circle cx="184.2" cy="418.9" r="5.75" stroke="#696969"/><circle cx="149.2" cy="393.6" r="5.75" stroke="#0000ff"/><circle cx="149.1" cy="462.2" r="5.75" stroke="#0000ff"/><circle cx="149" cy="424.4" r="5.75" stroke="#696969"/><circle cx="202.9" cy="425.3" r="5.75" stroke="#696969"/><circle cx="362.4" cy="430.9" r="5.75" stroke="#00cdcd"/><circle cx="361.5" cy="293.8" r="5.75" stroke="#00cdcd"/><circle cx="166.2" cy="411.1" r="5.75" stroke="#696969"/><circle cx="149.6" cy="263" r="5.75" stroke="#696969"/><circle cx="445" cy="303.3" r="5.75" stroke="#ff0000"/><circle cx="149.4" cy="442.9" r="5.75" stroke="#0000ff"/><circle cx="149.5" cy="478.7" r="5.75" stroke="#696969"/><circle cx="362.2" cy="477.3" r="5.75" stroke="#00cdcd"/><circle cx="149" cy="398" r="5.75" stroke="#696969"/><circle cx="149.1" cy="474.1" r="5.75" stroke="#0000ff"/><circle cx="148.9" cy="411.5" r="5.75" stroke="#696969"/><circle cx="149.5" cy="447.9" r="5.75" stroke="#0000ff"/><circle cx="361.8" cy="419.9" r="5.75" stroke="#00cdcd"/><circle cx="362.3" cy="469.9" r="5.75" stroke="#00cdcd"/><circle cx="305.9" cy="453.9" r="5.75" stroke="#006400"/><circle cx="361.9" cy="254.2" r="5.75" stroke="#00cdcd"/><circle cx="361.7" cy="472.6" r="5.75" stroke="#00cdcd"/><circle cx="445.3" cy="421.5" r="5.75" stroke="#ff0000"/><circle cx="242.9" cy="463.8" r="5.75" stroke="#ffd700"/><circle cx="362.2" cy="415" r="5.75" stroke="#00cdcd"/><circle cx="242.9" cy="425.1" r="5.75" stroke="#ffd700"/><circle cx="362.2" cy="329.2" r="5.75" stroke="#00cdcd"/><circle cx="778.3" cy="308.5" r="5.75" stroke="#ff0000"/><circle cx="149.3" cy="438.3" r="5.75" stroke="#0000ff"/><circle cx="305.5" cy="457.9" r="5.75" stroke="#006400"/><circle cx="175.7" cy="433.1" r="5.75" stroke="#696969"/><circle cx="511" cy="278.7" r="5.75" stroke="#ff0000"/><circle cx="361.6" cy="424.9" r="5.75" stroke="#00cdcd"/><circle cx="149" cy="262.7" r="5.75" stroke="#0000ff"/><circle cx="305.6" cy="301.9" r="5.75" stroke="#006400"/><circle cx="193.1" cy="442.4" r="5.75" stroke="#696969"/><circle cx="445.2" cy="469.6" r="5.75" stroke="#ff0000"/><circle cx="190.2" cy="463" r="5.75" stroke="#696969"/><circle cx="778.3" cy="299.8" r="5.75" stroke="#ff0000"/><circle cx="175.8" cy="430.2" r="5.75" stroke="#696969"/><circle cx="203.7" cy="400" r="5.75" stroke="#696969"/><circle cx="362.5" cy="461.5" r="5.75" stroke="#00cdcd"/><circle cx="148.9" cy="402.2" r="5.75" stroke="#0000ff"/><circle cx="340.9" cy="427.5" r="5.75" stroke="#006400"/><circle cx="306.1" cy="436.2" r="5.75" stroke="#006400"/><circle cx="445.1" cy="410" r="5.75" stroke="#ff0000"/><circle cx="341.4" cy="400.4" r="5.75" stroke="#006400"/><circle cx="227.8" cy="400.4" r="5.75" stroke="#006400"/><circle cx="305.8" cy="285.7" r="5.75" stroke="#006400"/><circle cx="445.3" cy="275.9" r="5.75" stroke="#ff0000"/><circle cx="264.2" cy="423.1" r="5.75" stroke="#800000"/><circle cx="178.1" cy="473.4" r="5.75" stroke="#696969"/><circle cx="174.8" cy="462.9" r="5.75" stroke="#696969"/><circle cx="361.5" cy="411.6" r="5.75" stroke="#00cdcd"/><circle cx="148.9" cy="298.1" r="5.75" stroke="#0000ff"/><circle cx="242.9" cy="417.8" r="5.75" stroke="#ffd700"/><circle cx="361.9" cy="316.8" r="5.75" stroke="#00cdcd"/><circle cx="306" cy="269.4" r="5.75" stroke="#006400"/><circle cx="445" cy="252.5" r="5.75" stroke="#ff0000"/><circle cx="149.5" cy="459.2" r="5.75" stroke="#0000ff"/><circle cx="362.3" cy="457.6" r="5.75" stroke="#00cdcd"/><circle cx="173.1" cy="463" r="5.75" stroke="#696969"/><circle cx="305.8" cy="250.6" r="5.75" stroke="#006400"/><circle cx="202.9" cy="428.4" r="5.75" stroke="#696969"/><circle cx="230.8" cy="250.4" r="5.75" stroke="#696969"/><circle cx="361.8" cy="434.6" r="5.75" stroke="#00cdcd"/><circle cx="148.8" cy="329" r="5.75" stroke="#0000ff"/><circle cx="338.5" cy="443.2" r="5.75" stroke="#006400"/><circle cx="190.1" cy="448.9" r="5.75" stroke="#696969"/><circle cx="445.3" cy="401.9" r="5.75" stroke="#ff0000"/><circle cx="149.2" cy="290.6" r="5.75" stroke="#696969"/><circle cx="184.7" cy="460.8" r="5.75" stroke="#696969"/><circle cx="305.8" cy="394" r="5.75" stroke="#006400"/><circle cx="167.6" cy="457.3" r="5.75" stroke="#696969"/><circle cx="362.1" cy="311.6" r="5.75" stroke="#00cdcd"/><circle cx="444.8" cy="397.7" r="5.75" stroke="#ff0000"/><circle cx="149" cy="309.9" r="5.75" stroke="#0000ff"/><circle cx="445" cy="277.4" r="5.75" stroke="#ff0000"/><circle cx="149" cy="315.4" r="5.75" stroke="#0000ff"/><circle cx="444.9" cy="446.3" r="5.75" stroke="#ff0000"/><circle cx="149" cy="426.8" r="5.75" stroke="#0000ff"/><circle cx="149.5" cy="430.9" r="5.75" stroke="#696969"/><circle cx="169.8" cy="430.2" r="5.75" stroke="#696969"/><circle cx="271.2" cy="473" r="5.75" stroke="#696969"/><circle cx="148.8" cy="311.4" r="5.75" stroke="#0000ff"/><circle cx="204.1" cy="425.1" r="5.75" stroke="#0000ff"/><circle cx="444.9" cy="461.7" r="5.75" stroke="#ff0000"/><circle cx="361.9" cy="301.3" r="5.75" stroke="#00cdcd"/><circle cx="219" cy="468" r="5.75" stroke="#696969"/><circle cx="445.3" cy="319.2" r="5.75" stroke="#ff0000"/><circle cx="188.9" cy="473.9" r="5.75" stroke="#696969"/><circle cx="149.3" cy="470.2" r="5.75" stroke="#0000ff"/><circle cx="149.6" cy="453.3" r="5.75" stroke="#696969"/><circle cx="211.9" cy="316.2" r="5.75" stroke="#006400"/><circle cx="305.7" cy="400.1" r="5.75" stroke="#006400"/><circle cx="254.2" cy="330" r="5.75" stroke="#696969"/><circle cx="445.3" cy="304.5" r="5.75" stroke="#ff0000"/><circle cx="305.9" cy="434.5" r="5.75" stroke="#006400"/><circle cx="305.5" cy="278.5" r="5.75" stroke="#006400"/><circle cx="149.6" cy="258" r="5.75" stroke="#696969"/><circle cx="148.9" cy="269.7" r="5.75" stroke="#0000ff"/><circle cx="445" cy="480.6" r="5.75" stroke="#ff0000"/><circle cx="445.3" cy="399.6" r="5.75" stroke="#ff0000"/><circle cx="208" cy="448" r="5.75" stroke="#696969"/><circle cx="201.4" cy="448.6" r="5.75" stroke="#696969"/><circle cx="778.3" cy="412.5" r="5.75" stroke="#ff0000"/><circle cx="149.5" cy="454.6" r="5.75" stroke="#696969"/><circle cx="195.7" cy="458.6" r="5.75" stroke="#696969"/><circle cx="187.6" cy="437.1" r="5.75" stroke="#696969"/><circle cx="306.2" cy="444.9" r="5.75" stroke="#006400"/><circle cx="191.7" cy="471.3" r="5.75" stroke="#696969"/><circle cx="306.2" cy="301.1" r="5.75" stroke="#006400"/><circle cx="362" cy="281.4" r="5.75" stroke="#00cdcd"/><circle cx="149.5" cy="412.8" r="5.75" stroke="#696969"/><circle cx="199.7" cy="424.4" r="5.75" stroke="#696969"/><circle cx="305.3" cy="267.1" r="5.75" stroke="#006400"/><circle cx="183.1" cy="457.2" r="5.75" stroke="#696969"/><circle cx="311.9" cy="265.4" r="5.75" stroke="#696969"/><circle cx="305.4" cy="442.4" r="5.75" stroke="#006400"/><circle cx="340.9" cy="275.1" r="5.75" stroke="#006400"/><circle cx="444.8" cy="282.1" r="5.75" stroke="#ff0000"/><circle cx="361.9" cy="453.1" r="5.75" stroke="#00cdcd"/><circle cx="444.9" cy="257.2" r="5.75" stroke="#ff0000"/><circle cx="228.3" cy="460.2" r="5.75" stroke="#006400"/><circle cx="183.6" cy="426.5" r="5.75" stroke="#696969"/><circle cx="361.9" cy="469.2" r="5.75" stroke="#00cdcd"/><circle cx="192.1" cy="447.1" r="5.75" stroke="#696969"/><circle cx="250.6" cy="260.1" r="5.75" stroke="#006400"/><circle cx="195.8" cy="415.1" r="5.75" stroke="#696969"/><circle cx="361.5" cy="304.2" r="5.75" stroke="#00cdcd"/><circle cx="444.9" cy="262.1" r="5.75" stroke="#ff0000"/><circle cx="306.1" cy="475.8" r="5.75" stroke="#006400"/><circle cx="362" cy="416.6" r="5.75" stroke="#00cdcd"/><circle cx="189.6" cy="446.5" r="5.75" stroke="#696969"/><circle cx="264.2" cy="477.9" r="5.75" stroke="#800000"/><circle cx="167.4" cy="447.5" r="5.75" stroke="#696969"/><circle cx="149.3" cy="286.2" r="5.75" stroke="#696969"/><circle cx="201.7" cy="398.4" r="5.75" stroke="#0000ff"/><circle cx="322.8" cy="401.3" r="5.75" stroke="#00cdcd"/><circle cx="445.3" cy="461.7" r="5.75" stroke="#ff0000"/><circle cx="417.2" cy="282.3" r="5.75" stroke="#00cdcd"/><circle cx="322.3" cy="445.7" r="5.75" stroke="#006400"/><circle cx="362.3" cy="409.2" r="5.75" stroke="#00cdcd"/><circle cx="205.4" cy="470.6" r="5.75" stroke="#696969"/><circle cx="197.4" cy="473.9" r="5.75" stroke="#696969"/><circle cx="248.2" cy="271.4" r="5.75" stroke="#696969"/><circle cx="215.7" cy="275.1" r="5.75" stroke="#696969"/><circle cx="361.9" cy="401.6" r="5.75" stroke="#00cdcd"/><circle cx="172.1" cy="470.7" r="5.75" stroke="#696969"/><circle cx="190.6" cy="442.4" r="5.75" stroke="#696969"/><circle cx="305.9" cy="407.4" r="5.75" stroke="#006400"/><circle cx="189.6" cy="454.1" r="5.75" stroke="#0000ff"/><circle cx="170.2" cy="400.9" r="5.75" stroke="#696969"/><circle cx="293" cy="404" r="5.75" stroke="#696969"/><circle cx="444.9" cy="430.7" r="5.75" stroke="#ff0000"/><circle cx="361.9" cy="266.4" r="5.75" stroke="#00cdcd"/><circle cx="198.2" cy="421.8" r="5.75" stroke="#696969"/><circle cx="421.5" cy="473" r="5.75" stroke="#00cdcd"/><circle cx="361.8" cy="250.6" r="5.75" stroke="#00cdcd"/><circle cx="830.6" cy="416.6" r="5.75" stroke="#ff0000"/><circle cx="149.4" cy="281.2" r="5.75" stroke="#696969"/><circle cx="444.9" cy="456.3" r="5.75" stroke="#ff0000"/><circle cx="193.7" cy="454" r="5.75" stroke="#696969"/><circle cx="306.1" cy="459.1" r="5.75" stroke="#006400"/><circle cx="149.5" cy="270.1" r="5.75" stroke="#696969"/><circle cx="444.8" cy="443.2" r="5.75" stroke="#ff0000"/><circle cx="361.9" cy="474.5" r="5.75" stroke="#00cdcd"/><circle cx="361.6" cy="266.8" r="5.75" stroke="#00cdcd"/><circle cx="444.6" cy="300.4" r="5.75" stroke="#ff0000"/><circle cx="444.8" cy="427.7" r="5.75" stroke="#ff0000"/><circle cx="460.8" cy="332" r="5.75" stroke="#ff0000"/><circle cx="189.2" cy="426.7" r="5.75" stroke="#696969"/><circle cx="178.8" cy="469.2" r="5.75" stroke="#696969"/><circle cx="445.1" cy="398.3" r="5.75" stroke="#ff0000"/><circle cx="220.7" cy="459.7" r="5.75" stroke="#696969"/><circle cx="362.2" cy="450.3" r="5.75" stroke="#00cdcd"/><circle cx="216.2" cy="318.7" r="5.75" stroke="#696969"/><circle cx="242.9" cy="400.9" r="5.75" stroke="#ffd700"/><circle cx="444.6" cy="310.8" r="5.75" stroke="#ff0000"/><circle cx="209.2" cy="402.3" r="5.75" stroke="#696969"/><circle cx="366.3" cy="318.7" r="5.75" stroke="#006400"/><circle cx="198.3" cy="417.4" r="5.75" stroke="#696969"/><circle cx="444.7" cy="402.1" r="5.75" stroke="#ff0000"/><circle cx="149" cy="464.5" r="5.75" stroke="#696969"/><circle cx="173.9" cy="452.1" r="5.75" stroke="#696969"/><circle cx="306.3" cy="396.6" r="5.75" stroke="#006400"/><circle cx="149.1" cy="284.3" r="5.75" stroke="#696969"/><circle cx="444.8" cy="285.7" r="5.75" stroke="#ff0000"/><circle cx="306.2" cy="418.8" r="5.75" stroke="#006400"/><circle cx="361.7" cy="466.5" r="5.75" stroke="#00cdcd"/><circle cx="305.9" cy="260.4" r="5.75" stroke="#006400"/><circle cx="388.1" cy="474.7" r="5.75" stroke="#00cdcd"/><circle cx="173.8" cy="454.5" r="5.75" stroke="#696969"/><circle cx="445.2" cy="434.1" r="5.75" stroke="#ff0000"/><circle cx="362.1" cy="465.4" r="5.75" stroke="#00cdcd"/><circle cx="242.4" cy="253.8" r="5.75" stroke="#ffd700"/><circle cx="361.9" cy="431.8" r="5.75" stroke="#00cdcd"/><circle cx="445" cy="463.5" r="5.75" stroke="#ff0000"/><circle cx="362.1" cy="333.1" r="5.75" stroke="#00cdcd"/><circle cx="180.4" cy="429.4" r="5.75" stroke="#696969"/><circle cx="149.2" cy="319.5" r="5.75" stroke="#0000ff"/><circle cx="445.1" cy="439.5" r="5.75" stroke="#ff0000"/><circle cx="310.7" cy="478.3" r="5.75" stroke="#696969"/><circle cx="361.8" cy="270.3" r="5.75" stroke="#00cdcd"/><circle cx="361.9" cy="396.2" r="5.75" stroke="#00cdcd"/><circle cx="205" cy="433" r="5.75" stroke="#696969"/><circle cx="149.3" cy="433.4" r="5.75" stroke="#696969"/><circle cx="306" cy="305.5" r="5.75" stroke="#006400"/><circle cx="189.3" cy="418.4" r="5.75" stroke="#696969"/><circle cx="444.9" cy="435.8" r="5.75" stroke="#ff0000"/><circle cx="195.7" cy="429.9" r="5.75" stroke="#696969"/><circle cx="197.6" cy="432.1" r="5.75" stroke="#696969"/><circle cx="445.3" cy="422.6" r="5.75" stroke="#ff0000"/><circle cx="149.2" cy="300" r="5.75" stroke="#696969"/><circle cx="306.1" cy="293.9" r="5.75" stroke="#006400"/><circle cx="195.9" cy="479.5" r="5.75" stroke="#696969"/><circle cx="242.9" cy="259.3" r="5.75" stroke="#ffd700"/><circle cx="305.8" cy="325.9" r="5.75" stroke="#006400"/><circle cx="362.4" cy="253.5" r="5.75" stroke="#00cdcd"/><circle cx="197.7" cy="479.7" r="5.75" stroke="#696969"/><circle cx="445.2" cy="464.1" r="5.75" stroke="#ff0000"/><circle cx="189.6" cy="411" r="5.75" stroke="#696969"/><circle cx="362.4" cy="466.7" r="5.75" stroke="#00cdcd"/><circle cx="778.3" cy="448.1" r="5.75" stroke="#ff0000"/><circle cx="149.1" cy="300" r="5.75" stroke="#696969"/><circle cx="361.5" cy="452.4" r="5.75" stroke="#00cdcd"/><circle cx="207.4" cy="446.7" r="5.75" stroke="#696969"/><circle cx="185.3" cy="479.8" r="5.75" stroke="#696969"/><circle cx="444.9" cy="423.3" r="5.75" stroke="#ff0000"/><circle cx="168" cy="454.4" r="5.75" stroke="#696969"/><circle cx="778.3" cy="459" r="5.75" stroke="#ff0000"/><circle cx="306" cy="411.9" r="5.75" stroke="#006400"/><circle cx="149.1" cy="402.2" r="5.75" stroke="#0000ff"/></g>
<g fill="none" stroke="#000"><path d="M149.2 291.4H155.2 M362 291.4H622.9" stroke-width="4.1"/><rect x="155.2" y="226.4" width="206.8" height="130" stroke-width="4.1"/><path d="M305.8 226.4V356.4" stroke-width="8"/></g>
<g fill="none" stroke="#000"><path d="M149.2 436.6H149.2 M362 436.6H622.9" stroke-width="4.1"/><rect x="149.2" y="371.6" width="212.8" height="130" stroke-width="4.1"/><path d="M211.4 371.6V501.6" stroke-width="8"/></g>
<g font-size="23" fill="#000">
<text x="148.6" y="567">Double 1−sided Unadj. Sieve P &lt; 0.001</text>
<text x="148.6" y="600.8">FWER P−value &lt; 0.001; Q−value &lt; 0.001</text>
<text x="237.4" y="643.8">95% Pointwise CI</text>
</g>
<path d="M147 635.5H214.6" stroke="#000" stroke-width="6.2" stroke-dasharray="23.5 22.3" fill="none"/>
<path d="M149.2 739.7L152.2 740.7L155.2 741.7L158.2 742.7L161.2 743.7L164.2 744.7L167.2 745.8L170.2 746.8L173.2 747.9L176.2 748.9L179.2 750.0L182.2 751.1L185.2 752.2L188.2 753.3L191.2 754.4L194.2 755.5L197.2 756.6L200.2 757.7L203.2 758.8L206.2 760.0L209.2 761.1L212.2 762.2L215.2 763.4L218.2 764.5L221.2 765.7L224.2 766.8L227.2 768.0L230.2 769.1L233.2 770.3L236.2 771.5L239.2 772.6L242.2 773.8L245.2 775.0L248.2 776.1L251.2 777.3L254.2 778.4L257.2 779.6L260.2 780.8L263.2 781.9L266.2 783.1L269.2 784.2L272.2 785.4L275.2 786.5L278.2 787.7L281.2 788.8L284.2 789.9L287.2 791.1L290.2 792.2L293.2 793.3L296.2 794.4L299.2 795.5L302.2 796.6L305.2 797.7L308.2 798.8L311.2 799.9L314.2 800.9L317.2 802.0L320.2 803.1L323.2 804.1L326.2 805.2L329.2 806.2L332.2 807.2L335.2 808.3L338.2 809.3L341.2 810.3L344.2 811.3L347.2 812.3L350.2 813.3L353.2 814.3L356.2 815.3L359.2 816.3L362.2 817.3L365.2 818.3L368.2 819.3L371.2 820.3L374.2 821.3L377.2 822.2L380.2 823.2L383.2 824.2L386.2 825.2L389.2 826.1L392.2 827.1L395.2 828.1L398.2 829.0L401.2 830.0L404.2 830.9L407.2 831.9L410.2 832.9L413.2 833.8L416.2 834.8L419.2 835.7L422.2 836.7L425.2 837.7L428.2 838.6L431.2 839.6L434.2 840.5L437.2 841.5L440.2 842.5L443.2 843.4L446.2 844.4L449.2 845.3L452.2 846.3L455.2 847.3L458.2 848.2L461.2 849.2L464.2 850.2L467.2 851.2L470.2 852.1L473.2 853.1L476.2 854.1L479.2 855.1L482.2 856.1L485.2 857.0L488.2 858.0L491.2 859.0L494.2 860.0L497.2 861.0L500.2 862.0L503.2 863.0L506.2 864.0L509.2 865.0L512.2 866.0L515.2 867.0L518.2 868.0L521.2 869.1L524.2 870.1L527.2 871.1L530.2 872.1L533.2 873.2L536.2 874.2L539.2 875.2L542.2 876.3L545.2 877.3L548.2 878.4L551.2 879.4L554.2 880.4L557.2 881.5L560.2 882.6L563.2 883.6L566.2 884.7L569.2 885.8L572.2 886.8L575.2 887.9L578.2 889.0L581.2 890.1L584.2 891.2L587.2 892.3L590.2 893.3L593.2 894.4L596.2 895.5L599.2 896.7L602.2 897.8L605.2 898.9L608.2 900.0L611.2 901.1L614.2 902.3L617.2 903.4L620.2 904.5L623.2 905.7L626.2 906.8L629.2 908.0L632.2 909.1L635.2 910.3L638.2 911.4L641.2 912.6L644.2 913.8L647.2 914.9L650.2 916.1L653.2 917.3L656.2 918.5L659.2 919.7L662.2 920.9L665.2 922.1L668.2 923.3L671.2 924.5L674.2 925.7L677.2 926.9L680.2 928.2L683.2 929.4L686.2 930.6L689.2 931.9L692.2 933.1L695.2 934.4L698.2 935.6L701.2 936.9L704.2 938.2L707.2 939.4L710.2 940.7L713.2 942.0L716.2 943.3L719.2 944.6L722.2 945.9L725.2 947.2L728.2 948.5L731.2 949.8L734.2 951.1L737.2 952.4L740.2 953.7L743.2 955.1L746.2 956.4L749.2 957.8L752.2 959.1L755.2 960.5L758.2 961.8L761.2 963.2L764.2 964.6L767.2 965.9L770.2 967.3L773.2 968.7L776.2 970.1L779.2 971.5L782.2 972.9L785.2 974.3L788.2 975.7L791.2 977.2L794.2 978.6L797.2 980.0L800.2 981.5L803.2 982.9L806.2 984.4L809.2 985.8L812.2 987.3L815.2 988.8L818.2 990.2L821.2 991.7L824.2 993.2L827.2 994.7L830.2 996.2L830.8 996.5" fill="none" stroke="#000" stroke-width="5.5" stroke-dasharray="23.3 22.15"/>
<path d="M149.2 790.5L152.2 791.2L155.2 792.0L158.2 792.7L161.2 793.5L164.2 794.2L167.2 795.0L170.2 795.8L173.2 796.6L176.2 797.4L179.2 798.2L182.2 799.1L185.2 799.9L188.2 800.7L191.2 801.6L194.2 802.5L197.2 803.4L200.2 804.3L203.2 805.2L206.2 806.1L209.2 807.1L212.2 808.0L215.2 809.0L218.2 810.0L221.2 811.0L224.2 812.0L227.2 813.0L230.2 814.1L233.2 815.2L236.2 816.3L239.2 817.4L242.2 818.6L245.2 819.7L248.2 820.9L251.2 822.1L254.2 823.4L257.2 824.6L260.2 825.9L263.2 827.2L266.2 828.6L269.2 829.9L272.2 831.3L275.2 832.7L278.2 834.2L281.2 835.7L284.2 837.2L287.2 838.7L290.2 840.3L293.2 841.9L296.2 843.6L299.2 845.3L302.2 847.0L305.2 848.7L308.2 850.5L311.2 852.3L314.2 854.2L317.2 856.0L320.2 858.0L323.2 859.9L326.2 861.9L329.2 863.9L332.2 866.0L335.2 868.1L338.2 870.2L341.2 872.4L344.2 874.6L347.2 876.9L350.2 879.2L353.2 881.5L356.2 883.9L359.2 886.3L362.2 888.7L365.2 891.2L368.2 893.7L371.2 896.2L374.2 898.8L377.2 901.5L380.2 904.1L383.2 906.9L386.2 909.6L389.2 912.4L392.2 915.2L395.2 918.1L398.2 921.0L401.2 924.0L404.2 927.0L407.2 930.0L410.2 933.1L413.2 936.2L416.2 939.4L419.2 942.6L422.2 945.8L425.2 949.1L428.2 952.5L431.2 955.8L434.2 959.3L437.2 962.7L440.2 966.3L443.2 969.8L446.2 973.4L449.2 977.1L452.2 980.8L455.2 984.5L458.2 988.3L461.2 992.2L464.2 996.1L467.2 1000.0L470.2 1004.0L473.2 1008.1L476.2 1012.2L479.2 1016.3L482.2 1020.5L485.2 1024.8L488.2 1029.1L491.2 1033.4L494.2 1037.8L497.2 1042.3L500.2 1046.8L503.2 1051.4L506.2 1056.1L509.2 1060.8L512.2 1065.5L515.2 1070.3L518.2 1075.2L521.2 1080.1L524.2 1085.1L527.2 1090.2L530.2 1095.3L533.2 1100.4L536.2 1105.7L539.2 1111.0L539.5 1111.5" fill="none" stroke="#000" stroke-width="5.5" stroke-dasharray="23.3 22.15"/>
<path d="M149.2 762.3L152.2 763.2L155.2 764.1L158.2 765.0L161.2 766.0L164.2 766.9L167.2 767.9L170.2 768.8L173.2 769.8L176.2 770.8L179.2 771.8L182.2 772.8L185.2 773.8L188.2 774.8L191.2 775.8L194.2 776.8L197.2 777.9L200.2 778.9L203.2 780.0L206.2 781.0L209.2 782.1L212.2 783.2L215.2 784.3L218.2 785.4L221.2 786.5L224.2 787.6L227.2 788.7L230.2 789.8L233.2 791.0L236.2 792.1L239.2 793.3L242.2 794.5L245.2 795.6L248.2 796.8L251.2 798.0L254.2 799.2L257.2 800.5L260.2 801.7L263.2 802.9L266.2 804.2L269.2 805.4L272.2 806.7L275.2 808.0L278.2 809.3L281.2 810.6L284.2 811.9L287.2 813.2L290.2 814.5L293.2 815.9L296.2 817.2L299.2 818.6L302.2 819.9L305.2 821.3L308.2 822.7L311.2 824.1L314.2 825.5L317.2 827.0L320.2 828.4L323.2 829.9L326.2 831.3L329.2 832.8L332.2 834.3L335.2 835.8L338.2 837.3L341.2 838.8L344.2 840.4L347.2 841.9L350.2 843.5L353.2 845.1L356.2 846.7L359.2 848.3L362.2 849.9L365.2 851.5L368.2 853.1L371.2 854.8L374.2 856.5L377.2 858.1L380.2 859.8L383.2 861.5L386.2 863.3L389.2 865.0L392.2 866.8L395.2 868.5L398.2 870.3L401.2 872.1L404.2 873.9L407.2 875.7L410.2 877.5L413.2 879.4L416.2 881.3L419.2 883.1L422.2 885.0L425.2 887.0L428.2 888.9L431.2 890.8L434.2 892.8L437.2 894.8L440.2 896.7L443.2 898.8L446.2 900.8L449.2 902.8L452.2 904.9L455.2 906.9L458.2 909.0L461.2 911.1L464.2 913.3L467.2 915.4L470.2 917.6L473.2 919.7L476.2 921.9L479.2 924.1L482.2 926.4L485.2 928.6L488.2 930.9L491.2 933.2L494.2 935.5L497.2 937.8L500.2 940.1L503.2 942.5L506.2 944.9L509.2 947.2L512.2 949.7L515.2 952.1L518.2 954.6L521.2 957.0L524.2 959.5L527.2 962.0L530.2 964.6L533.2 967.1L536.2 969.7L539.2 972.3L542.2 974.9L545.2 977.6L548.2 980.2L551.2 982.9L554.2 985.6L557.2 988.3L560.2 991.1L563.2 993.8L566.2 996.6L569.2 999.4L572.2 1002.3L575.2 1005.1L578.2 1008.0L581.2 1010.9L584.2 1013.9L587.2 1016.8L590.2 1019.8L593.2 1022.8L596.2 1025.8L599.2 1028.9L602.2 1032.0L605.2 1035.1L608.2 1038.2L611.2 1041.3L614.2 1044.5L617.2 1047.7L620.2 1050.9L623.2 1054.2L626.2 1057.5L629.2 1060.8L632.2 1064.1L635.2 1067.5L638.2 1070.9L641.2 1074.3L644.2 1077.7L647.2 1081.2L650.2 1084.7L653.2 1088.2L656.2 1091.8L659.2 1095.4L662.2 1099.0L665.2 1102.6L668.2 1106.3L671.2 1110.0L674.2 1113.7L677.2 1117.5L679.9 1120.9" fill="none" stroke="#000" stroke-width="7.6"/>
<path d="M149.2 728.8V820.8 M142.3 728.8h13.8 M142.3 820.8h13.8" stroke="#0000ff" stroke-width="4.9" fill="none"/>
<path d="M173.1 740.4V801.9 M166.2 740.4h13.8 M166.2 801.9h13.8" stroke="#696969" stroke-width="4.9" fill="none"/>
<path d="M305.8 784.4V949.1 M298.9 784.4h13.8 M298.9 949.1h13.8" stroke="#006400" stroke-width="4.9" fill="none"/>
<path d="M362 798.2V914 M355.1 798.2h13.8 M355.1 914h13.8" stroke="#00cdcd" stroke-width="4.9" fill="none"/>
<path d="M445 846.2V1098.2 M438.1 846.2h13.8 M438.1 1098.2h13.8" stroke="#ff0000" stroke-width="4.9" fill="none"/>
<circle cx="149.2" cy="765.8" r="6.1" fill="#0000ff"/>
<circle cx="173.1" cy="767" r="6.1" fill="#696969"/>
<circle cx="305.8" cy="850.5" r="6.1" fill="#006400"/>
<circle cx="362" cy="847.4" r="6.1" fill="#00cdcd"/>
<circle cx="445" cy="946.6" r="6.1" fill="#ff0000"/>
<g fill="none" stroke="#333" stroke-width="1.4">
<rect x="100.6" y="59.7" width="778.8" height="1091.3"/>
<path d="M100.6 520.8H879.4" stroke-width="1.75"/>
<path d="M100.6 1049.2h-6.6 M100.6 982.5h-6.6 M100.6 915.8h-6.6 M100.6 849h-6.6 M100.6 782.3h-6.6 M100.6 715.5h-6.6 M100.6 648.8h-6.6 M149 1151v6.6 M343.9 1151v6.6 M538.7 1151v6.6 M733.5 1151v6.6" stroke-width="2.3"/>
</g>
<g font-size="28.8" fill="#000">
<text transform="translate(64.7,1059.8) scale(1,1.05)" text-anchor="middle">−20</text>
<text transform="translate(64.7,993.1) scale(1,1.05)" text-anchor="middle">0</text>
<text transform="translate(64.7,926.4) scale(1,1.05)" text-anchor="middle">20</text>
<text transform="translate(64.7,859.6) scale(1,1.05)" text-anchor="middle">40</text>
<text transform="translate(64.7,792.9) scale(1,1.05)" text-anchor="middle">60</text>
<text transform="translate(64.7,726.1) scale(1,1.05)" text-anchor="middle">80</text>
<text transform="translate(64.7,659.4) scale(1,1.05)" text-anchor="middle">100</text>
<text transform="translate(149,1186.1) scale(1,1.05)" text-anchor="middle">0</text>
<text transform="translate(343.9,1186.1) scale(1,1.05)" text-anchor="middle">5</text>
<text transform="translate(538.7,1186.1) scale(1,1.05)" text-anchor="middle">10</text>
<text transform="translate(733.5,1186.1) scale(1,1.05)" text-anchor="middle">15</text>
</g>
<g font-size="31.5" fill="#000">
<text x="490" y="1228" text-anchor="middle">Physicochemical−weighted Hamming Distance in NTD</text>
<text transform="translate(26.9,875.5) rotate(-90)" text-anchor="middle">VE (%) against COVID−19</text>
</g>
<g font-size="31.5" fill="#000">
<text transform="translate(85.8,292.3) rotate(-90)" text-anchor="middle">Vaccine</text>
<text transform="translate(85.8,436.6) rotate(-90)" text-anchor="middle">Placebo</text>
</g>
<text x="470.4" y="29.9" font-size="30" font-weight="bold" text-anchor="middle" fill="#000">NTD</text>
<text x="-0.3" y="26.1" font-size="34" font-weight="bold" fill="#231f20">c</text>
</g>
<g transform="translate(981,1311.3)">
<rect x="100.6" y="59.7" width="778.8" height="1091.3" fill="#fff"/>
<g stroke="#ebebeb" fill="none"><path d="M270.5 59.7V1151" stroke-width="1.3"/><path d="M440.2 59.7V1151" stroke-width="1.3"/><path d="M610 59.7V1151" stroke-width="1.3"/><path d="M779.7 59.7V1151" stroke-width="1.3"/><path d="M185.6 59.7V1151" stroke-width="2.45"/><path d="M355.4 59.7V1151" stroke-width="2.45"/><path d="M525.1 59.7V1151" stroke-width="2.45"/><path d="M694.9 59.7V1151" stroke-width="2.45"/><path d="M864.6 59.7V1151" stroke-width="2.45"/><path d="M100.6 146H879.4" stroke-width="2.45"/><path d="M100.6 291.4H879.4" stroke-width="2.45"/><path d="M100.6 436.6H879.4" stroke-width="2.45"/><path d="M100.6 1116H879.4" stroke-width="1.3"/><path d="M100.6 1082.6H879.4" stroke-width="1.3"/><path d="M100.6 1049.2H879.4" stroke-width="2.45"/><path d="M100.6 1015.9H879.4" stroke-width="1.3"/><path d="M100.6 982.5H879.4" stroke-width="2.45"/><path d="M100.6 949.1H879.4" stroke-width="1.3"/><path d="M100.6 915.8H879.4" stroke-width="2.45"/><path d="M100.6 882.4H879.4" stroke-width="1.3"/><path d="M100.6 849H879.4" stroke-width="2.45"/><path d="M100.6 815.6H879.4" stroke-width="1.3"/><path d="M100.6 782.3H879.4" stroke-width="2.45"/><path d="M100.6 748.9H879.4" stroke-width="1.3"/><path d="M100.6 715.5H879.4" stroke-width="2.45"/><path d="M100.6 682.2H879.4" stroke-width="1.3"/><path d="M100.6 648.8H879.4" stroke-width="2.45"/><path d="M100.6 615.4H879.4" stroke-width="1.3"/><path d="M100.6 582.1H879.4" stroke-width="1.3"/></g>
<rect x="148.8" y="97.9" width="291.4" height="96.3" fill="#fff"/><rect x="150.6" y="100.2" width="127.3" height="28.7" fill="#ccc"/><rect x="280.4" y="100.2" width="157.6" height="28.7" fill="#ccc"/><rect x="150.6" y="131.4" width="127.3" height="29" fill="#fafafa"/><rect x="280.4" y="131.4" width="157.6" height="29" fill="#fafafa"/><rect x="150.6" y="163.6" width="127.3" height="29" fill="#fafafa"/><rect x="280.4" y="163.6" width="157.6" height="29" fill="#fafafa"/><g font-size="23" fill="#000" text-anchor="middle"><text x="214.2" y="123.2" font-weight="bold">Treatment</text><text x="359.3" y="123.2" font-weight="bold">No. of Cases</text><text x="214.2" y="154.7">Vaccine</text><text x="359.3" y="154.7">263</text><text x="214.2" y="185.7">Placebo</text><text x="359.3" y="185.7">513</text></g>
<rect x="517.2" y="98" width="29.8" height="34.3" fill="#fff"/><rect x="649.6" y="98" width="29.8" height="34.3" fill="#fff"/><rect x="770.3" y="98" width="29.8" height="34.3" fill="#fff"/><rect x="517.2" y="138.3" width="29.8" height="54.7" fill="#fff"/><rect x="649.6" y="138.3" width="29.8" height="54.7" fill="#fff"/><g fill="none" stroke-width="4.2" stroke-opacity="0.8"><circle cx="532" cy="112.2" r="6.8" stroke="#696969"/><circle cx="532" cy="148.2" r="6.8" stroke="#ffd700"/><circle cx="532" cy="178.1" r="6.8" stroke="#00cdcd"/><circle cx="664.4" cy="112.2" r="6.8" stroke="#0000ff"/><circle cx="664.4" cy="148.2" r="6.8" stroke="#800000"/><circle cx="664.4" cy="178.1" r="6.8" stroke="#ff0000"/><circle cx="785.2" cy="112.2" r="6.8" stroke="#006400"/></g><g font-size="21" fill="#000"><text x="554.3" y="119.6">Reference</text><text x="554.3" y="155.6">Alpha</text><text x="554.3" y="185.5">Gamma</text><text x="686.7" y="119.6">Zeta</text><text x="686.7" y="155.6">Epsilon</text><text x="686.7" y="185.5">Lambda</text><text x="807.5" y="119.6">Mu</text></g>
<g fill="none" stroke-width="4.2" stroke-opacity="0.8"><circle cx="494.8" cy="321.4" r="5.75" stroke="#ff0000"/><circle cx="524.6" cy="440.8" r="5.75" stroke="#00cdcd"/><circle cx="462.2" cy="269.7" r="5.75" stroke="#006400"/><circle cx="345.5" cy="461.4" r="5.75" stroke="#006400"/><circle cx="182.4" cy="439.4" r="5.75" stroke="#0000ff"/><circle cx="181.9" cy="463.6" r="5.75" stroke="#0000ff"/><circle cx="171.6" cy="319.1" r="5.75" stroke="#696969"/><circle cx="149.1" cy="252.1" r="5.75" stroke="#696969"/><circle cx="480.4" cy="404" r="5.75" stroke="#00cdcd"/><circle cx="203.1" cy="433.3" r="5.75" stroke="#696969"/><circle cx="204.3" cy="425.3" r="5.75" stroke="#696969"/><circle cx="480.6" cy="428.7" r="5.75" stroke="#00cdcd"/><circle cx="181.8" cy="297.6" r="5.75" stroke="#0000ff"/><circle cx="217.6" cy="435.1" r="5.75" stroke="#696969"/><circle cx="186.7" cy="444.6" r="5.75" stroke="#696969"/><circle cx="229.8" cy="425.1" r="5.75" stroke="#0000ff"/><circle cx="207.2" cy="275.1" r="5.75" stroke="#696969"/><circle cx="232.2" cy="446.9" r="5.75" stroke="#0000ff"/><circle cx="412.9" cy="323.1" r="5.75" stroke="#006400"/><circle cx="213.2" cy="465.7" r="5.75" stroke="#0000ff"/><circle cx="446.9" cy="401.3" r="5.75" stroke="#00cdcd"/><circle cx="413" cy="250.6" r="5.75" stroke="#006400"/><circle cx="494.6" cy="259.9" r="5.75" stroke="#ff0000"/><circle cx="412.8" cy="408.4" r="5.75" stroke="#006400"/><circle cx="192.2" cy="275.1" r="5.75" stroke="#696969"/><circle cx="412.7" cy="410.2" r="5.75" stroke="#006400"/><circle cx="480.1" cy="468.5" r="5.75" stroke="#00cdcd"/><circle cx="512" cy="431.1" r="5.75" stroke="#696969"/><circle cx="149.4" cy="299.5" r="5.75" stroke="#696969"/><circle cx="458.6" cy="259.3" r="5.75" stroke="#006400"/><circle cx="511.3" cy="439.6" r="5.75" stroke="#ff0000"/><circle cx="181.8" cy="273.3" r="5.75" stroke="#0000ff"/><circle cx="495.3" cy="420.2" r="5.75" stroke="#ff0000"/><circle cx="230.7" cy="448.8" r="5.75" stroke="#696969"/><circle cx="480" cy="443.2" r="5.75" stroke="#00cdcd"/><circle cx="413.1" cy="420.8" r="5.75" stroke="#006400"/><circle cx="148.9" cy="415.1" r="5.75" stroke="#696969"/><circle cx="149.2" cy="400.4" r="5.75" stroke="#696969"/><circle cx="223.9" cy="447.1" r="5.75" stroke="#696969"/><circle cx="149.1" cy="445.6" r="5.75" stroke="#696969"/><circle cx="149" cy="436" r="5.75" stroke="#696969"/><circle cx="149.3" cy="469.6" r="5.75" stroke="#696969"/><circle cx="495" cy="480.6" r="5.75" stroke="#ff0000"/><circle cx="480" cy="325.6" r="5.75" stroke="#00cdcd"/><circle cx="148.9" cy="285" r="5.75" stroke="#696969"/><circle cx="148.9" cy="475.9" r="5.75" stroke="#696969"/><circle cx="412.6" cy="395.6" r="5.75" stroke="#006400"/><circle cx="182.1" cy="450.8" r="5.75" stroke="#0000ff"/><circle cx="165.6" cy="264.2" r="5.75" stroke="#696969"/><circle cx="206.6" cy="437.8" r="5.75" stroke="#696969"/><circle cx="148.9" cy="477.7" r="5.75" stroke="#696969"/><circle cx="428.3" cy="432.3" r="5.75" stroke="#006400"/><circle cx="445.2" cy="399.7" r="5.75" stroke="#006400"/><circle cx="480.1" cy="473.1" r="5.75" stroke="#00cdcd"/><circle cx="220" cy="429.4" r="5.75" stroke="#696969"/><circle cx="413" cy="274.2" r="5.75" stroke="#006400"/><circle cx="413" cy="334.8" r="5.75" stroke="#006400"/><circle cx="413.3" cy="318.8" r="5.75" stroke="#006400"/><circle cx="480.7" cy="282.1" r="5.75" stroke="#00cdcd"/><circle cx="148.7" cy="449.8" r="5.75" stroke="#696969"/><circle cx="220.1" cy="335.1" r="5.75" stroke="#696969"/><circle cx="345.5" cy="450.5" r="5.75" stroke="#ffd700"/><circle cx="480.1" cy="414.8" r="5.75" stroke="#00cdcd"/><circle cx="190.9" cy="455.3" r="5.75" stroke="#696969"/><circle cx="480.4" cy="441.1" r="5.75" stroke="#00cdcd"/><circle cx="210.4" cy="405.7" r="5.75" stroke="#0000ff"/><circle cx="172.3" cy="419.4" r="5.75" stroke="#696969"/><circle cx="444" cy="428.7" r="5.75" stroke="#006400"/><circle cx="274.5" cy="427" r="5.75" stroke="#696969"/><circle cx="480.2" cy="313.4" r="5.75" stroke="#00cdcd"/><circle cx="188" cy="447.8" r="5.75" stroke="#696969"/><circle cx="298.3" cy="473" r="5.75" stroke="#696969"/><circle cx="149.1" cy="435.5" r="5.75" stroke="#696969"/><circle cx="182.6" cy="445.8" r="5.75" stroke="#0000ff"/><circle cx="149.3" cy="302.6" r="5.75" stroke="#696969"/><circle cx="480.6" cy="419.8" r="5.75" stroke="#00cdcd"/><circle cx="495.1" cy="402" r="5.75" stroke="#ff0000"/><circle cx="480.6" cy="406.2" r="5.75" stroke="#00cdcd"/><circle cx="205.9" cy="459.3" r="5.75" stroke="#0000ff"/><circle cx="494.8" cy="302.6" r="5.75" stroke="#ff0000"/><circle cx="182.2" cy="257.5" r="5.75" stroke="#0000ff"/><circle cx="204.2" cy="438.6" r="5.75" stroke="#696969"/><circle cx="204.1" cy="416.3" r="5.75" stroke="#696969"/><circle cx="413" cy="314.5" r="5.75" stroke="#006400"/><circle cx="148.9" cy="298.2" r="5.75" stroke="#696969"/><circle cx="413.2" cy="444.4" r="5.75" stroke="#006400"/><circle cx="189.8" cy="435" r="5.75" stroke="#696969"/><circle cx="188.6" cy="426.8" r="5.75" stroke="#0000ff"/><circle cx="149.4" cy="283.1" r="5.75" stroke="#696969"/><circle cx="352.5" cy="303.4" r="5.75" stroke="#696969"/><circle cx="149.3" cy="451.7" r="5.75" stroke="#696969"/><circle cx="480.7" cy="438.6" r="5.75" stroke="#00cdcd"/><circle cx="479.9" cy="400.1" r="5.75" stroke="#00cdcd"/><circle cx="495" cy="419.2" r="5.75" stroke="#ff0000"/><circle cx="202.8" cy="426" r="5.75" stroke="#696969"/><circle cx="331" cy="315.8" r="5.75" stroke="#006400"/><circle cx="412.7" cy="414.1" r="5.75" stroke="#006400"/><circle cx="190.7" cy="452.9" r="5.75" stroke="#696969"/><circle cx="171.8" cy="417.8" r="5.75" stroke="#696969"/><circle cx="207.2" cy="294.9" r="5.75" stroke="#696969"/><circle cx="195.5" cy="431.4" r="5.75" stroke="#696969"/><circle cx="182.3" cy="261.9" r="5.75" stroke="#0000ff"/><circle cx="504.7" cy="413.5" r="5.75" stroke="#00cdcd"/><circle cx="494.6" cy="303.3" r="5.75" stroke="#ff0000"/><circle cx="480.7" cy="402" r="5.75" stroke="#00cdcd"/><circle cx="166.3" cy="291.5" r="5.75" stroke="#696969"/><circle cx="345.5" cy="253.8" r="5.75" stroke="#ffd700"/><circle cx="494.7" cy="432.6" r="5.75" stroke="#ff0000"/><circle cx="223.1" cy="444.7" r="5.75" stroke="#0000ff"/><circle cx="412.9" cy="332.8" r="5.75" stroke="#006400"/><circle cx="266.1" cy="399.7" r="5.75" stroke="#0000ff"/><circle cx="480.7" cy="432.8" r="5.75" stroke="#00cdcd"/><circle cx="224.7" cy="458.9" r="5.75" stroke="#696969"/><circle cx="480.5" cy="409.2" r="5.75" stroke="#00cdcd"/><circle cx="413" cy="280.2" r="5.75" stroke="#006400"/><circle cx="413.3" cy="291.2" r="5.75" stroke="#006400"/><circle cx="495.3" cy="323.8" r="5.75" stroke="#ff0000"/><circle cx="345.5" cy="416.6" r="5.75" stroke="#ffd700"/><circle cx="495.3" cy="440.3" r="5.75" stroke="#ff0000"/><circle cx="195.3" cy="420.5" r="5.75" stroke="#696969"/><circle cx="495.2" cy="260.9" r="5.75" stroke="#ff0000"/><circle cx="149.4" cy="274.5" r="5.75" stroke="#696969"/><circle cx="480.9" cy="421" r="5.75" stroke="#00cdcd"/><circle cx="214.6" cy="444.8" r="5.75" stroke="#696969"/><circle cx="181.8" cy="401.6" r="5.75" stroke="#0000ff"/><circle cx="200.2" cy="462.5" r="5.75" stroke="#696969"/><circle cx="494.8" cy="412.3" r="5.75" stroke="#ff0000"/><circle cx="494.8" cy="453.2" r="5.75" stroke="#ff0000"/><circle cx="413.4" cy="286.8" r="5.75" stroke="#006400"/><circle cx="494.8" cy="408" r="5.75" stroke="#ff0000"/><circle cx="212.8" cy="449.8" r="5.75" stroke="#696969"/><circle cx="528.9" cy="282.8" r="5.75" stroke="#00cdcd"/><circle cx="204.8" cy="466.5" r="5.75" stroke="#696969"/><circle cx="207.2" cy="253.8" r="5.75" stroke="#696969"/><circle cx="221.5" cy="430.8" r="5.75" stroke="#696969"/><circle cx="802.3" cy="412.2" r="5.75" stroke="#ff0000"/><circle cx="447.7" cy="438.4" r="5.75" stroke="#006400"/><circle cx="149.5" cy="467.4" r="5.75" stroke="#696969"/><circle cx="182.4" cy="472" r="5.75" stroke="#0000ff"/><circle cx="205.5" cy="468.8" r="5.75" stroke="#696969"/><circle cx="181.8" cy="421.6" r="5.75" stroke="#0000ff"/><circle cx="480.8" cy="292.1" r="5.75" stroke="#00cdcd"/><circle cx="444" cy="256.9" r="5.75" stroke="#006400"/><circle cx="191" cy="398.9" r="5.75" stroke="#696969"/><circle cx="183.7" cy="250.9" r="5.75" stroke="#696969"/><circle cx="148.7" cy="297.3" r="5.75" stroke="#696969"/><circle cx="412.5" cy="471" r="5.75" stroke="#006400"/><circle cx="182.5" cy="398.6" r="5.75" stroke="#0000ff"/><circle cx="191" cy="311.4" r="5.75" stroke="#696969"/><circle cx="480.1" cy="288.6" r="5.75" stroke="#00cdcd"/><circle cx="412.9" cy="428.2" r="5.75" stroke="#006400"/><circle cx="148.9" cy="410.7" r="5.75" stroke="#696969"/><circle cx="495" cy="290" r="5.75" stroke="#ff0000"/><circle cx="495" cy="284.2" r="5.75" stroke="#ff0000"/><circle cx="181.9" cy="315.8" r="5.75" stroke="#0000ff"/><circle cx="210.6" cy="417" r="5.75" stroke="#696969"/><circle cx="413.2" cy="454.6" r="5.75" stroke="#006400"/><circle cx="203" cy="400.9" r="5.75" stroke="#696969"/><circle cx="413.4" cy="317.9" r="5.75" stroke="#006400"/><circle cx="191.7" cy="455.5" r="5.75" stroke="#696969"/><circle cx="495.1" cy="440.8" r="5.75" stroke="#ff0000"/><circle cx="345.5" cy="399.7" r="5.75" stroke="#006400"/><circle cx="480" cy="410.7" r="5.75" stroke="#00cdcd"/><circle cx="148.8" cy="402.5" r="5.75" stroke="#696969"/><circle cx="182.1" cy="327.6" r="5.75" stroke="#0000ff"/><circle cx="412.8" cy="403.9" r="5.75" stroke="#006400"/><circle cx="216.5" cy="399.8" r="5.75" stroke="#696969"/><circle cx="413.2" cy="473.8" r="5.75" stroke="#006400"/><circle cx="531.4" cy="437.2" r="5.75" stroke="#ff0000"/><circle cx="495" cy="250.6" r="5.75" stroke="#ff0000"/><circle cx="495.4" cy="309.2" r="5.75" stroke="#ff0000"/><circle cx="412.9" cy="467.9" r="5.75" stroke="#006400"/><circle cx="188.7" cy="447.7" r="5.75" stroke="#696969"/><circle cx="494.6" cy="437.5" r="5.75" stroke="#ff0000"/><circle cx="413.1" cy="458.5" r="5.75" stroke="#006400"/><circle cx="214.8" cy="480.1" r="5.75" stroke="#696969"/><circle cx="235.8" cy="271.4" r="5.75" stroke="#696969"/><circle cx="208.3" cy="458.4" r="5.75" stroke="#0000ff"/><circle cx="182.4" cy="329.9" r="5.75" stroke="#0000ff"/><circle cx="149.2" cy="310.6" r="5.75" stroke="#696969"/><circle cx="149" cy="283.3" r="5.75" stroke="#696969"/><circle cx="208.3" cy="409.1" r="5.75" stroke="#696969"/><circle cx="182.1" cy="268.9" r="5.75" stroke="#0000ff"/><circle cx="149.4" cy="273.6" r="5.75" stroke="#696969"/><circle cx="462.9" cy="319.1" r="5.75" stroke="#006400"/><circle cx="189.1" cy="306.6" r="5.75" stroke="#0000ff"/><circle cx="480.3" cy="447.1" r="5.75" stroke="#00cdcd"/><circle cx="274.5" cy="399.7" r="5.75" stroke="#696969"/><circle cx="221.7" cy="462.9" r="5.75" stroke="#0000ff"/><circle cx="480.1" cy="395.6" r="5.75" stroke="#00cdcd"/><circle cx="224.2" cy="444.7" r="5.75" stroke="#696969"/><circle cx="495" cy="393.6" r="5.75" stroke="#ff0000"/><circle cx="345.5" cy="280.4" r="5.75" stroke="#ffd700"/><circle cx="413" cy="394" r="5.75" stroke="#006400"/><circle cx="277" cy="396" r="5.75" stroke="#696969"/><circle cx="148.9" cy="332.7" r="5.75" stroke="#696969"/><circle cx="441.6" cy="443.2" r="5.75" stroke="#006400"/><circle cx="423.5" cy="396" r="5.75" stroke="#006400"/><circle cx="495.1" cy="293.2" r="5.75" stroke="#ff0000"/><circle cx="413" cy="426.3" r="5.75" stroke="#006400"/><circle cx="412.9" cy="408.3" r="5.75" stroke="#006400"/><circle cx="413.1" cy="297.4" r="5.75" stroke="#006400"/><circle cx="212.8" cy="462.5" r="5.75" stroke="#0000ff"/><circle cx="256.4" cy="469.1" r="5.75" stroke="#696969"/><circle cx="149.5" cy="263.6" r="5.75" stroke="#696969"/><circle cx="480.1" cy="412.4" r="5.75" stroke="#00cdcd"/><circle cx="352.5" cy="411.8" r="5.75" stroke="#696969"/><circle cx="211.2" cy="462.3" r="5.75" stroke="#696969"/><circle cx="495.3" cy="453.2" r="5.75" stroke="#ff0000"/><circle cx="218.8" cy="474.1" r="5.75" stroke="#696969"/><circle cx="531.4" cy="251.3" r="5.75" stroke="#ff0000"/><circle cx="412.8" cy="292.9" r="5.75" stroke="#006400"/><circle cx="480.2" cy="251" r="5.75" stroke="#00cdcd"/><circle cx="413.2" cy="405.9" r="5.75" stroke="#006400"/><circle cx="412.9" cy="416.8" r="5.75" stroke="#006400"/><circle cx="149.1" cy="400.4" r="5.75" stroke="#696969"/><circle cx="148.8" cy="331.1" r="5.75" stroke="#696969"/><circle cx="206" cy="423" r="5.75" stroke="#696969"/><circle cx="495.3" cy="450.9" r="5.75" stroke="#ff0000"/><circle cx="222.6" cy="412.8" r="5.75" stroke="#696969"/><circle cx="495" cy="438.2" r="5.75" stroke="#ff0000"/><circle cx="345.5" cy="425.1" r="5.75" stroke="#ffd700"/><circle cx="148.8" cy="409.5" r="5.75" stroke="#696969"/><circle cx="149.4" cy="318.6" r="5.75" stroke="#696969"/><circle cx="149.1" cy="428.2" r="5.75" stroke="#696969"/><circle cx="148.8" cy="421.5" r="5.75" stroke="#696969"/><circle cx="149.3" cy="326.4" r="5.75" stroke="#696969"/><circle cx="181.8" cy="418.9" r="5.75" stroke="#0000ff"/><circle cx="207.9" cy="405.1" r="5.75" stroke="#696969"/><circle cx="494.9" cy="275.8" r="5.75" stroke="#ff0000"/><circle cx="480.8" cy="397.6" r="5.75" stroke="#00cdcd"/><circle cx="480.4" cy="334.8" r="5.75" stroke="#00cdcd"/><circle cx="480.7" cy="472.5" r="5.75" stroke="#00cdcd"/><circle cx="227.3" cy="436.5" r="5.75" stroke="#0000ff"/><circle cx="203.5" cy="411.2" r="5.75" stroke="#696969"/><circle cx="182.1" cy="393.6" r="5.75" stroke="#0000ff"/><circle cx="182" cy="406.8" r="5.75" stroke="#0000ff"/><circle cx="196.7" cy="464.4" r="5.75" stroke="#696969"/><circle cx="495.3" cy="403.5" r="5.75" stroke="#ff0000"/><circle cx="495.3" cy="310" r="5.75" stroke="#ff0000"/><circle cx="480.2" cy="333" r="5.75" stroke="#00cdcd"/><circle cx="510.1" cy="332" r="5.75" stroke="#ff0000"/><circle cx="210.8" cy="440.5" r="5.75" stroke="#0000ff"/><circle cx="220.8" cy="454.9" r="5.75" stroke="#696969"/><circle cx="495.4" cy="279.6" r="5.75" stroke="#ff0000"/><circle cx="197.9" cy="422" r="5.75" stroke="#0000ff"/><circle cx="181.6" cy="473" r="5.75" stroke="#0000ff"/><circle cx="480.2" cy="297" r="5.75" stroke="#00cdcd"/><circle cx="176.3" cy="474.4" r="5.75" stroke="#696969"/><circle cx="480.4" cy="393.6" r="5.75" stroke="#00cdcd"/><circle cx="412.7" cy="253.5" r="5.75" stroke="#006400"/><circle cx="222.1" cy="463.3" r="5.75" stroke="#696969"/><circle cx="495.1" cy="419.4" r="5.75" stroke="#ff0000"/><circle cx="182.4" cy="269.2" r="5.75" stroke="#0000ff"/><circle cx="524.1" cy="425.1" r="5.75" stroke="#ff0000"/><circle cx="453.7" cy="255.7" r="5.75" stroke="#006400"/><circle cx="384.7" cy="256.2" r="5.75" stroke="#006400"/><circle cx="149.3" cy="398.7" r="5.75" stroke="#696969"/><circle cx="149.3" cy="267.1" r="5.75" stroke="#696969"/><circle cx="480.4" cy="250.6" r="5.75" stroke="#00cdcd"/><circle cx="444" cy="423.9" r="5.75" stroke="#006400"/><circle cx="182.4" cy="462" r="5.75" stroke="#0000ff"/><circle cx="413" cy="394.2" r="5.75" stroke="#006400"/><circle cx="412.5" cy="426.5" r="5.75" stroke="#006400"/><circle cx="345.5" cy="404.5" r="5.75" stroke="#ffd700"/><circle cx="830.9" cy="416.6" r="5.75" stroke="#ff0000"/><circle cx="516.8" cy="296.9" r="5.75" stroke="#00cdcd"/><circle cx="169.8" cy="435.9" r="5.75" stroke="#696969"/><circle cx="495.3" cy="253.5" r="5.75" stroke="#ff0000"/><circle cx="182" cy="314.2" r="5.75" stroke="#0000ff"/><circle cx="218.8" cy="456.7" r="5.75" stroke="#696969"/><circle cx="480.8" cy="324.9" r="5.75" stroke="#00cdcd"/><circle cx="200.7" cy="446.2" r="5.75" stroke="#696969"/><circle cx="219.5" cy="414.2" r="5.75" stroke="#696969"/><circle cx="802.3" cy="299.8" r="5.75" stroke="#ff0000"/><circle cx="495.2" cy="255" r="5.75" stroke="#ff0000"/><circle cx="494.9" cy="314.9" r="5.75" stroke="#ff0000"/><circle cx="480.2" cy="459.9" r="5.75" stroke="#00cdcd"/><circle cx="480.8" cy="468.8" r="5.75" stroke="#00cdcd"/><circle cx="182.1" cy="334.8" r="5.75" stroke="#0000ff"/><circle cx="562.1" cy="473" r="5.75" stroke="#00cdcd"/><circle cx="495.1" cy="471" r="5.75" stroke="#ff0000"/><circle cx="625.8" cy="319.9" r="5.75" stroke="#0000ff"/><circle cx="480.9" cy="425.1" r="5.75" stroke="#00cdcd"/><circle cx="412.9" cy="265" r="5.75" stroke="#006400"/><circle cx="504" cy="443.2" r="5.75" stroke="#00cdcd"/><circle cx="480.4" cy="479.3" r="5.75" stroke="#00cdcd"/><circle cx="494.9" cy="400.1" r="5.75" stroke="#ff0000"/><circle cx="495" cy="425.6" r="5.75" stroke="#ff0000"/><circle cx="315" cy="296.4" r="5.75" stroke="#696969"/><circle cx="480.1" cy="317.8" r="5.75" stroke="#00cdcd"/><circle cx="182.6" cy="419.8" r="5.75" stroke="#0000ff"/><circle cx="480.7" cy="267.6" r="5.75" stroke="#00cdcd"/><circle cx="256.4" cy="423.9" r="5.75" stroke="#696969"/><circle cx="199.9" cy="444.1" r="5.75" stroke="#696969"/><circle cx="149.4" cy="471.6" r="5.75" stroke="#696969"/><circle cx="149.1" cy="296.9" r="5.75" stroke="#696969"/><circle cx="412.5" cy="262.8" r="5.75" stroke="#006400"/><circle cx="446.9" cy="333.7" r="5.75" stroke="#00cdcd"/><circle cx="148.9" cy="461.5" r="5.75" stroke="#696969"/><circle cx="162.4" cy="398.8" r="5.75" stroke="#696969"/><circle cx="149.3" cy="446.7" r="5.75" stroke="#696969"/><circle cx="526.5" cy="315.5" r="5.75" stroke="#ff0000"/><circle cx="480.1" cy="456.6" r="5.75" stroke="#00cdcd"/><circle cx="292.7" cy="404" r="5.75" stroke="#696969"/><circle cx="494.8" cy="394.6" r="5.75" stroke="#ff0000"/><circle cx="149.4" cy="312.8" r="5.75" stroke="#696969"/><circle cx="182.1" cy="443.2" r="5.75" stroke="#0000ff"/><circle cx="480.2" cy="450.7" r="5.75" stroke="#00cdcd"/><circle cx="191" cy="335.1" r="5.75" stroke="#696969"/><circle cx="148.8" cy="449.8" r="5.75" stroke="#696969"/><circle cx="480.3" cy="472.1" r="5.75" stroke="#00cdcd"/><circle cx="413.4" cy="450.4" r="5.75" stroke="#006400"/><circle cx="226.1" cy="401.3" r="5.75" stroke="#696969"/><circle cx="412.5" cy="476.2" r="5.75" stroke="#006400"/><circle cx="214.4" cy="467.7" r="5.75" stroke="#696969"/><circle cx="149.2" cy="291.4" r="5.75" stroke="#696969"/><circle cx="149" cy="432.8" r="5.75" stroke="#696969"/><circle cx="412.9" cy="427.8" r="5.75" stroke="#006400"/><circle cx="412.8" cy="436.2" r="5.75" stroke="#006400"/><circle cx="224.8" cy="440" r="5.75" stroke="#696969"/><circle cx="149.2" cy="442.2" r="5.75" stroke="#696969"/><circle cx="480.3" cy="409.4" r="5.75" stroke="#00cdcd"/><circle cx="494.9" cy="459.2" r="5.75" stroke="#ff0000"/><circle cx="211.4" cy="419.6" r="5.75" stroke="#696969"/><circle cx="494.6" cy="410.3" r="5.75" stroke="#ff0000"/><circle cx="495.3" cy="478.8" r="5.75" stroke="#ff0000"/><circle cx="200.2" cy="325.4" r="5.75" stroke="#696969"/><circle cx="148.7" cy="322.2" r="5.75" stroke="#696969"/><circle cx="243.8" cy="311.4" r="5.75" stroke="#696969"/><circle cx="182.1" cy="453.1" r="5.75" stroke="#0000ff"/><circle cx="166.3" cy="260.5" r="5.75" stroke="#696969"/><circle cx="480.8" cy="302.8" r="5.75" stroke="#00cdcd"/><circle cx="200.5" cy="451.2" r="5.75" stroke="#696969"/><circle cx="148.9" cy="461.9" r="5.75" stroke="#696969"/><circle cx="192.9" cy="437.6" r="5.75" stroke="#696969"/><circle cx="217" cy="454.3" r="5.75" stroke="#696969"/><circle cx="413" cy="448.7" r="5.75" stroke="#006400"/><circle cx="413.4" cy="304.6" r="5.75" stroke="#006400"/><circle cx="495.2" cy="262.5" r="5.75" stroke="#ff0000"/><circle cx="149.3" cy="466" r="5.75" stroke="#696969"/><circle cx="182.3" cy="475.4" r="5.75" stroke="#0000ff"/><circle cx="221.9" cy="414.7" r="5.75" stroke="#696969"/><circle cx="214.7" cy="395.3" r="5.75" stroke="#696969"/><circle cx="166.3" cy="278.7" r="5.75" stroke="#696969"/><circle cx="207.9" cy="456" r="5.75" stroke="#696969"/><circle cx="148.7" cy="395.2" r="5.75" stroke="#696969"/><circle cx="494.8" cy="291.5" r="5.75" stroke="#ff0000"/><circle cx="181.8" cy="281.5" r="5.75" stroke="#0000ff"/><circle cx="221.1" cy="422" r="5.75" stroke="#696969"/><circle cx="182.4" cy="299.7" r="5.75" stroke="#0000ff"/><circle cx="173.3" cy="413.8" r="5.75" stroke="#696969"/><circle cx="352.5" cy="449.8" r="5.75" stroke="#696969"/><circle cx="218.9" cy="452.9" r="5.75" stroke="#0000ff"/><circle cx="353.2" cy="421.4" r="5.75" stroke="#696969"/><circle cx="182" cy="413" r="5.75" stroke="#0000ff"/><circle cx="517.3" cy="281.6" r="5.75" stroke="#00cdcd"/><circle cx="480.7" cy="475.6" r="5.75" stroke="#00cdcd"/><circle cx="172.4" cy="412.9" r="5.75" stroke="#696969"/><circle cx="149.2" cy="252.8" r="5.75" stroke="#696969"/><circle cx="343.1" cy="290.8" r="5.75" stroke="#696969"/><circle cx="292.7" cy="248" r="5.75" stroke="#696969"/><circle cx="459.8" cy="462.6" r="5.75" stroke="#006400"/><circle cx="223" cy="429.8" r="5.75" stroke="#696969"/><circle cx="412.6" cy="470.4" r="5.75" stroke="#006400"/><circle cx="215" cy="462.1" r="5.75" stroke="#0000ff"/><circle cx="519.3" cy="278.7" r="5.75" stroke="#ff0000"/><circle cx="480.6" cy="463.3" r="5.75" stroke="#00cdcd"/><circle cx="220.4" cy="464.1" r="5.75" stroke="#696969"/><circle cx="494.9" cy="429.4" r="5.75" stroke="#ff0000"/><circle cx="149.3" cy="282.3" r="5.75" stroke="#696969"/><circle cx="784.9" cy="397.2" r="5.75" stroke="#ff0000"/><circle cx="480" cy="260.1" r="5.75" stroke="#00cdcd"/><circle cx="182.2" cy="289.8" r="5.75" stroke="#0000ff"/><circle cx="495.1" cy="394.9" r="5.75" stroke="#ff0000"/><circle cx="148.8" cy="415.4" r="5.75" stroke="#696969"/><circle cx="480.1" cy="261.1" r="5.75" stroke="#00cdcd"/><circle cx="182.2" cy="456.1" r="5.75" stroke="#0000ff"/><circle cx="495.1" cy="478.1" r="5.75" stroke="#ff0000"/><circle cx="212.7" cy="414.2" r="5.75" stroke="#696969"/><circle cx="412.8" cy="410.4" r="5.75" stroke="#006400"/><circle cx="494.8" cy="459.2" r="5.75" stroke="#ff0000"/><circle cx="148.8" cy="405.9" r="5.75" stroke="#696969"/><circle cx="480.8" cy="272" r="5.75" stroke="#00cdcd"/><circle cx="149.1" cy="281.3" r="5.75" stroke="#696969"/><circle cx="521.7" cy="474.7" r="5.75" stroke="#00cdcd"/><circle cx="221" cy="461.3" r="5.75" stroke="#0000ff"/><circle cx="495.1" cy="459.2" r="5.75" stroke="#ff0000"/><circle cx="494.9" cy="334.5" r="5.75" stroke="#ff0000"/><circle cx="352.5" cy="477.6" r="5.75" stroke="#696969"/><circle cx="625.8" cy="476.4" r="5.75" stroke="#0000ff"/><circle cx="149.2" cy="263.8" r="5.75" stroke="#696969"/><circle cx="149.1" cy="250.6" r="5.75" stroke="#696969"/><circle cx="171" cy="470" r="5.75" stroke="#696969"/><circle cx="225.3" cy="472.6" r="5.75" stroke="#696969"/><circle cx="494.7" cy="282.5" r="5.75" stroke="#ff0000"/><circle cx="159.5" cy="330.8" r="5.75" stroke="#696969"/><circle cx="218.9" cy="326.4" r="5.75" stroke="#0000ff"/><circle cx="495" cy="467.6" r="5.75" stroke="#ff0000"/><circle cx="480.5" cy="267.4" r="5.75" stroke="#00cdcd"/><circle cx="798.7" cy="429.4" r="5.75" stroke="#ff0000"/><circle cx="480.6" cy="442.3" r="5.75" stroke="#00cdcd"/><circle cx="218.2" cy="421.2" r="5.75" stroke="#696969"/><circle cx="209.7" cy="474.1" r="5.75" stroke="#696969"/><circle cx="201.8" cy="437.9" r="5.75" stroke="#696969"/><circle cx="479.9" cy="418.4" r="5.75" stroke="#00cdcd"/><circle cx="149.4" cy="320.7" r="5.75" stroke="#696969"/><circle cx="237" cy="454.1" r="5.75" stroke="#696969"/><circle cx="209.6" cy="450.4" r="5.75" stroke="#696969"/><circle cx="177.1" cy="402.7" r="5.75" stroke="#696969"/><circle cx="205.6" cy="467.2" r="5.75" stroke="#696969"/><circle cx="413" cy="432" r="5.75" stroke="#006400"/><circle cx="480.5" cy="405.1" r="5.75" stroke="#00cdcd"/><circle cx="412.9" cy="437.1" r="5.75" stroke="#006400"/><circle cx="412.6" cy="436.8" r="5.75" stroke="#006400"/><circle cx="149.1" cy="419.8" r="5.75" stroke="#696969"/><circle cx="480.3" cy="273.2" r="5.75" stroke="#00cdcd"/><circle cx="494.9" cy="462.8" r="5.75" stroke="#ff0000"/><circle cx="182.2" cy="429.4" r="5.75" stroke="#0000ff"/><circle cx="229.9" cy="450.4" r="5.75" stroke="#696969"/><circle cx="148.8" cy="316.4" r="5.75" stroke="#696969"/><circle cx="479.9" cy="466.8" r="5.75" stroke="#00cdcd"/><circle cx="446.5" cy="292" r="5.75" stroke="#006400"/><circle cx="216.9" cy="430.5" r="5.75" stroke="#0000ff"/><circle cx="480.3" cy="424" r="5.75" stroke="#00cdcd"/><circle cx="202" cy="469" r="5.75" stroke="#696969"/><circle cx="226.8" cy="440" r="5.75" stroke="#0000ff"/><circle cx="259.3" cy="330" r="5.75" stroke="#696969"/><circle cx="413" cy="478" r="5.75" stroke="#006400"/><circle cx="480.7" cy="450.1" r="5.75" stroke="#00cdcd"/><circle cx="149.4" cy="258.8" r="5.75" stroke="#696969"/><circle cx="148.8" cy="394.8" r="5.75" stroke="#696969"/><circle cx="149.4" cy="440.2" r="5.75" stroke="#696969"/><circle cx="495.3" cy="474.9" r="5.75" stroke="#ff0000"/><circle cx="494.7" cy="271" r="5.75" stroke="#ff0000"/><circle cx="413.3" cy="424.7" r="5.75" stroke="#006400"/><circle cx="207.5" cy="453.8" r="5.75" stroke="#696969"/><circle cx="149.3" cy="405.1" r="5.75" stroke="#696969"/><circle cx="480.8" cy="459.2" r="5.75" stroke="#00cdcd"/><circle cx="784.9" cy="308.2" r="5.75" stroke="#ff0000"/><circle cx="193.4" cy="465.2" r="5.75" stroke="#696969"/><circle cx="225.6" cy="451.6" r="5.75" stroke="#696969"/><circle cx="201.6" cy="439.6" r="5.75" stroke="#696969"/><circle cx="220.3" cy="446.1" r="5.75" stroke="#696969"/><circle cx="181.9" cy="475.9" r="5.75" stroke="#0000ff"/><circle cx="228.5" cy="333.2" r="5.75" stroke="#696969"/><circle cx="149.4" cy="413.4" r="5.75" stroke="#696969"/><circle cx="149.2" cy="449.2" r="5.75" stroke="#696969"/><circle cx="224.4" cy="461.2" r="5.75" stroke="#696969"/><circle cx="149.1" cy="306.4" r="5.75" stroke="#696969"/><circle cx="149.3" cy="423.2" r="5.75" stroke="#696969"/><circle cx="213.2" cy="471.5" r="5.75" stroke="#0000ff"/><circle cx="228.5" cy="297.4" r="5.75" stroke="#696969"/><circle cx="480.9" cy="445.1" r="5.75" stroke="#00cdcd"/><circle cx="227.7" cy="409.5" r="5.75" stroke="#0000ff"/><circle cx="203.5" cy="471.4" r="5.75" stroke="#696969"/><circle cx="495.3" cy="402.4" r="5.75" stroke="#ff0000"/><circle cx="494.9" cy="416.6" r="5.75" stroke="#ff0000"/><circle cx="181.9" cy="404.3" r="5.75" stroke="#0000ff"/><circle cx="195.9" cy="413.1" r="5.75" stroke="#696969"/><circle cx="495.1" cy="268" r="5.75" stroke="#ff0000"/><circle cx="531.4" cy="335.1" r="5.75" stroke="#ff0000"/><circle cx="508.8" cy="281.6" r="5.75" stroke="#00cdcd"/><circle cx="182.2" cy="297.9" r="5.75" stroke="#0000ff"/><circle cx="220.1" cy="323.5" r="5.75" stroke="#696969"/><circle cx="495.3" cy="272.5" r="5.75" stroke="#ff0000"/><circle cx="200.7" cy="437.2" r="5.75" stroke="#0000ff"/><circle cx="511.3" cy="420.2" r="5.75" stroke="#00cdcd"/><circle cx="479.9" cy="449.3" r="5.75" stroke="#00cdcd"/><circle cx="480.8" cy="298" r="5.75" stroke="#00cdcd"/><circle cx="344.8" cy="477.9" r="5.75" stroke="#006400"/><circle cx="149.4" cy="310.4" r="5.75" stroke="#696969"/><circle cx="210.3" cy="461.4" r="5.75" stroke="#696969"/><circle cx="495.1" cy="415.3" r="5.75" stroke="#ff0000"/><circle cx="480.6" cy="411.8" r="5.75" stroke="#00cdcd"/><circle cx="480.9" cy="298" r="5.75" stroke="#00cdcd"/><circle cx="426.4" cy="417.8" r="5.75" stroke="#696969"/><circle cx="197.5" cy="465.6" r="5.75" stroke="#696969"/><circle cx="345.5" cy="455.3" r="5.75" stroke="#ffd700"/><circle cx="480.3" cy="315.3" r="5.75" stroke="#00cdcd"/><circle cx="494.8" cy="297.3" r="5.75" stroke="#ff0000"/><circle cx="203.1" cy="466.2" r="5.75" stroke="#0000ff"/><circle cx="224.6" cy="441.2" r="5.75" stroke="#696969"/><circle cx="202.8" cy="464.8" r="5.75" stroke="#696969"/><circle cx="412.6" cy="334.3" r="5.75" stroke="#006400"/><circle cx="413.4" cy="309.7" r="5.75" stroke="#006400"/><circle cx="480.6" cy="478.4" r="5.75" stroke="#00cdcd"/><circle cx="225.1" cy="464.4" r="5.75" stroke="#696969"/><circle cx="182.1" cy="250.6" r="5.75" stroke="#0000ff"/><circle cx="494.9" cy="455" r="5.75" stroke="#ff0000"/><circle cx="148.8" cy="441.7" r="5.75" stroke="#696969"/><circle cx="149.4" cy="294.6" r="5.75" stroke="#696969"/><circle cx="213.7" cy="421.6" r="5.75" stroke="#696969"/><circle cx="149.1" cy="393.6" r="5.75" stroke="#696969"/><circle cx="494.8" cy="329.5" r="5.75" stroke="#ff0000"/><circle cx="204.5" cy="465.1" r="5.75" stroke="#696969"/><circle cx="148.8" cy="456.6" r="5.75" stroke="#696969"/><circle cx="480.7" cy="435" r="5.75" stroke="#00cdcd"/><circle cx="784.9" cy="258.6" r="5.75" stroke="#ff0000"/><circle cx="213.3" cy="471.6" r="5.75" stroke="#0000ff"/><circle cx="148.8" cy="422.2" r="5.75" stroke="#696969"/><circle cx="495.1" cy="325.1" r="5.75" stroke="#ff0000"/><circle cx="149.1" cy="479.2" r="5.75" stroke="#696969"/><circle cx="212.1" cy="307" r="5.75" stroke="#0000ff"/><circle cx="412.7" cy="303.9" r="5.75" stroke="#006400"/><circle cx="198.8" cy="416.4" r="5.75" stroke="#696969"/><circle cx="149.3" cy="257.7" r="5.75" stroke="#696969"/><circle cx="480.3" cy="334.3" r="5.75" stroke="#00cdcd"/><circle cx="148.8" cy="413.1" r="5.75" stroke="#696969"/><circle cx="518.5" cy="333.7" r="5.75" stroke="#ff0000"/><circle cx="480.1" cy="475.1" r="5.75" stroke="#00cdcd"/><circle cx="195" cy="460.9" r="5.75" stroke="#696969"/><circle cx="201" cy="429.2" r="5.75" stroke="#0000ff"/><circle cx="369.7" cy="405" r="5.75" stroke="#696969"/><circle cx="479.9" cy="290.1" r="5.75" stroke="#00cdcd"/><circle cx="149.4" cy="416.9" r="5.75" stroke="#696969"/><circle cx="149.1" cy="270.9" r="5.75" stroke="#696969"/><circle cx="148.8" cy="289.8" r="5.75" stroke="#696969"/><circle cx="495.2" cy="469.1" r="5.75" stroke="#ff0000"/><circle cx="509.3" cy="308.2" r="5.75" stroke="#00cdcd"/><circle cx="412.8" cy="454.7" r="5.75" stroke="#006400"/><circle cx="169.2" cy="417.4" r="5.75" stroke="#696969"/><circle cx="212.6" cy="459" r="5.75" stroke="#696969"/><circle cx="250.3" cy="411.8" r="5.75" stroke="#696969"/><circle cx="149" cy="433.4" r="5.75" stroke="#696969"/><circle cx="211.5" cy="440.6" r="5.75" stroke="#696969"/><circle cx="480.5" cy="447.5" r="5.75" stroke="#00cdcd"/><circle cx="149.5" cy="321.5" r="5.75" stroke="#696969"/><circle cx="528.2" cy="307" r="5.75" stroke="#00cdcd"/><circle cx="480.4" cy="480.6" r="5.75" stroke="#00cdcd"/><circle cx="149.2" cy="426.8" r="5.75" stroke="#696969"/><circle cx="182.1" cy="466.2" r="5.75" stroke="#0000ff"/><circle cx="495.2" cy="316.8" r="5.75" stroke="#ff0000"/><circle cx="214.6" cy="415" r="5.75" stroke="#696969"/><circle cx="227.3" cy="291.5" r="5.75" stroke="#696969"/><circle cx="480.8" cy="459.4" r="5.75" stroke="#00cdcd"/><circle cx="172.8" cy="477.1" r="5.75" stroke="#696969"/><circle cx="494.8" cy="281.6" r="5.75" stroke="#ff0000"/><circle cx="217.5" cy="412.3" r="5.75" stroke="#696969"/><circle cx="345.5" cy="400.9" r="5.75" stroke="#ffd700"/><circle cx="495.3" cy="253.2" r="5.75" stroke="#ff0000"/><circle cx="182.2" cy="306.7" r="5.75" stroke="#0000ff"/><circle cx="243.8" cy="332" r="5.75" stroke="#696969"/><circle cx="412.7" cy="282" r="5.75" stroke="#006400"/><circle cx="149" cy="300.6" r="5.75" stroke="#696969"/><circle cx="412.5" cy="401.4" r="5.75" stroke="#006400"/><circle cx="149" cy="474.3" r="5.75" stroke="#696969"/><circle cx="220.1" cy="301.7" r="5.75" stroke="#696969"/><circle cx="205" cy="409.2" r="5.75" stroke="#696969"/><circle cx="495.4" cy="408.1" r="5.75" stroke="#ff0000"/><circle cx="148.7" cy="429.1" r="5.75" stroke="#696969"/><circle cx="197.1" cy="394.3" r="5.75" stroke="#696969"/><circle cx="219.7" cy="457" r="5.75" stroke="#0000ff"/><circle cx="205.5" cy="303.6" r="5.75" stroke="#696969"/><circle cx="148.8" cy="467.1" r="5.75" stroke="#696969"/><circle cx="201.3" cy="479.9" r="5.75" stroke="#696969"/><circle cx="494.9" cy="430.4" r="5.75" stroke="#ff0000"/><circle cx="210.5" cy="419" r="5.75" stroke="#696969"/><circle cx="480.1" cy="301.7" r="5.75" stroke="#00cdcd"/><circle cx="412.7" cy="321.8" r="5.75" stroke="#006400"/><circle cx="495.1" cy="444.7" r="5.75" stroke="#ff0000"/><circle cx="494.7" cy="308.1" r="5.75" stroke="#ff0000"/><circle cx="494.7" cy="421.4" r="5.75" stroke="#ff0000"/><circle cx="149.4" cy="330" r="5.75" stroke="#696969"/><circle cx="215.4" cy="477.7" r="5.75" stroke="#696969"/><circle cx="412.8" cy="446.3" r="5.75" stroke="#006400"/><circle cx="182.1" cy="480.6" r="5.75" stroke="#0000ff"/><circle cx="210.4" cy="421.4" r="5.75" stroke="#0000ff"/><circle cx="204.4" cy="425.1" r="5.75" stroke="#696969"/><circle cx="345.5" cy="307.3" r="5.75" stroke="#ffd700"/><circle cx="412.7" cy="290.8" r="5.75" stroke="#006400"/><circle cx="495.2" cy="308.6" r="5.75" stroke="#ff0000"/><circle cx="209" cy="456.6" r="5.75" stroke="#696969"/><circle cx="182.4" cy="320.6" r="5.75" stroke="#0000ff"/><circle cx="228" cy="432.1" r="5.75" stroke="#696969"/><circle cx="188.6" cy="299.3" r="5.75" stroke="#696969"/><circle cx="231" cy="404.5" r="5.75" stroke="#0000ff"/><circle cx="182.4" cy="272.9" r="5.75" stroke="#0000ff"/><circle cx="480.3" cy="308.2" r="5.75" stroke="#00cdcd"/><circle cx="480.3" cy="452.5" r="5.75" stroke="#00cdcd"/><circle cx="446.9" cy="471.1" r="5.75" stroke="#00cdcd"/><circle cx="480.2" cy="279.9" r="5.75" stroke="#00cdcd"/><circle cx="208.2" cy="413.8" r="5.75" stroke="#696969"/><circle cx="187.4" cy="439.3" r="5.75" stroke="#696969"/><circle cx="494.6" cy="443" r="5.75" stroke="#ff0000"/><circle cx="161.3" cy="421.5" r="5.75" stroke="#696969"/><circle cx="182.5" cy="255.9" r="5.75" stroke="#0000ff"/><circle cx="229.3" cy="436.4" r="5.75" stroke="#696969"/><circle cx="412.8" cy="312.6" r="5.75" stroke="#006400"/><circle cx="480.5" cy="284.1" r="5.75" stroke="#00cdcd"/><circle cx="253.2" cy="446.4" r="5.75" stroke="#696969"/><circle cx="413.3" cy="399.2" r="5.75" stroke="#006400"/><circle cx="192.7" cy="438" r="5.75" stroke="#696969"/><circle cx="308" cy="423.1" r="5.75" stroke="#800000"/><circle cx="164.3" cy="471.7" r="5.75" stroke="#696969"/><circle cx="148.7" cy="273.7" r="5.75" stroke="#696969"/><circle cx="215.4" cy="418.3" r="5.75" stroke="#696969"/><circle cx="308" cy="477.9" r="5.75" stroke="#800000"/><circle cx="495.3" cy="464.7" r="5.75" stroke="#ff0000"/><circle cx="480.5" cy="262.7" r="5.75" stroke="#00cdcd"/><circle cx="182.1" cy="393.6" r="5.75" stroke="#0000ff"/><circle cx="427.1" cy="446.4" r="5.75" stroke="#006400"/><circle cx="480.6" cy="425.2" r="5.75" stroke="#00cdcd"/><circle cx="175.2" cy="440.2" r="5.75" stroke="#696969"/><circle cx="209.9" cy="470.4" r="5.75" stroke="#696969"/><circle cx="214" cy="269.7" r="5.75" stroke="#696969"/><circle cx="220.5" cy="250.4" r="5.75" stroke="#696969"/><circle cx="459.8" cy="428.7" r="5.75" stroke="#006400"/><circle cx="413.4" cy="449.5" r="5.75" stroke="#006400"/><circle cx="203.3" cy="481.8" r="5.75" stroke="#696969"/><circle cx="412.8" cy="466.3" r="5.75" stroke="#006400"/><circle cx="480.8" cy="438.1" r="5.75" stroke="#00cdcd"/><circle cx="201.8" cy="433.9" r="5.75" stroke="#696969"/><circle cx="182" cy="427.7" r="5.75" stroke="#0000ff"/><circle cx="207.1" cy="459.1" r="5.75" stroke="#0000ff"/><circle cx="227.2" cy="397.3" r="5.75" stroke="#696969"/><circle cx="214.6" cy="465.4" r="5.75" stroke="#0000ff"/><circle cx="480.4" cy="465.4" r="5.75" stroke="#00cdcd"/><circle cx="413.2" cy="271.1" r="5.75" stroke="#006400"/><circle cx="215.3" cy="445.7" r="5.75" stroke="#696969"/><circle cx="424.2" cy="435.5" r="5.75" stroke="#ffd700"/><circle cx="412.5" cy="255.6" r="5.75" stroke="#006400"/><circle cx="494.6" cy="424.4" r="5.75" stroke="#ff0000"/><circle cx="149.1" cy="269.4" r="5.75" stroke="#696969"/><circle cx="495.2" cy="463.7" r="5.75" stroke="#ff0000"/><circle cx="149.1" cy="454.9" r="5.75" stroke="#696969"/><circle cx="495.1" cy="450.8" r="5.75" stroke="#ff0000"/><circle cx="167.3" cy="399.7" r="5.75" stroke="#696969"/><circle cx="148.9" cy="261.3" r="5.75" stroke="#696969"/><circle cx="495" cy="445.8" r="5.75" stroke="#ff0000"/><circle cx="480.2" cy="426.8" r="5.75" stroke="#00cdcd"/><circle cx="413.4" cy="474.9" r="5.75" stroke="#006400"/><circle cx="413.5" cy="265.4" r="5.75" stroke="#006400"/><circle cx="480.9" cy="322.8" r="5.75" stroke="#00cdcd"/><circle cx="494.8" cy="430.4" r="5.75" stroke="#ff0000"/><circle cx="495.2" cy="276.2" r="5.75" stroke="#ff0000"/><circle cx="213.3" cy="462.4" r="5.75" stroke="#696969"/><circle cx="226.9" cy="456.7" r="5.75" stroke="#696969"/><circle cx="480.7" cy="394.7" r="5.75" stroke="#00cdcd"/><circle cx="207.8" cy="477.5" r="5.75" stroke="#696969"/><circle cx="413.4" cy="442.1" r="5.75" stroke="#006400"/><circle cx="207.2" cy="319.1" r="5.75" stroke="#696969"/><circle cx="263.2" cy="461.4" r="5.75" stroke="#696969"/><circle cx="495" cy="334.8" r="5.75" stroke="#ff0000"/><circle cx="200.2" cy="450.4" r="5.75" stroke="#696969"/><circle cx="181.6" cy="281" r="5.75" stroke="#0000ff"/><circle cx="217.5" cy="471.6" r="5.75" stroke="#696969"/><circle cx="480.7" cy="400.8" r="5.75" stroke="#00cdcd"/><circle cx="552.4" cy="278.2" r="5.75" stroke="#ff0000"/><circle cx="149.4" cy="437.5" r="5.75" stroke="#696969"/><circle cx="181.7" cy="408.5" r="5.75" stroke="#0000ff"/><circle cx="149.1" cy="271.2" r="5.75" stroke="#696969"/><circle cx="480.6" cy="310.2" r="5.75" stroke="#00cdcd"/><circle cx="181.7" cy="453.1" r="5.75" stroke="#0000ff"/><circle cx="412.6" cy="463.3" r="5.75" stroke="#006400"/><circle cx="182.5" cy="313.7" r="5.75" stroke="#0000ff"/><circle cx="345.5" cy="463.8" r="5.75" stroke="#ffd700"/><circle cx="149.3" cy="473.5" r="5.75" stroke="#696969"/><circle cx="495.1" cy="435.9" r="5.75" stroke="#ff0000"/><circle cx="412.6" cy="457.1" r="5.75" stroke="#006400"/><circle cx="418.6" cy="265.4" r="5.75" stroke="#696969"/><circle cx="412.7" cy="419.2" r="5.75" stroke="#006400"/><circle cx="495.1" cy="470.9" r="5.75" stroke="#ff0000"/><circle cx="480.4" cy="250.6" r="5.75" stroke="#00cdcd"/><circle cx="480.5" cy="471.1" r="5.75" stroke="#00cdcd"/><circle cx="208.6" cy="413.5" r="5.75" stroke="#696969"/><circle cx="149.3" cy="315" r="5.75" stroke="#696969"/><circle cx="480.3" cy="432.3" r="5.75" stroke="#00cdcd"/><circle cx="192.1" cy="462.1" r="5.75" stroke="#0000ff"/><circle cx="413.4" cy="273.9" r="5.75" stroke="#006400"/><circle cx="386.7" cy="425.6" r="5.75" stroke="#006400"/><circle cx="202.8" cy="467.3" r="5.75" stroke="#696969"/><circle cx="495.1" cy="329.9" r="5.75" stroke="#ff0000"/><circle cx="494.6" cy="414.6" r="5.75" stroke="#ff0000"/><circle cx="365.3" cy="260.1" r="5.75" stroke="#006400"/><circle cx="149.2" cy="456.5" r="5.75" stroke="#696969"/><circle cx="480.2" cy="431.7" r="5.75" stroke="#00cdcd"/><circle cx="167.2" cy="409.9" r="5.75" stroke="#696969"/><circle cx="228.7" cy="454.7" r="5.75" stroke="#696969"/><circle cx="480.4" cy="420.4" r="5.75" stroke="#00cdcd"/><circle cx="495.3" cy="434.8" r="5.75" stroke="#ff0000"/><circle cx="149.1" cy="334.8" r="5.75" stroke="#696969"/><circle cx="345.5" cy="259.3" r="5.75" stroke="#ffd700"/><circle cx="197.3" cy="457.5" r="5.75" stroke="#696969"/><circle cx="467.5" cy="300.5" r="5.75" stroke="#696969"/><circle cx="444" cy="275.8" r="5.75" stroke="#006400"/><circle cx="413.1" cy="259.7" r="5.75" stroke="#006400"/><circle cx="160.2" cy="462.4" r="5.75" stroke="#696969"/><circle cx="480.2" cy="457.8" r="5.75" stroke="#00cdcd"/><circle cx="206.5" cy="427.3" r="5.75" stroke="#696969"/><circle cx="412.5" cy="462.5" r="5.75" stroke="#006400"/><circle cx="495.1" cy="398.2" r="5.75" stroke="#ff0000"/><circle cx="494.7" cy="477.9" r="5.75" stroke="#ff0000"/><circle cx="784.9" cy="448.1" r="5.75" stroke="#ff0000"/><circle cx="148.9" cy="323.5" r="5.75" stroke="#696969"/><circle cx="412.8" cy="440" r="5.75" stroke="#006400"/><circle cx="212.3" cy="463.4" r="5.75" stroke="#696969"/><circle cx="149.5" cy="461" r="5.75" stroke="#696969"/><circle cx="480.8" cy="418.7" r="5.75" stroke="#00cdcd"/><circle cx="203.3" cy="423.1" r="5.75" stroke="#696969"/><circle cx="802.3" cy="459" r="5.75" stroke="#ff0000"/><circle cx="182.1" cy="432.9" r="5.75" stroke="#0000ff"/><circle cx="149.1" cy="480.6" r="5.75" stroke="#696969"/></g>
<g fill="none" stroke="#000"><path d="M149.1 291.4H182.1 M480.4 291.4H802.6" stroke-width="4.1"/><rect x="182.1" y="226.4" width="298.3" height="130" stroke-width="4.1"/><path d="M413 226.4V356.4" stroke-width="8"/></g>
<g fill="none" stroke="#000"><path d="M149.1 436.6H182.1 M480.4 436.6H830.9" stroke-width="4.1"/><rect x="182.1" y="371.6" width="298.3" height="130" stroke-width="4.1"/><path d="M227.8 371.6V501.6" stroke-width="8"/></g>
<g font-size="23" fill="#000">
<text x="148.6" y="567">Double 1−sided Unadj. Sieve P &lt; 0.001</text>
<text x="148.6" y="600.8">FWER P−value &lt; 0.001; Q−value &lt; 0.001</text>
<text x="237.4" y="643.8">95% Pointwise CI</text>
</g>
<path d="M147 635.5H214.6" stroke="#000" stroke-width="6.2" stroke-dasharray="23.5 22.3" fill="none"/>
<path d="M149.1 731.9L152.1 732.6L155.1 733.4L158.1 734.1L161.1 734.9L164.1 735.7L167.1 736.4L170.1 737.2L173.1 738.0L176.1 738.8L179.1 739.6L182.1 740.4L185.1 741.2L188.1 742.1L191.1 742.9L194.1 743.7L197.1 744.5L200.1 745.4L203.1 746.2L206.1 747.1L209.1 747.9L212.1 748.8L215.1 749.7L218.1 750.5L221.1 751.4L224.1 752.3L227.1 753.2L230.1 754.1L233.1 755.0L236.1 755.9L239.1 756.8L242.1 757.7L245.1 758.6L248.1 759.5L251.1 760.4L254.1 761.3L257.1 762.3L260.1 763.2L263.1 764.1L266.1 765.1L269.1 766.0L272.1 766.9L275.1 767.9L278.1 768.8L281.1 769.8L284.1 770.7L287.1 771.7L290.1 772.6L293.1 773.6L296.1 774.5L299.1 775.5L302.1 776.5L305.1 777.4L308.1 778.4L311.1 779.3L314.1 780.3L317.1 781.2L320.1 782.2L323.1 783.1L326.1 784.1L329.1 785.0L332.1 786.0L335.1 786.9L338.1 787.9L341.1 788.8L344.1 789.8L347.1 790.7L350.1 791.6L353.1 792.6L356.1 793.5L359.1 794.4L362.1 795.3L365.1 796.2L368.1 797.2L371.1 798.1L374.1 799.0L377.1 799.9L380.1 800.8L383.1 801.7L386.1 802.6L389.1 803.5L392.1 804.4L395.1 805.2L398.1 806.1L401.1 807.0L404.1 807.9L407.1 808.7L410.1 809.6L413.1 810.5L416.1 811.3L419.1 812.2L422.1 813.1L425.1 813.9L428.1 814.8L431.1 815.6L434.1 816.5L437.1 817.3L440.1 818.1L443.1 819.0L446.1 819.8L449.1 820.7L452.1 821.5L455.1 822.3L458.1 823.1L461.1 824.0L464.1 824.8L467.1 825.6L470.1 826.5L473.1 827.3L476.1 828.1L479.1 828.9L482.1 829.7L485.1 830.6L488.1 831.4L491.1 832.2L494.1 833.0L497.1 833.8L500.1 834.7L503.1 835.5L506.1 836.3L509.1 837.1L512.1 837.9L515.1 838.7L518.1 839.6L521.1 840.4L524.1 841.2L527.1 842.0L530.1 842.8L533.1 843.7L536.1 844.5L539.1 845.3L542.1 846.1L545.1 846.9L548.1 847.8L551.1 848.6L554.1 849.4L557.1 850.3L560.1 851.1L563.1 851.9L566.1 852.7L569.1 853.6L572.1 854.4L575.1 855.2L578.1 856.1L581.1 856.9L584.1 857.8L587.1 858.6L590.1 859.4L593.1 860.3L596.1 861.1L599.1 862.0L602.1 862.8L605.1 863.7L608.1 864.5L611.1 865.4L614.1 866.2L617.1 867.1L620.1 868.0L623.1 868.8L626.1 869.7L629.1 870.6L632.1 871.4L635.1 872.3L638.1 873.2L641.1 874.0L644.1 874.9L647.1 875.8L650.1 876.7L653.1 877.6L656.1 878.4L659.1 879.3L662.1 880.2L665.1 881.1L668.1 882.0L671.1 882.9L674.1 883.8L677.1 884.7L680.1 885.6L683.1 886.5L686.1 887.4L689.1 888.4L692.1 889.3L695.1 890.2L698.1 891.1L701.1 892.0L704.1 893.0L707.1 893.9L710.1 894.8L713.1 895.8L716.1 896.7L719.1 897.6L722.1 898.6L725.1 899.5L728.1 900.5L731.1 901.4L734.1 902.4L737.1 903.3L740.1 904.3L743.1 905.3L746.1 906.2L749.1 907.2L752.1 908.2L755.1 909.2L758.1 910.1L761.1 911.1L764.1 912.1L767.1 913.1L770.1 914.1L773.1 915.1L776.1 916.1L779.1 917.1L782.1 918.1L785.1 919.1L788.1 920.1L791.1 921.1L794.1 922.1L797.1 923.1L800.1 924.2L803.1 925.2L806.1 926.2L809.1 927.3L812.1 928.3L815.1 929.3L818.1 930.4L821.1 931.4L824.1 932.5L825.0 932.8" fill="none" stroke="#000" stroke-width="5.5" stroke-dasharray="23.3 22.15"/>
<path d="M149.1 784.4L152.1 784.9L155.1 785.5L158.1 786.1L161.1 786.7L164.1 787.2L167.1 787.8L170.1 788.4L173.1 789.0L176.1 789.6L179.1 790.2L182.1 790.8L185.1 791.5L188.1 792.1L191.1 792.7L194.1 793.3L197.1 794.0L200.1 794.6L203.1 795.3L206.1 795.9L209.1 796.6L212.1 797.3L215.1 797.9L218.1 798.6L221.1 799.3L224.1 800.0L227.1 800.7L230.1 801.4L233.1 802.1L236.1 802.9L239.1 803.6L242.1 804.3L245.1 805.1L248.1 805.8L251.1 806.6L254.1 807.4L257.1 808.2L260.1 809.0L263.1 809.8L266.1 810.6L269.1 811.4L272.1 812.3L275.1 813.1L278.1 814.0L281.1 814.9L284.1 815.8L287.1 816.7L290.1 817.6L293.1 818.5L296.1 819.5L299.1 820.4L302.1 821.4L305.1 822.4L308.1 823.4L311.1 824.4L314.1 825.4L317.1 826.5L320.1 827.6L323.1 828.6L326.1 829.7L329.1 830.9L332.1 832.0L335.1 833.2L338.1 834.3L341.1 835.5L344.1 836.7L347.1 838.0L350.1 839.2L353.1 840.5L356.1 841.8L359.1 843.1L362.1 844.4L365.1 845.8L368.1 847.2L371.1 848.6L374.1 850.0L377.1 851.4L380.1 852.9L383.1 854.4L386.1 855.9L389.1 857.4L392.1 859.0L395.1 860.6L398.1 862.2L401.1 863.8L404.1 865.5L407.1 867.1L410.1 868.8L413.1 870.6L416.1 872.3L419.1 874.1L422.1 875.9L425.1 877.7L428.1 879.5L431.1 881.4L434.1 883.3L437.1 885.2L440.1 887.2L443.1 889.1L446.1 891.1L449.1 893.1L452.1 895.2L455.1 897.2L458.1 899.3L461.1 901.5L464.1 903.6L467.1 905.8L470.1 908.0L473.1 910.2L476.1 912.4L479.1 914.7L482.1 917.0L485.1 919.3L488.1 921.7L491.1 924.1L494.1 926.5L497.1 928.9L500.1 931.4L503.1 933.9L506.1 936.4L509.1 938.9L512.1 941.5L515.1 944.1L518.1 946.7L521.1 949.4L524.1 952.1L527.1 954.8L530.1 957.5L533.1 960.3L536.1 963.1L539.1 965.9L542.1 968.8L545.1 971.7L548.1 974.6L551.1 977.6L554.1 980.5L557.1 983.6L560.1 986.6L563.1 989.7L566.1 992.8L569.1 995.9L572.1 999.1L575.1 1002.3L578.1 1005.5L581.1 1008.8L584.1 1012.1L587.1 1015.5L590.1 1018.8L593.1 1022.2L596.1 1025.7L599.1 1029.2L602.1 1032.7L605.1 1036.2L608.1 1039.8L611.1 1043.4L614.1 1047.1L617.1 1050.8L620.1 1054.5L623.1 1058.2L626.1 1062.0L629.1 1065.9L632.1 1069.8L635.1 1073.7L638.1 1077.6L641.1 1081.6L644.1 1085.7L647.1 1089.7L650.1 1093.8L653.1 1098.0L656.1 1102.2L659.1 1106.4L662.1 1110.7L665.1 1115.0L668.1 1119.4L669.1 1120.9" fill="none" stroke="#000" stroke-width="5.5" stroke-dasharray="23.3 22.15"/>
<path d="M149.1 754.9L152.1 755.6L155.1 756.3L158.1 757.0L161.1 757.7L164.1 758.5L167.1 759.2L170.1 759.9L173.1 760.7L176.1 761.4L179.1 762.1L182.1 762.9L185.1 763.6L188.1 764.4L191.1 765.2L194.1 765.9L197.1 766.7L200.1 767.5L203.1 768.3L206.1 769.0L209.1 769.8L212.1 770.6L215.1 771.4L218.1 772.3L221.1 773.1L224.1 773.9L227.1 774.7L230.1 775.5L233.1 776.4L236.1 777.2L239.1 778.1L242.1 778.9L245.1 779.8L248.1 780.7L251.1 781.5L254.1 782.4L257.1 783.3L260.1 784.2L263.1 785.1L266.1 786.0L269.1 786.9L272.1 787.8L275.1 788.7L278.1 789.6L281.1 790.6L284.1 791.5L287.1 792.4L290.1 793.4L293.1 794.3L296.1 795.3L299.1 796.3L302.1 797.2L305.1 798.2L308.1 799.2L311.1 800.2L314.1 801.2L317.1 802.2L320.1 803.2L323.1 804.2L326.1 805.3L329.1 806.3L332.1 807.3L335.1 808.4L338.1 809.4L341.1 810.5L344.1 811.6L347.1 812.6L350.1 813.7L353.1 814.8L356.1 815.9L359.1 817.0L362.1 818.1L365.1 819.2L368.1 820.4L371.1 821.5L374.1 822.6L377.1 823.8L380.1 824.9L383.1 826.1L386.1 827.3L389.1 828.4L392.1 829.6L395.1 830.8L398.1 832.0L401.1 833.2L404.1 834.5L407.1 835.7L410.1 836.9L413.1 838.2L416.1 839.4L419.1 840.7L422.1 841.9L425.1 843.2L428.1 844.5L431.1 845.8L434.1 847.1L437.1 848.4L440.1 849.7L443.1 851.0L446.1 852.4L449.1 853.7L452.1 855.1L455.1 856.4L458.1 857.8L461.1 859.2L464.1 860.6L467.1 862.0L470.1 863.4L473.1 864.8L476.1 866.2L479.1 867.7L482.1 869.1L485.1 870.6L488.1 872.0L491.1 873.5L494.1 875.0L497.1 876.5L500.1 878.0L503.1 879.5L506.1 881.0L509.1 882.5L512.1 884.1L515.1 885.6L518.1 887.2L521.1 888.8L524.1 890.4L527.1 892.0L530.1 893.6L533.1 895.2L536.1 896.8L539.1 898.4L542.1 900.1L545.1 901.7L548.1 903.4L551.1 905.1L554.1 906.8L557.1 908.5L560.1 910.2L563.1 911.9L566.1 913.7L569.1 915.4L572.1 917.2L575.1 918.9L578.1 920.7L581.1 922.5L584.1 924.3L587.1 926.2L590.1 928.0L593.1 929.8L596.1 931.7L599.1 933.6L602.1 935.4L605.1 937.3L608.1 939.2L611.1 941.1L614.1 943.1L617.1 945.0L620.1 947.0L623.1 948.9L626.1 950.9L629.1 952.9L632.1 954.9L635.1 956.9L638.1 959.0L641.1 961.0L644.1 963.1L647.1 965.2L650.1 967.3L653.1 969.4L656.1 971.5L659.1 973.6L662.1 975.7L665.1 977.9L668.1 980.1L671.1 982.3L674.1 984.5L677.1 986.7L680.1 988.9L683.1 991.2L686.1 993.4L689.1 995.7L692.1 998.0L695.1 1000.3L698.1 1002.6L701.1 1004.9L704.1 1007.3L707.1 1009.7L710.1 1012.1L713.1 1014.4L716.1 1016.9L719.1 1019.3L722.1 1021.7L725.1 1024.2L728.1 1026.7L731.1 1029.2L734.1 1031.7L737.1 1034.2L740.1 1036.8L743.1 1039.3L746.1 1041.9L749.1 1044.5L752.1 1047.1L755.1 1049.7L758.1 1052.4L761.1 1055.0L764.1 1057.7L767.1 1060.4L770.1 1063.1L773.1 1065.9L776.1 1068.6L779.1 1071.4L782.1 1074.2L785.1 1077.0L788.1 1079.8L791.1 1082.7L794.1 1085.5L797.1 1088.4L800.1 1091.3L803.1 1094.3L806.1 1097.2L809.1 1100.2L812.1 1103.1L815.1 1106.1L818.1 1109.2L821.1 1112.2L824.1 1115.3L827.1 1118.3L829.6 1120.9" fill="none" stroke="#000" stroke-width="7.6"/>
<path d="M185.7 740.4V801.9 M178.8 740.4h13.8 M178.8 801.9h13.8" stroke="#696969" stroke-width="4.9" fill="none"/>
<path d="M182.1 728.8V820.8 M175.2 728.8h13.8 M175.2 820.8h13.8" stroke="#0000ff" stroke-width="4.9" fill="none"/>
<path d="M413 784.4V949.1 M406.1 784.4h13.8 M406.1 949.1h13.8" stroke="#006400" stroke-width="4.9" fill="none"/>
<path d="M480.4 798.2V914 M473.5 798.2h13.8 M473.5 914h13.8" stroke="#00cdcd" stroke-width="4.9" fill="none"/>
<path d="M495 846V1097.8 M488.1 846h13.8 M488.1 1097.8h13.8" stroke="#ff0000" stroke-width="4.9" fill="none"/>
<circle cx="185.7" cy="767" r="6.1" fill="#696969"/>
<circle cx="182.1" cy="765.8" r="6.1" fill="#0000ff"/>
<circle cx="413" cy="850.5" r="6.1" fill="#006400"/>
<circle cx="480.4" cy="847.4" r="6.1" fill="#00cdcd"/>
<circle cx="495" cy="946.7" r="6.1" fill="#ff0000"/>
<g fill="none" stroke="#333" stroke-width="1.4">
<rect x="100.6" y="59.7" width="778.8" height="1091.3"/>
<path d="M100.6 520.8H879.4" stroke-width="1.75"/>
<path d="M100.6 1049.2h-6.6 M100.6 982.5h-6.6 M100.6 915.8h-6.6 M100.6 849h-6.6 M100.6 782.3h-6.6 M100.6 715.5h-6.6 M100.6 648.8h-6.6 M185.6 1151v6.6 M355.4 1151v6.6 M525.1 1151v6.6 M694.9 1151v6.6 M864.6 1151v6.6" stroke-width="2.3"/>
</g>
<g font-size="28.8" fill="#000">
<text transform="translate(64.7,1059.8) scale(1,1.05)" text-anchor="middle">−20</text>
<text transform="translate(64.7,993.1) scale(1,1.05)" text-anchor="middle">0</text>
<text transform="translate(64.7,926.4) scale(1,1.05)" text-anchor="middle">20</text>
<text transform="translate(64.7,859.6) scale(1,1.05)" text-anchor="middle">40</text>
<text transform="translate(64.7,792.9) scale(1,1.05)" text-anchor="middle">60</text>
<text transform="translate(64.7,726.1) scale(1,1.05)" text-anchor="middle">80</text>
<text transform="translate(64.7,659.4) scale(1,1.05)" text-anchor="middle">100</text>
<text transform="translate(185.6,1186.1) scale(1,1.05)" text-anchor="middle">5</text>
<text transform="translate(355.4,1186.1) scale(1,1.05)" text-anchor="middle">10</text>
<text transform="translate(525.1,1186.1) scale(1,1.05)" text-anchor="middle">15</text>
<text transform="translate(694.9,1186.1) scale(1,1.05)" text-anchor="middle">20</text>
<text transform="translate(864.6,1186.1) scale(1,1.05)" text-anchor="middle">25</text>
</g>
<g font-size="31.5" fill="#000">
<text x="490" y="1228" text-anchor="middle">Physicochemical−weighted Hamming Distance in S1</text>
<text transform="translate(26.9,875.5) rotate(-90)" text-anchor="middle">VE (%) against COVID−19</text>
</g>
<g font-size="31.5" fill="#000">
<text transform="translate(85.8,292.3) rotate(-90)" text-anchor="middle">Vaccine</text>
<text transform="translate(85.8,436.6) rotate(-90)" text-anchor="middle">Placebo</text>
</g>
<text x="467" y="29.9" font-size="30" font-weight="bold" text-anchor="middle" fill="#000">S1</text>
<text x="4.7" y="26.1" font-size="34" font-weight="bold" fill="#231f20">d</text>
</g>
</svg>
</body>
</html>
